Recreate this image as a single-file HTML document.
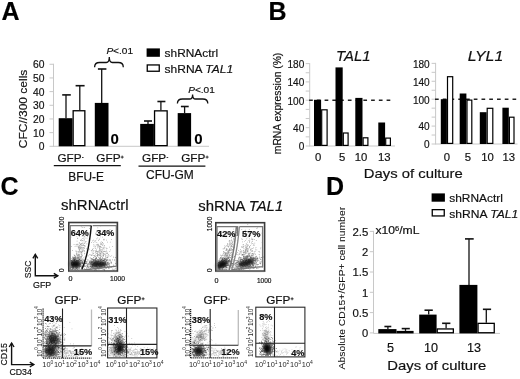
<!DOCTYPE html>
<html><head><meta charset="utf-8"><style>
html,body{margin:0;padding:0;background:#fff;}
body{width:520px;height:379px;overflow:hidden;}
svg{display:block;font-family:"Liberation Sans", sans-serif;filter:grayscale(1);}
text{stroke:#111;stroke-width:0.18px;}
</style></head><body>
<svg width="520" height="379" viewBox="0 0 520 379">
<rect width="520" height="379" fill="#fff"/>
<text x="1.5" y="19.6" font-size="25" font-weight="bold" fill="#000">A</text>
<line x1="53.5" y1="63.780000000000015" x2="53.5" y2="146.8" stroke="#c8c8c8" stroke-width="1"/>
<line x1="49.5" y1="146.3" x2="53.5" y2="146.3" stroke="#c8c8c8" stroke-width="1"/>
<text x="44.5" y="150.4" font-size="10.3" text-anchor="end" fill="#111">0</text>
<line x1="49.5" y1="132.63000000000002" x2="53.5" y2="132.63000000000002" stroke="#c8c8c8" stroke-width="1"/>
<text x="44.5" y="136.73000000000002" font-size="10.3" text-anchor="end" fill="#111">10</text>
<line x1="49.5" y1="118.96000000000001" x2="53.5" y2="118.96000000000001" stroke="#c8c8c8" stroke-width="1"/>
<text x="44.5" y="123.06" font-size="10.3" text-anchor="end" fill="#111">20</text>
<line x1="49.5" y1="105.29000000000002" x2="53.5" y2="105.29000000000002" stroke="#c8c8c8" stroke-width="1"/>
<text x="44.5" y="109.39000000000001" font-size="10.3" text-anchor="end" fill="#111">30</text>
<line x1="49.5" y1="91.62" x2="53.5" y2="91.62" stroke="#c8c8c8" stroke-width="1"/>
<text x="44.5" y="95.72" font-size="10.3" text-anchor="end" fill="#111">40</text>
<line x1="49.5" y1="77.95000000000002" x2="53.5" y2="77.95000000000002" stroke="#c8c8c8" stroke-width="1"/>
<text x="44.5" y="82.05000000000001" font-size="10.3" text-anchor="end" fill="#111">50</text>
<line x1="49.5" y1="64.28000000000002" x2="53.5" y2="64.28000000000002" stroke="#c8c8c8" stroke-width="1"/>
<text x="44.5" y="68.38000000000001" font-size="10.3" text-anchor="end" fill="#111">60</text>
<line x1="53.5" y1="146.3" x2="209" y2="146.3" stroke="#c8c8c8" stroke-width="1"/>
<line x1="66.0" y1="94.9" x2="66.0" y2="118.2" stroke="#111" stroke-width="1.3"/>
<line x1="62.2" y1="94.9" x2="70.8" y2="94.9" stroke="#111" stroke-width="1.6"/>
<line x1="79.8" y1="85.7" x2="79.8" y2="110.1" stroke="#111" stroke-width="1.3"/>
<line x1="75.6" y1="85.7" x2="84.6" y2="85.7" stroke="#111" stroke-width="1.6"/>
<line x1="101.7" y1="69.0" x2="101.7" y2="102.9" stroke="#111" stroke-width="1.3"/>
<line x1="97.9" y1="69.0" x2="106.4" y2="69.0" stroke="#111" stroke-width="1.6"/>
<line x1="148" y1="121" x2="148" y2="124.1" stroke="#111" stroke-width="1.3"/>
<line x1="144" y1="121" x2="152" y2="121" stroke="#111" stroke-width="1.6"/>
<line x1="160.9" y1="101.5" x2="160.9" y2="110.2" stroke="#111" stroke-width="1.3"/>
<line x1="157.4" y1="101.5" x2="165.4" y2="101.5" stroke="#111" stroke-width="1.6"/>
<line x1="184.6" y1="106.5" x2="184.6" y2="113.1" stroke="#111" stroke-width="1.3"/>
<line x1="180.9" y1="106.5" x2="188.7" y2="106.5" stroke="#111" stroke-width="1.6"/>
<rect x="58.70" y="118.20" width="13.80" height="28.10" fill="#000"/>
<rect x="73.15" y="110.75" width="11.70" height="34.90" fill="#fff" stroke="#000" stroke-width="1.3"/>
<rect x="94.80" y="102.90" width="13.70" height="43.40" fill="#000"/>
<rect x="140.20" y="123.90" width="13.70" height="22.40" fill="#000"/>
<rect x="154.55" y="110.85" width="12.60" height="34.80" fill="#fff" stroke="#000" stroke-width="1.3"/>
<rect x="177.70" y="113.10" width="13.40" height="33.20" fill="#000"/>
<text x="110.5" y="143.9" font-size="15" font-weight="bold" fill="#000" style="stroke-width:0.1px">0</text>
<text x="194.3" y="143.8" font-size="15" font-weight="bold" fill="#000" style="stroke-width:0.1px">0</text>
<path d="M94.6,67.2 Q94.6,62.5 99.6,62.5 L106.3,62.5 Q109.3,62.5 109.3,57.0 Q109.3,62.5 112.3,62.5 L118.3,62.5 Q123.3,62.5 123.3,67.2" fill="none" stroke="#111" stroke-width="1.3"/>
<path d="M177.4,103.6 Q177.4,99.0 182.4,99.0 L189.6,99.0 Q192.6,99.0 192.6,94.4 Q192.6,99.0 195.6,99.0 L202.8,99.0 Q207.8,99.0 207.8,103.6" fill="none" stroke="#111" stroke-width="1.3"/>
<text x="106.4" y="54.4" font-size="9.7" textLength="26.6" lengthAdjust="spacingAndGlyphs" fill="#111"><tspan font-style="italic">P</tspan>&lt;.01</text>
<text x="188.2" y="92.9" font-size="9.7" textLength="26.6" lengthAdjust="spacingAndGlyphs" fill="#111"><tspan font-style="italic">P</tspan>&lt;.01</text>
<rect x="146.60" y="48.40" width="13.30" height="8.40" fill="#000"/>
<rect x="147.25" y="64.95" width="12.00" height="6.30" fill="#fff" stroke="#000" stroke-width="1.3"/>
<text x="164.6" y="57.2" font-size="11.8" textLength="53.5" lengthAdjust="spacingAndGlyphs" fill="#111">shRNActrl</text>
<text x="164.6" y="72.9" font-size="11.8" textLength="68.5" lengthAdjust="spacingAndGlyphs" fill="#111">shRNA <tspan font-style="italic">TAL1</tspan></text>
<text x="57.4" y="162.3" font-size="11.2" textLength="24.2" lengthAdjust="spacingAndGlyphs" fill="#111">GFP</text>
<line x1="82.0" y1="157.5" x2="83.6" y2="157.5" stroke="#222" stroke-width="0.9"/>
<text x="96.30000000000001" y="162.3" font-size="11.2" textLength="24.2" lengthAdjust="spacingAndGlyphs" fill="#111">GFP</text>
<line x1="120.7" y1="157.10000000000002" x2="123.7" y2="157.10000000000002" stroke="#222" stroke-width="0.9"/>
<line x1="122.2" y1="155.60000000000002" x2="122.2" y2="158.60000000000002" stroke="#222" stroke-width="0.9"/>
<text x="142.0" y="162.3" font-size="11.2" textLength="24.2" lengthAdjust="spacingAndGlyphs" fill="#111">GFP</text>
<line x1="166.6" y1="157.5" x2="168.2" y2="157.5" stroke="#222" stroke-width="0.9"/>
<text x="181.20000000000002" y="162.3" font-size="11.2" textLength="24.2" lengthAdjust="spacingAndGlyphs" fill="#111">GFP</text>
<line x1="205.6" y1="157.10000000000002" x2="208.6" y2="157.10000000000002" stroke="#222" stroke-width="0.9"/>
<line x1="207.1" y1="155.60000000000002" x2="207.1" y2="158.60000000000002" stroke="#222" stroke-width="0.9"/>
<line x1="53.8" y1="165.6" x2="120.8" y2="165.6" stroke="#111" stroke-width="1.3"/>
<line x1="138.5" y1="166.2" x2="205.4" y2="166.2" stroke="#111" stroke-width="1.3"/>
<text x="68.3" y="180.6" font-size="12" textLength="35.6" lengthAdjust="spacingAndGlyphs" fill="#111">BFU-E</text>
<text x="146.0" y="178.6" font-size="12" textLength="47.8" lengthAdjust="spacingAndGlyphs" fill="#111">CFU-GM</text>
<text transform="translate(26.5,148.2) rotate(-90)" x="0" y="0" font-size="11.8" textLength="78.5" lengthAdjust="spacingAndGlyphs" fill="#111">CFC//300 cells</text>
<text x="268.6" y="19.8" font-size="25" font-weight="bold" fill="#000">B</text>
<line x1="309.7" y1="63.096000000000004" x2="309.7" y2="146.5" stroke="#c8c8c8" stroke-width="1"/>
<line x1="305.7" y1="146.0" x2="309.7" y2="146.0" stroke="#c8c8c8" stroke-width="1"/>
<line x1="305.7" y1="136.844" x2="309.7" y2="136.844" stroke="#c8c8c8" stroke-width="1"/>
<line x1="305.7" y1="127.688" x2="309.7" y2="127.688" stroke="#c8c8c8" stroke-width="1"/>
<line x1="305.7" y1="118.532" x2="309.7" y2="118.532" stroke="#c8c8c8" stroke-width="1"/>
<line x1="305.7" y1="109.376" x2="309.7" y2="109.376" stroke="#c8c8c8" stroke-width="1"/>
<line x1="305.7" y1="100.22" x2="309.7" y2="100.22" stroke="#c8c8c8" stroke-width="1"/>
<line x1="305.7" y1="91.064" x2="309.7" y2="91.064" stroke="#c8c8c8" stroke-width="1"/>
<line x1="305.7" y1="81.908" x2="309.7" y2="81.908" stroke="#c8c8c8" stroke-width="1"/>
<line x1="305.7" y1="72.75200000000001" x2="309.7" y2="72.75200000000001" stroke="#c8c8c8" stroke-width="1"/>
<line x1="305.7" y1="63.596000000000004" x2="309.7" y2="63.596000000000004" stroke="#c8c8c8" stroke-width="1"/>
<text x="304.3" y="67.896" font-size="10.8" text-anchor="end" textLength="16.799999999999997" lengthAdjust="spacingAndGlyphs" fill="#111">180</text>
<text x="304.3" y="86.208" font-size="10.8" text-anchor="end" textLength="16.799999999999997" lengthAdjust="spacingAndGlyphs" fill="#111">140</text>
<text x="304.3" y="104.52" font-size="10.8" text-anchor="end" textLength="16.799999999999997" lengthAdjust="spacingAndGlyphs" fill="#111">100</text>
<text x="304.3" y="131.988" font-size="10.8" text-anchor="end" textLength="11.2" lengthAdjust="spacingAndGlyphs" fill="#111">40</text>
<text x="304.3" y="150.3" font-size="10.8" text-anchor="end" textLength="5.6" lengthAdjust="spacingAndGlyphs" fill="#111">0</text>
<line x1="309.7" y1="146.0" x2="395" y2="146.0" stroke="#c8c8c8" stroke-width="1"/>
<line x1="309.09999999999997" y1="100.22" x2="392" y2="100.22" stroke="#222" stroke-width="1.4" stroke-dasharray="3.7,4.05"/>
<line x1="435.6" y1="62.86" x2="435.6" y2="144.5" stroke="#c8c8c8" stroke-width="1"/>
<line x1="431.6" y1="144.0" x2="435.6" y2="144.0" stroke="#c8c8c8" stroke-width="1"/>
<line x1="431.6" y1="135.04" x2="435.6" y2="135.04" stroke="#c8c8c8" stroke-width="1"/>
<line x1="431.6" y1="126.08" x2="435.6" y2="126.08" stroke="#c8c8c8" stroke-width="1"/>
<line x1="431.6" y1="117.12" x2="435.6" y2="117.12" stroke="#c8c8c8" stroke-width="1"/>
<line x1="431.6" y1="108.16" x2="435.6" y2="108.16" stroke="#c8c8c8" stroke-width="1"/>
<line x1="431.6" y1="99.19999999999999" x2="435.6" y2="99.19999999999999" stroke="#c8c8c8" stroke-width="1"/>
<line x1="431.6" y1="90.24000000000001" x2="435.6" y2="90.24000000000001" stroke="#c8c8c8" stroke-width="1"/>
<line x1="431.6" y1="81.28" x2="435.6" y2="81.28" stroke="#c8c8c8" stroke-width="1"/>
<line x1="431.6" y1="72.32" x2="435.6" y2="72.32" stroke="#c8c8c8" stroke-width="1"/>
<line x1="431.6" y1="63.36" x2="435.6" y2="63.36" stroke="#c8c8c8" stroke-width="1"/>
<text x="429.7" y="67.66" font-size="10.8" text-anchor="end" textLength="16.799999999999997" lengthAdjust="spacingAndGlyphs" fill="#111">180</text>
<text x="429.7" y="85.58" font-size="10.8" text-anchor="end" textLength="16.799999999999997" lengthAdjust="spacingAndGlyphs" fill="#111">140</text>
<text x="429.7" y="103.49999999999999" font-size="10.8" text-anchor="end" textLength="16.799999999999997" lengthAdjust="spacingAndGlyphs" fill="#111">100</text>
<text x="429.7" y="130.38" font-size="10.8" text-anchor="end" textLength="11.2" lengthAdjust="spacingAndGlyphs" fill="#111">40</text>
<text x="429.7" y="148.3" font-size="10.8" text-anchor="end" textLength="5.6" lengthAdjust="spacingAndGlyphs" fill="#111">0</text>
<line x1="435.6" y1="144.0" x2="517.5" y2="144.0" stroke="#c8c8c8" stroke-width="1"/>
<line x1="435.0" y1="99.19999999999999" x2="517.5" y2="99.19999999999999" stroke="#222" stroke-width="1.4" stroke-dasharray="3.7,4.05"/>
<rect x="314.00" y="99.80" width="7.10" height="46.20" fill="#000"/>
<rect x="321.70" y="109.80" width="5.40" height="35.60" fill="#fff" stroke="#000" stroke-width="1.2"/>
<rect x="335.50" y="67.40" width="7.20" height="78.60" fill="#000"/>
<rect x="343.30" y="133.00" width="4.80" height="12.40" fill="#fff" stroke="#000" stroke-width="1.2"/>
<rect x="355.30" y="97.90" width="7.20" height="48.10" fill="#000"/>
<rect x="363.10" y="137.80" width="4.80" height="7.60" fill="#fff" stroke="#000" stroke-width="1.2"/>
<rect x="378.30" y="122.50" width="6.80" height="23.50" fill="#000"/>
<rect x="385.70" y="138.10" width="4.70" height="7.30" fill="#fff" stroke="#000" stroke-width="1.2"/>
<rect x="440.80" y="99.20" width="6.10" height="44.80" fill="#000"/>
<rect x="447.50" y="76.70" width="5.20" height="66.70" fill="#fff" stroke="#000" stroke-width="1.2"/>
<rect x="459.70" y="93.50" width="6.70" height="50.50" fill="#000"/>
<rect x="467.00" y="100.10" width="4.80" height="43.30" fill="#fff" stroke="#000" stroke-width="1.2"/>
<rect x="479.80" y="112.20" width="6.80" height="31.80" fill="#000"/>
<rect x="487.20" y="108.30" width="5.60" height="35.10" fill="#fff" stroke="#000" stroke-width="1.2"/>
<rect x="502.40" y="107.70" width="6.40" height="36.30" fill="#000"/>
<rect x="509.40" y="117.20" width="4.60" height="26.20" fill="#fff" stroke="#000" stroke-width="1.2"/>
<text x="314.9" y="161.0" font-size="11.3" fill="#111">0</text>
<text x="339.1" y="161.0" font-size="11.3" fill="#111">5</text>
<text x="354.7" y="161.0" font-size="11.3" fill="#111">10</text>
<text x="378.0" y="161.0" font-size="11.3" fill="#111">13</text>
<text x="443.7" y="161.0" font-size="11.3" fill="#111">0</text>
<text x="464.8" y="161.0" font-size="11.3" fill="#111">5</text>
<text x="481.3" y="161.0" font-size="11.3" fill="#111">10</text>
<text x="502.4" y="161.0" font-size="11.3" fill="#111">13</text>
<text x="336.0" y="60.9" font-size="14.5" font-style="italic" textLength="34.5" lengthAdjust="spacingAndGlyphs" fill="#111">TAL1</text>
<text x="467.7" y="60.9" font-size="14.5" font-style="italic" textLength="35.5" lengthAdjust="spacingAndGlyphs" fill="#111">LYL1</text>
<text transform="translate(281.4,154.2) rotate(-90)" x="0" y="0" font-size="10.2" textLength="101.5" lengthAdjust="spacingAndGlyphs" fill="#111">mRNA expression (%)</text>
<text x="363.8" y="177.6" font-size="13.6" textLength="99" lengthAdjust="spacingAndGlyphs" fill="#111">Days of culture</text>
<text x="0.5" y="195.0" font-size="25" font-weight="bold" fill="#000">C</text>
<text x="61.0" y="210.1" font-size="14.6" textLength="67.5" lengthAdjust="spacingAndGlyphs" fill="#111">shRNActrl</text>
<text x="198.2" y="211.3" font-size="14.6" textLength="85" lengthAdjust="spacingAndGlyphs" fill="#111">shRNA <tspan font-style="italic">TAL1</tspan></text>
<defs><filter id="bl" x="-50%" y="-50%" width="200%" height="200%"><feGaussianBlur stdDeviation="1.6"/></filter><filter id="bl2" x="-50%" y="-50%" width="200%" height="200%"><feGaussianBlur stdDeviation="0.9"/></filter><filter id="soft" x="-5%" y="-5%" width="110%" height="110%"><feGaussianBlur stdDeviation="0.35"/></filter></defs>
<g filter="url(#soft)">
<ellipse cx="75" cy="264" rx="5.5" ry="3.6" fill="#000" opacity="0.9" filter="url(#bl)"/>
<ellipse cx="98.5" cy="264" rx="8.5" ry="3.2" fill="#000" opacity="0.8" filter="url(#bl)"/>
<path d="M70.3 264.6h0.8v0.8h-0.8zM78.8 262.1h0.8v0.8h-0.8zM69.9 263.3h0.8v0.8h-0.8zM76.8 266.6h0.8v0.8h-0.8zM70.4 259.9h0.8v0.8h-0.8zM77.7 264.8h0.8v0.8h-0.8zM80.8 266.3h0.8v0.8h-0.8zM74.6 262.7h0.8v0.8h-0.8zM84.8 262.7h0.8v0.8h-0.8zM72.0 260.3h0.8v0.8h-0.8zM75.4 263.9h0.8v0.8h-0.8zM73.7 263.3h0.8v0.8h-0.8zM76.0 265.4h0.8v0.8h-0.8zM79.2 264.1h0.8v0.8h-0.8zM72.0 264.1h0.8v0.8h-0.8zM87.5 263.4h0.8v0.8h-0.8zM78.2 259.8h0.8v0.8h-0.8zM73.9 265.4h0.8v0.8h-0.8zM74.6 264.5h0.8v0.8h-0.8zM75.4 260.7h0.8v0.8h-0.8zM77.1 261.2h0.8v0.8h-0.8zM82.1 262.1h0.8v0.8h-0.8zM77.6 263.5h0.8v0.8h-0.8zM78.6 261.8h0.8v0.8h-0.8zM78.8 263.2h0.8v0.8h-0.8zM79.8 265.2h0.8v0.8h-0.8zM75.5 261.3h0.8v0.8h-0.8zM77.9 264.8h0.8v0.8h-0.8zM81.2 262.4h0.8v0.8h-0.8zM77.1 264.9h0.8v0.8h-0.8zM76.1 264.1h0.8v0.8h-0.8zM75.7 261.8h0.8v0.8h-0.8zM71.1 262.4h0.8v0.8h-0.8zM77.2 267.7h0.8v0.8h-0.8zM78.7 266.4h0.8v0.8h-0.8zM78.0 265.5h0.8v0.8h-0.8zM75.7 265.7h0.8v0.8h-0.8zM81.7 262.6h0.8v0.8h-0.8zM72.4 269.0h0.8v0.8h-0.8zM75.9 266.2h0.8v0.8h-0.8zM78.3 260.3h0.8v0.8h-0.8zM84.2 268.5h0.8v0.8h-0.8zM75.7 265.6h0.8v0.8h-0.8zM75.5 261.0h0.8v0.8h-0.8zM74.6 264.5h0.8v0.8h-0.8zM79.2 265.5h0.8v0.8h-0.8zM75.2 267.3h0.8v0.8h-0.8zM72.1 265.7h0.8v0.8h-0.8zM79.2 262.7h0.8v0.8h-0.8zM75.9 265.0h0.8v0.8h-0.8zM80.9 260.7h0.8v0.8h-0.8zM75.0 265.3h0.8v0.8h-0.8zM74.4 256.9h0.8v0.8h-0.8zM78.1 270.0h0.8v0.8h-0.8zM78.8 260.9h0.8v0.8h-0.8zM73.4 264.1h0.8v0.8h-0.8zM84.5 265.2h0.8v0.8h-0.8zM75.4 267.9h0.8v0.8h-0.8zM74.7 268.7h0.8v0.8h-0.8zM72.4 262.2h0.8v0.8h-0.8zM77.7 267.5h0.8v0.8h-0.8zM77.5 264.3h0.8v0.8h-0.8zM72.7 262.0h0.8v0.8h-0.8zM77.2 262.6h0.8v0.8h-0.8zM78.0 263.7h0.8v0.8h-0.8zM73.7 263.8h0.8v0.8h-0.8zM76.6 265.9h0.8v0.8h-0.8zM73.2 262.8h0.8v0.8h-0.8zM69.8 268.0h0.8v0.8h-0.8zM80.5 263.0h0.8v0.8h-0.8zM73.2 260.0h0.8v0.8h-0.8zM75.6 264.1h0.8v0.8h-0.8zM83.3 264.2h0.8v0.8h-0.8zM72.0 256.7h0.8v0.8h-0.8zM80.4 264.0h0.8v0.8h-0.8zM79.3 265.1h0.8v0.8h-0.8zM74.3 257.5h0.8v0.8h-0.8zM74.5 259.1h0.8v0.8h-0.8zM77.3 257.5h0.8v0.8h-0.8zM71.6 266.9h0.8v0.8h-0.8zM81.2 260.2h0.8v0.8h-0.8zM78.2 260.7h0.8v0.8h-0.8zM72.4 261.6h0.8v0.8h-0.8zM70.5 261.6h0.8v0.8h-0.8zM79.8 265.4h0.8v0.8h-0.8zM82.8 263.3h0.8v0.8h-0.8zM74.5 260.7h0.8v0.8h-0.8zM74.5 259.8h0.8v0.8h-0.8zM80.5 265.8h0.8v0.8h-0.8zM80.1 264.2h0.8v0.8h-0.8zM72.3 263.7h0.8v0.8h-0.8zM73.6 260.4h0.8v0.8h-0.8zM75.0 263.9h0.8v0.8h-0.8zM73.2 267.5h0.8v0.8h-0.8zM75.7 265.1h0.8v0.8h-0.8zM79.6 261.2h0.8v0.8h-0.8zM72.4 267.2h0.8v0.8h-0.8zM76.3 266.3h0.8v0.8h-0.8zM77.9 257.7h0.8v0.8h-0.8zM77.7 261.6h0.8v0.8h-0.8zM72.1 262.3h0.8v0.8h-0.8zM77.9 266.0h0.8v0.8h-0.8zM78.8 258.9h0.8v0.8h-0.8zM72.8 256.8h0.8v0.8h-0.8zM74.6 265.2h0.8v0.8h-0.8zM72.1 264.2h0.8v0.8h-0.8zM75.9 266.3h0.8v0.8h-0.8zM71.9 261.2h0.8v0.8h-0.8zM72.1 268.4h0.8v0.8h-0.8zM79.1 263.2h0.8v0.8h-0.8zM75.9 263.8h0.8v0.8h-0.8zM75.8 262.9h0.8v0.8h-0.8zM73.7 260.0h0.8v0.8h-0.8zM72.6 268.1h0.8v0.8h-0.8zM77.0 263.7h0.8v0.8h-0.8zM74.2 263.7h0.8v0.8h-0.8zM76.3 261.7h0.8v0.8h-0.8zM75.7 264.2h0.8v0.8h-0.8zM72.2 261.3h0.8v0.8h-0.8zM71.2 260.5h0.8v0.8h-0.8zM78.4 256.9h0.8v0.8h-0.8zM74.0 261.8h0.8v0.8h-0.8zM72.6 263.8h0.8v0.8h-0.8zM79.3 263.7h0.8v0.8h-0.8zM74.5 261.8h0.8v0.8h-0.8zM74.5 266.1h0.8v0.8h-0.8zM73.5 260.3h0.8v0.8h-0.8zM70.2 260.4h0.8v0.8h-0.8zM76.3 262.8h0.8v0.8h-0.8zM80.5 261.7h0.8v0.8h-0.8zM77.9 265.7h0.8v0.8h-0.8zM71.5 266.0h0.8v0.8h-0.8zM79.9 260.1h0.8v0.8h-0.8zM79.0 262.4h0.8v0.8h-0.8zM73.5 262.0h0.8v0.8h-0.8zM73.8 258.4h0.8v0.8h-0.8zM71.2 260.0h0.8v0.8h-0.8zM76.9 269.3h0.8v0.8h-0.8zM85.4 262.6h0.8v0.8h-0.8zM71.4 269.1h0.8v0.8h-0.8zM77.2 261.5h0.8v0.8h-0.8zM78.6 265.0h0.8v0.8h-0.8zM74.1 263.6h0.8v0.8h-0.8zM75.5 262.6h0.8v0.8h-0.8zM75.7 261.9h0.8v0.8h-0.8zM71.6 267.7h0.8v0.8h-0.8zM76.4 264.7h0.8v0.8h-0.8zM78.1 259.9h0.8v0.8h-0.8zM79.2 262.4h0.8v0.8h-0.8zM76.5 263.1h0.8v0.8h-0.8zM75.8 266.9h0.8v0.8h-0.8zM73.5 267.9h0.8v0.8h-0.8zM72.0 260.9h0.8v0.8h-0.8zM77.7 260.5h0.8v0.8h-0.8zM73.6 266.0h0.8v0.8h-0.8zM79.6 258.5h0.8v0.8h-0.8zM76.9 268.8h0.8v0.8h-0.8zM79.5 262.8h0.8v0.8h-0.8zM72.7 262.7h0.8v0.8h-0.8zM70.6 262.8h0.8v0.8h-0.8zM74.3 263.1h0.8v0.8h-0.8zM79.5 262.9h0.8v0.8h-0.8zM70.9 262.2h0.8v0.8h-0.8zM74.5 262.5h0.8v0.8h-0.8zM71.2 262.8h0.8v0.8h-0.8zM83.3 261.8h0.8v0.8h-0.8zM74.5 266.6h0.8v0.8h-0.8zM77.8 265.6h0.8v0.8h-0.8zM78.3 258.0h0.8v0.8h-0.8zM71.7 263.9h0.8v0.8h-0.8zM76.9 267.1h0.8v0.8h-0.8zM76.8 262.8h0.8v0.8h-0.8zM75.1 262.9h0.8v0.8h-0.8zM75.9 265.4h0.8v0.8h-0.8zM73.7 261.2h0.8v0.8h-0.8zM71.8 266.6h0.8v0.8h-0.8zM79.9 266.3h0.8v0.8h-0.8zM78.3 265.8h0.8v0.8h-0.8zM75.0 265.4h0.8v0.8h-0.8zM71.0 262.9h0.8v0.8h-0.8zM72.2 265.5h0.8v0.8h-0.8zM72.8 263.2h0.8v0.8h-0.8zM76.5 267.3h0.8v0.8h-0.8zM72.0 260.9h0.8v0.8h-0.8zM78.1 260.4h0.8v0.8h-0.8zM76.7 261.9h0.8v0.8h-0.8zM74.6 258.4h0.8v0.8h-0.8zM77.7 262.1h0.8v0.8h-0.8zM71.6 269.3h0.8v0.8h-0.8zM76.5 262.5h0.8v0.8h-0.8zM75.4 268.0h0.8v0.8h-0.8zM74.9 264.8h0.8v0.8h-0.8zM77.0 261.0h0.8v0.8h-0.8zM75.5 262.1h0.8v0.8h-0.8zM70.3 265.9h0.8v0.8h-0.8zM77.5 263.7h0.8v0.8h-0.8zM71.6 257.9h0.8v0.8h-0.8zM76.8 263.2h0.8v0.8h-0.8zM75.5 264.5h0.8v0.8h-0.8zM75.8 264.0h0.8v0.8h-0.8zM70.7 262.4h0.8v0.8h-0.8zM73.1 262.8h0.8v0.8h-0.8zM76.0 265.2h0.8v0.8h-0.8zM81.2 256.3h0.8v0.8h-0.8zM76.5 262.9h0.8v0.8h-0.8zM83.6 266.1h0.8v0.8h-0.8zM73.0 266.3h0.8v0.8h-0.8zM71.0 263.2h0.8v0.8h-0.8zM74.5 263.2h0.8v0.8h-0.8zM72.8 258.4h0.8v0.8h-0.8zM76.7 266.3h0.8v0.8h-0.8zM74.7 260.7h0.8v0.8h-0.8zM75.8 265.1h0.8v0.8h-0.8zM74.3 263.5h0.8v0.8h-0.8zM80.4 260.4h0.8v0.8h-0.8zM72.9 258.2h0.8v0.8h-0.8zM72.3 261.4h0.8v0.8h-0.8zM71.4 261.6h0.8v0.8h-0.8zM81.8 263.0h0.8v0.8h-0.8zM74.6 269.7h0.8v0.8h-0.8zM74.8 258.6h0.8v0.8h-0.8zM76.5 260.9h0.8v0.8h-0.8zM81.2 260.0h0.8v0.8h-0.8zM72.8 259.0h0.8v0.8h-0.8zM75.4 260.7h0.8v0.8h-0.8zM74.8 262.4h0.8v0.8h-0.8zM72.7 266.1h0.8v0.8h-0.8zM78.6 263.7h0.8v0.8h-0.8zM71.6 260.5h0.8v0.8h-0.8zM76.0 270.2h0.8v0.8h-0.8zM73.3 261.3h0.8v0.8h-0.8zM72.3 260.4h0.8v0.8h-0.8zM71.3 262.9h0.8v0.8h-0.8zM80.4 263.5h0.8v0.8h-0.8zM73.1 259.0h0.8v0.8h-0.8zM75.8 263.4h0.8v0.8h-0.8zM70.3 260.5h0.8v0.8h-0.8zM74.8 266.3h0.8v0.8h-0.8zM77.4 264.1h0.8v0.8h-0.8zM73.8 264.4h0.8v0.8h-0.8zM75.0 269.6h0.8v0.8h-0.8zM70.7 262.5h0.8v0.8h-0.8zM79.8 262.8h0.8v0.8h-0.8zM80.4 263.4h0.8v0.8h-0.8zM75.6 262.5h0.8v0.8h-0.8zM83.4 265.3h0.8v0.8h-0.8zM77.3 266.2h0.8v0.8h-0.8zM77.2 266.4h0.8v0.8h-0.8zM74.0 262.9h0.8v0.8h-0.8zM78.7 262.5h0.8v0.8h-0.8zM69.9 262.9h0.8v0.8h-0.8zM72.9 265.2h0.8v0.8h-0.8zM72.3 260.5h0.8v0.8h-0.8zM73.7 267.8h0.8v0.8h-0.8zM74.8 264.0h0.8v0.8h-0.8zM75.0 264.3h0.8v0.8h-0.8zM78.5 267.4h0.8v0.8h-0.8zM75.0 262.6h0.8v0.8h-0.8zM84.1 263.0h0.8v0.8h-0.8zM82.4 266.2h0.8v0.8h-0.8zM71.1 264.9h0.8v0.8h-0.8zM77.8 263.1h0.8v0.8h-0.8zM74.3 260.4h0.8v0.8h-0.8zM81.9 262.8h0.8v0.8h-0.8zM73.5 262.7h0.8v0.8h-0.8zM72.0 261.3h0.8v0.8h-0.8zM75.4 264.4h0.8v0.8h-0.8zM73.1 263.2h0.8v0.8h-0.8zM72.2 264.1h0.8v0.8h-0.8zM71.6 262.1h0.8v0.8h-0.8zM75.8 260.1h0.8v0.8h-0.8zM84.4 263.4h0.8v0.8h-0.8zM74.7 261.4h0.8v0.8h-0.8zM81.1 267.4h0.8v0.8h-0.8zM76.1 259.7h0.8v0.8h-0.8zM73.1 265.2h0.8v0.8h-0.8zM73.1 260.2h0.8v0.8h-0.8zM70.5 261.3h0.8v0.8h-0.8zM75.1 261.7h0.8v0.8h-0.8zM81.7 260.6h0.8v0.8h-0.8zM76.3 263.7h0.8v0.8h-0.8zM74.5 266.4h0.8v0.8h-0.8zM73.7 262.6h0.8v0.8h-0.8zM73.6 263.2h0.8v0.8h-0.8zM79.9 265.7h0.8v0.8h-0.8zM69.9 262.3h0.8v0.8h-0.8zM72.0 265.8h0.8v0.8h-0.8zM75.9 266.0h0.8v0.8h-0.8zM74.8 258.2h0.8v0.8h-0.8zM76.7 264.1h0.8v0.8h-0.8zM76.9 259.9h0.8v0.8h-0.8zM75.3 261.6h0.8v0.8h-0.8zM72.4 264.5h0.8v0.8h-0.8zM76.3 261.0h0.8v0.8h-0.8zM72.8 266.6h0.8v0.8h-0.8zM74.8 257.2h0.8v0.8h-0.8zM71.7 264.7h0.8v0.8h-0.8zM81.4 266.8h0.8v0.8h-0.8zM76.4 264.1h0.8v0.8h-0.8zM71.0 262.2h0.8v0.8h-0.8zM73.7 261.3h0.8v0.8h-0.8zM75.2 262.4h0.8v0.8h-0.8zM76.3 267.5h0.8v0.8h-0.8zM77.8 264.7h0.8v0.8h-0.8zM74.1 259.2h0.8v0.8h-0.8zM74.6 265.0h0.8v0.8h-0.8zM71.2 267.0h0.8v0.8h-0.8zM73.7 264.5h0.8v0.8h-0.8zM73.8 260.0h0.8v0.8h-0.8zM82.9 260.2h0.8v0.8h-0.8zM78.5 261.9h0.8v0.8h-0.8zM76.1 261.2h0.8v0.8h-0.8zM73.4 266.1h0.8v0.8h-0.8zM82.4 261.1h0.8v0.8h-0.8zM75.0 266.2h0.8v0.8h-0.8zM72.6 265.5h0.8v0.8h-0.8zM72.0 265.2h0.8v0.8h-0.8zM76.7 266.9h0.8v0.8h-0.8zM76.4 260.2h0.8v0.8h-0.8zM77.5 260.4h0.8v0.8h-0.8zM77.9 267.7h0.8v0.8h-0.8zM77.3 262.0h0.8v0.8h-0.8zM79.5 264.0h0.8v0.8h-0.8zM70.3 262.5h0.8v0.8h-0.8zM80.4 262.6h0.8v0.8h-0.8zM75.5 262.5h0.8v0.8h-0.8zM76.4 264.1h0.8v0.8h-0.8zM74.3 257.5h0.8v0.8h-0.8zM79.6 265.5h0.8v0.8h-0.8zM78.9 267.1h0.8v0.8h-0.8zM73.3 261.8h0.8v0.8h-0.8zM76.2 268.2h0.8v0.8h-0.8zM72.3 265.1h0.8v0.8h-0.8zM80.6 262.7h0.8v0.8h-0.8zM70.3 263.6h0.8v0.8h-0.8zM73.9 259.2h0.8v0.8h-0.8zM78.4 262.0h0.8v0.8h-0.8zM77.6 259.8h0.8v0.8h-0.8zM79.2 259.5h0.8v0.8h-0.8zM79.0 258.4h0.8v0.8h-0.8zM80.2 262.5h0.8v0.8h-0.8zM76.3 260.7h0.8v0.8h-0.8zM73.1 264.3h0.8v0.8h-0.8zM74.4 254.9h0.8v0.8h-0.8zM73.4 264.7h0.8v0.8h-0.8zM76.1 266.3h0.8v0.8h-0.8zM78.0 264.4h0.8v0.8h-0.8zM79.1 266.2h0.8v0.8h-0.8zM75.4 261.8h0.8v0.8h-0.8zM78.9 264.7h0.8v0.8h-0.8zM76.8 263.8h0.8v0.8h-0.8zM76.1 265.3h0.8v0.8h-0.8zM75.6 267.9h0.8v0.8h-0.8zM72.8 262.4h0.8v0.8h-0.8zM76.2 265.6h0.8v0.8h-0.8zM78.0 267.7h0.8v0.8h-0.8zM73.2 266.8h0.8v0.8h-0.8zM76.8 260.6h0.8v0.8h-0.8zM74.5 269.3h0.8v0.8h-0.8zM78.0 262.2h0.8v0.8h-0.8zM72.3 263.7h0.8v0.8h-0.8zM83.8 265.6h0.8v0.8h-0.8zM76.2 260.9h0.8v0.8h-0.8zM70.5 262.9h0.8v0.8h-0.8zM73.5 261.8h0.8v0.8h-0.8zM79.3 263.7h0.8v0.8h-0.8zM70.3 267.1h0.8v0.8h-0.8zM73.8 259.8h0.8v0.8h-0.8zM76.2 264.9h0.8v0.8h-0.8zM73.7 265.5h0.8v0.8h-0.8zM78.1 261.0h0.8v0.8h-0.8zM74.5 266.9h0.8v0.8h-0.8zM78.8 267.4h0.8v0.8h-0.8zM82.1 263.5h0.8v0.8h-0.8zM79.0 259.2h0.8v0.8h-0.8zM77.6 264.6h0.8v0.8h-0.8zM74.6 262.3h0.8v0.8h-0.8zM70.8 263.9h0.8v0.8h-0.8zM79.9 262.5h0.8v0.8h-0.8zM77.0 261.6h0.8v0.8h-0.8zM76.0 260.7h0.8v0.8h-0.8zM76.4 262.9h0.8v0.8h-0.8zM76.2 261.8h0.8v0.8h-0.8zM70.5 262.6h0.8v0.8h-0.8zM78.9 267.9h0.8v0.8h-0.8z" fill="#000" opacity="0.55"/>
<path d="M96.2 265.7h0.8v0.8h-0.8zM103.8 264.6h0.8v0.8h-0.8zM87.6 264.4h0.8v0.8h-0.8zM91.7 266.8h0.8v0.8h-0.8zM104.0 265.2h0.8v0.8h-0.8zM80.7 265.2h0.8v0.8h-0.8zM103.4 259.9h0.8v0.8h-0.8zM105.3 263.7h0.8v0.8h-0.8zM97.2 261.5h0.8v0.8h-0.8zM91.4 262.3h0.8v0.8h-0.8zM100.0 261.7h0.8v0.8h-0.8zM94.2 262.0h0.8v0.8h-0.8zM92.3 266.0h0.8v0.8h-0.8zM96.6 265.9h0.8v0.8h-0.8zM90.4 266.1h0.8v0.8h-0.8zM98.3 265.4h0.8v0.8h-0.8zM97.8 261.0h0.8v0.8h-0.8zM107.0 262.3h0.8v0.8h-0.8zM97.5 261.0h0.8v0.8h-0.8zM99.9 262.4h0.8v0.8h-0.8zM100.5 264.5h0.8v0.8h-0.8zM93.7 259.6h0.8v0.8h-0.8zM101.5 266.1h0.8v0.8h-0.8zM103.4 260.3h0.8v0.8h-0.8zM102.7 264.6h0.8v0.8h-0.8zM100.5 264.7h0.8v0.8h-0.8zM96.2 264.1h0.8v0.8h-0.8zM105.0 262.1h0.8v0.8h-0.8zM88.4 263.2h0.8v0.8h-0.8zM99.9 258.3h0.8v0.8h-0.8zM93.8 265.2h0.8v0.8h-0.8zM97.4 263.8h0.8v0.8h-0.8zM89.7 266.0h0.8v0.8h-0.8zM110.8 262.9h0.8v0.8h-0.8zM93.4 260.3h0.8v0.8h-0.8zM104.7 263.8h0.8v0.8h-0.8zM92.9 266.9h0.8v0.8h-0.8zM103.9 265.2h0.8v0.8h-0.8zM86.2 263.2h0.8v0.8h-0.8zM102.9 260.1h0.8v0.8h-0.8zM105.0 267.5h0.8v0.8h-0.8zM105.7 261.5h0.8v0.8h-0.8zM93.5 266.1h0.8v0.8h-0.8zM105.5 266.9h0.8v0.8h-0.8zM106.9 263.2h0.8v0.8h-0.8zM95.6 258.3h0.8v0.8h-0.8zM104.0 269.9h0.8v0.8h-0.8zM95.3 262.2h0.8v0.8h-0.8zM103.0 264.5h0.8v0.8h-0.8zM88.9 261.5h0.8v0.8h-0.8zM90.8 269.2h0.8v0.8h-0.8zM93.5 265.9h0.8v0.8h-0.8zM111.9 268.8h0.8v0.8h-0.8zM108.5 268.1h0.8v0.8h-0.8zM89.9 262.5h0.8v0.8h-0.8zM93.4 262.7h0.8v0.8h-0.8zM102.4 260.0h0.8v0.8h-0.8zM107.9 267.1h0.8v0.8h-0.8zM94.9 269.3h0.8v0.8h-0.8zM99.0 267.1h0.8v0.8h-0.8zM100.7 261.9h0.8v0.8h-0.8zM95.8 263.2h0.8v0.8h-0.8zM102.8 263.9h0.8v0.8h-0.8zM115.0 263.0h0.8v0.8h-0.8zM95.2 261.5h0.8v0.8h-0.8zM93.1 259.5h0.8v0.8h-0.8zM91.6 266.0h0.8v0.8h-0.8zM98.9 263.0h0.8v0.8h-0.8zM101.0 266.5h0.8v0.8h-0.8zM102.8 265.7h0.8v0.8h-0.8zM94.6 262.8h0.8v0.8h-0.8zM93.1 263.2h0.8v0.8h-0.8zM92.8 262.5h0.8v0.8h-0.8zM97.3 262.9h0.8v0.8h-0.8zM96.6 262.1h0.8v0.8h-0.8zM107.7 262.5h0.8v0.8h-0.8zM91.4 264.0h0.8v0.8h-0.8zM90.9 260.5h0.8v0.8h-0.8zM99.1 258.8h0.8v0.8h-0.8zM76.0 264.3h0.8v0.8h-0.8zM105.7 258.8h0.8v0.8h-0.8zM92.2 265.1h0.8v0.8h-0.8zM84.6 261.1h0.8v0.8h-0.8zM90.1 262.9h0.8v0.8h-0.8zM84.7 266.0h0.8v0.8h-0.8zM97.5 264.3h0.8v0.8h-0.8zM96.2 257.6h0.8v0.8h-0.8zM97.4 259.7h0.8v0.8h-0.8zM98.6 261.1h0.8v0.8h-0.8zM96.3 262.9h0.8v0.8h-0.8zM103.9 265.6h0.8v0.8h-0.8zM91.5 263.5h0.8v0.8h-0.8zM108.7 264.9h0.8v0.8h-0.8zM93.4 263.2h0.8v0.8h-0.8zM96.1 266.1h0.8v0.8h-0.8zM98.7 264.6h0.8v0.8h-0.8zM114.0 259.6h0.8v0.8h-0.8zM91.4 258.7h0.8v0.8h-0.8zM87.4 265.9h0.8v0.8h-0.8zM100.5 268.1h0.8v0.8h-0.8zM84.7 261.0h0.8v0.8h-0.8zM108.6 266.4h0.8v0.8h-0.8zM104.7 265.9h0.8v0.8h-0.8zM98.7 263.5h0.8v0.8h-0.8zM98.7 265.9h0.8v0.8h-0.8zM97.4 264.4h0.8v0.8h-0.8zM108.7 260.3h0.8v0.8h-0.8zM93.2 265.1h0.8v0.8h-0.8zM96.7 263.1h0.8v0.8h-0.8zM113.2 264.7h0.8v0.8h-0.8zM95.6 266.6h0.8v0.8h-0.8zM93.8 263.8h0.8v0.8h-0.8zM94.0 269.6h0.8v0.8h-0.8zM102.2 262.4h0.8v0.8h-0.8zM101.9 261.3h0.8v0.8h-0.8zM94.3 263.8h0.8v0.8h-0.8zM115.2 257.2h0.8v0.8h-0.8zM101.4 267.3h0.8v0.8h-0.8zM103.7 268.9h0.8v0.8h-0.8zM101.7 263.9h0.8v0.8h-0.8zM97.6 261.1h0.8v0.8h-0.8zM109.9 260.2h0.8v0.8h-0.8zM97.6 262.0h0.8v0.8h-0.8zM93.0 257.3h0.8v0.8h-0.8zM95.8 263.9h0.8v0.8h-0.8zM99.5 265.9h0.8v0.8h-0.8zM97.4 261.7h0.8v0.8h-0.8zM100.7 265.4h0.8v0.8h-0.8zM92.2 259.2h0.8v0.8h-0.8zM91.3 266.5h0.8v0.8h-0.8zM105.5 261.0h0.8v0.8h-0.8zM99.3 265.8h0.8v0.8h-0.8zM107.8 261.7h0.8v0.8h-0.8zM96.8 267.4h0.8v0.8h-0.8zM115.4 267.8h0.8v0.8h-0.8zM90.5 264.8h0.8v0.8h-0.8zM96.4 263.3h0.8v0.8h-0.8zM93.9 262.2h0.8v0.8h-0.8zM98.4 268.5h0.8v0.8h-0.8zM103.4 264.7h0.8v0.8h-0.8zM98.7 261.4h0.8v0.8h-0.8zM96.9 267.0h0.8v0.8h-0.8zM104.3 269.0h0.8v0.8h-0.8zM100.3 263.4h0.8v0.8h-0.8zM87.2 264.6h0.8v0.8h-0.8zM86.4 267.8h0.8v0.8h-0.8zM94.1 263.5h0.8v0.8h-0.8zM89.0 262.1h0.8v0.8h-0.8zM92.0 266.7h0.8v0.8h-0.8zM100.2 260.2h0.8v0.8h-0.8zM85.0 263.3h0.8v0.8h-0.8zM95.1 260.4h0.8v0.8h-0.8zM102.6 263.0h0.8v0.8h-0.8zM99.3 261.8h0.8v0.8h-0.8zM94.5 262.2h0.8v0.8h-0.8zM87.3 265.3h0.8v0.8h-0.8zM101.3 258.7h0.8v0.8h-0.8zM99.2 266.7h0.8v0.8h-0.8zM100.2 267.1h0.8v0.8h-0.8zM96.6 263.5h0.8v0.8h-0.8zM89.4 261.0h0.8v0.8h-0.8zM85.7 261.0h0.8v0.8h-0.8zM100.2 265.0h0.8v0.8h-0.8zM106.6 263.9h0.8v0.8h-0.8zM91.6 264.7h0.8v0.8h-0.8zM97.5 268.5h0.8v0.8h-0.8zM112.2 266.2h0.8v0.8h-0.8zM90.5 262.0h0.8v0.8h-0.8zM99.8 261.5h0.8v0.8h-0.8zM102.2 265.4h0.8v0.8h-0.8zM104.4 264.1h0.8v0.8h-0.8zM92.3 261.1h0.8v0.8h-0.8zM97.6 267.2h0.8v0.8h-0.8zM109.5 266.2h0.8v0.8h-0.8zM101.0 265.4h0.8v0.8h-0.8zM104.3 267.1h0.8v0.8h-0.8zM104.5 259.2h0.8v0.8h-0.8zM105.2 264.6h0.8v0.8h-0.8zM95.3 265.0h0.8v0.8h-0.8zM100.5 263.3h0.8v0.8h-0.8zM86.7 263.8h0.8v0.8h-0.8zM102.4 263.4h0.8v0.8h-0.8zM87.4 264.8h0.8v0.8h-0.8zM103.5 264.0h0.8v0.8h-0.8zM101.5 262.5h0.8v0.8h-0.8zM93.9 265.0h0.8v0.8h-0.8zM96.0 264.0h0.8v0.8h-0.8zM99.4 259.0h0.8v0.8h-0.8zM99.2 265.6h0.8v0.8h-0.8zM93.6 262.8h0.8v0.8h-0.8zM82.7 265.1h0.8v0.8h-0.8zM94.3 265.4h0.8v0.8h-0.8zM108.1 263.0h0.8v0.8h-0.8zM105.4 264.2h0.8v0.8h-0.8zM97.1 262.7h0.8v0.8h-0.8zM92.5 267.1h0.8v0.8h-0.8zM104.7 260.7h0.8v0.8h-0.8zM104.4 261.5h0.8v0.8h-0.8zM88.0 266.9h0.8v0.8h-0.8zM89.5 266.8h0.8v0.8h-0.8zM99.9 266.0h0.8v0.8h-0.8zM102.1 266.7h0.8v0.8h-0.8zM100.9 265.1h0.8v0.8h-0.8zM100.2 266.6h0.8v0.8h-0.8zM95.8 266.3h0.8v0.8h-0.8zM109.0 263.3h0.8v0.8h-0.8zM101.6 262.1h0.8v0.8h-0.8zM96.5 264.2h0.8v0.8h-0.8zM96.1 261.0h0.8v0.8h-0.8zM98.3 264.0h0.8v0.8h-0.8zM100.8 265.5h0.8v0.8h-0.8zM86.1 267.5h0.8v0.8h-0.8zM97.3 261.3h0.8v0.8h-0.8zM95.9 264.7h0.8v0.8h-0.8zM104.6 262.5h0.8v0.8h-0.8zM99.6 259.0h0.8v0.8h-0.8zM99.7 263.2h0.8v0.8h-0.8zM95.5 266.0h0.8v0.8h-0.8zM111.1 266.4h0.8v0.8h-0.8zM93.0 267.8h0.8v0.8h-0.8zM96.2 263.4h0.8v0.8h-0.8zM94.4 264.8h0.8v0.8h-0.8zM102.4 263.9h0.8v0.8h-0.8zM97.0 263.1h0.8v0.8h-0.8zM95.7 266.2h0.8v0.8h-0.8zM94.9 263.1h0.8v0.8h-0.8zM97.0 261.4h0.8v0.8h-0.8zM96.9 259.4h0.8v0.8h-0.8zM101.4 265.0h0.8v0.8h-0.8zM96.4 267.8h0.8v0.8h-0.8zM92.8 265.1h0.8v0.8h-0.8zM101.8 262.0h0.8v0.8h-0.8zM96.8 266.0h0.8v0.8h-0.8zM98.9 264.3h0.8v0.8h-0.8zM108.3 264.1h0.8v0.8h-0.8zM86.8 261.4h0.8v0.8h-0.8zM104.3 263.1h0.8v0.8h-0.8zM91.0 258.0h0.8v0.8h-0.8zM100.8 267.7h0.8v0.8h-0.8zM89.8 257.5h0.8v0.8h-0.8zM102.0 262.0h0.8v0.8h-0.8zM96.5 262.6h0.8v0.8h-0.8zM92.2 264.7h0.8v0.8h-0.8zM104.9 264.5h0.8v0.8h-0.8zM94.6 266.4h0.8v0.8h-0.8zM97.7 265.1h0.8v0.8h-0.8zM92.0 265.3h0.8v0.8h-0.8zM103.7 267.1h0.8v0.8h-0.8zM98.7 264.7h0.8v0.8h-0.8zM94.5 266.0h0.8v0.8h-0.8zM103.9 266.5h0.8v0.8h-0.8zM95.8 260.1h0.8v0.8h-0.8zM98.0 262.9h0.8v0.8h-0.8zM93.3 265.2h0.8v0.8h-0.8zM105.1 264.6h0.8v0.8h-0.8zM106.2 264.6h0.8v0.8h-0.8zM91.7 261.9h0.8v0.8h-0.8zM96.1 265.4h0.8v0.8h-0.8zM104.9 263.9h0.8v0.8h-0.8zM105.5 261.2h0.8v0.8h-0.8zM97.7 267.6h0.8v0.8h-0.8zM101.6 266.4h0.8v0.8h-0.8zM85.5 258.9h0.8v0.8h-0.8zM92.5 266.3h0.8v0.8h-0.8zM109.7 261.8h0.8v0.8h-0.8zM91.7 260.7h0.8v0.8h-0.8zM92.4 265.0h0.8v0.8h-0.8zM96.3 268.7h0.8v0.8h-0.8zM103.5 261.6h0.8v0.8h-0.8zM100.1 263.1h0.8v0.8h-0.8zM104.0 266.0h0.8v0.8h-0.8zM96.1 266.0h0.8v0.8h-0.8zM102.4 263.3h0.8v0.8h-0.8zM100.3 265.4h0.8v0.8h-0.8zM96.3 261.6h0.8v0.8h-0.8zM107.3 263.5h0.8v0.8h-0.8zM94.4 264.8h0.8v0.8h-0.8zM88.4 263.7h0.8v0.8h-0.8zM89.1 262.3h0.8v0.8h-0.8zM86.2 261.5h0.8v0.8h-0.8zM104.7 263.0h0.8v0.8h-0.8zM90.2 268.3h0.8v0.8h-0.8zM94.2 267.6h0.8v0.8h-0.8zM94.9 259.5h0.8v0.8h-0.8zM111.2 262.3h0.8v0.8h-0.8zM103.8 266.8h0.8v0.8h-0.8zM89.5 263.7h0.8v0.8h-0.8zM94.6 265.2h0.8v0.8h-0.8zM98.4 260.0h0.8v0.8h-0.8zM98.9 265.6h0.8v0.8h-0.8zM96.5 265.1h0.8v0.8h-0.8zM94.9 263.4h0.8v0.8h-0.8zM100.9 263.9h0.8v0.8h-0.8zM107.3 266.1h0.8v0.8h-0.8zM104.3 265.5h0.8v0.8h-0.8zM99.6 260.3h0.8v0.8h-0.8zM105.8 268.3h0.8v0.8h-0.8zM100.1 262.8h0.8v0.8h-0.8zM98.3 266.8h0.8v0.8h-0.8zM100.5 260.8h0.8v0.8h-0.8zM97.4 261.4h0.8v0.8h-0.8zM97.2 261.1h0.8v0.8h-0.8zM92.6 267.6h0.8v0.8h-0.8zM105.7 259.1h0.8v0.8h-0.8zM91.8 262.3h0.8v0.8h-0.8zM95.9 259.7h0.8v0.8h-0.8zM104.6 259.1h0.8v0.8h-0.8zM103.3 265.4h0.8v0.8h-0.8zM96.0 261.7h0.8v0.8h-0.8zM99.0 263.9h0.8v0.8h-0.8zM84.2 260.1h0.8v0.8h-0.8zM102.2 263.2h0.8v0.8h-0.8zM95.7 260.8h0.8v0.8h-0.8zM93.7 261.4h0.8v0.8h-0.8zM109.1 264.8h0.8v0.8h-0.8zM100.0 264.1h0.8v0.8h-0.8zM96.0 267.9h0.8v0.8h-0.8zM102.0 263.4h0.8v0.8h-0.8zM97.7 264.1h0.8v0.8h-0.8zM90.7 262.7h0.8v0.8h-0.8zM94.3 265.2h0.8v0.8h-0.8zM102.7 258.4h0.8v0.8h-0.8zM97.0 266.2h0.8v0.8h-0.8zM89.7 260.3h0.8v0.8h-0.8zM105.4 263.2h0.8v0.8h-0.8zM95.5 260.2h0.8v0.8h-0.8zM99.7 262.0h0.8v0.8h-0.8zM100.0 264.7h0.8v0.8h-0.8zM103.4 262.6h0.8v0.8h-0.8zM95.0 263.6h0.8v0.8h-0.8zM97.9 264.0h0.8v0.8h-0.8zM94.9 262.9h0.8v0.8h-0.8zM94.5 261.9h0.8v0.8h-0.8zM99.6 266.7h0.8v0.8h-0.8zM94.9 265.1h0.8v0.8h-0.8zM100.9 263.8h0.8v0.8h-0.8zM103.2 262.0h0.8v0.8h-0.8zM102.4 264.3h0.8v0.8h-0.8zM74.7 264.5h0.8v0.8h-0.8zM102.7 268.9h0.8v0.8h-0.8zM91.3 263.8h0.8v0.8h-0.8zM101.0 260.9h0.8v0.8h-0.8zM106.8 264.8h0.8v0.8h-0.8zM93.1 260.2h0.8v0.8h-0.8zM95.7 270.0h0.8v0.8h-0.8zM113.3 256.7h0.8v0.8h-0.8zM86.1 265.4h0.8v0.8h-0.8zM97.8 261.8h0.8v0.8h-0.8zM102.7 263.8h0.8v0.8h-0.8zM100.5 264.2h0.8v0.8h-0.8zM91.1 267.1h0.8v0.8h-0.8zM95.4 266.6h0.8v0.8h-0.8zM103.3 263.6h0.8v0.8h-0.8zM99.5 263.4h0.8v0.8h-0.8zM85.9 262.6h0.8v0.8h-0.8zM101.5 259.1h0.8v0.8h-0.8zM88.3 266.5h0.8v0.8h-0.8zM104.1 259.3h0.8v0.8h-0.8zM101.7 263.4h0.8v0.8h-0.8zM105.3 262.6h0.8v0.8h-0.8zM97.0 261.5h0.8v0.8h-0.8zM99.8 263.2h0.8v0.8h-0.8zM94.0 262.6h0.8v0.8h-0.8zM93.4 265.2h0.8v0.8h-0.8zM91.5 259.2h0.8v0.8h-0.8zM91.9 266.5h0.8v0.8h-0.8zM95.1 265.3h0.8v0.8h-0.8zM103.6 262.1h0.8v0.8h-0.8zM103.7 264.9h0.8v0.8h-0.8zM98.2 261.6h0.8v0.8h-0.8zM98.1 260.0h0.8v0.8h-0.8zM96.6 261.9h0.8v0.8h-0.8zM101.6 264.5h0.8v0.8h-0.8zM94.1 265.9h0.8v0.8h-0.8zM106.8 263.7h0.8v0.8h-0.8zM93.4 264.9h0.8v0.8h-0.8zM81.7 261.9h0.8v0.8h-0.8zM102.6 269.0h0.8v0.8h-0.8zM93.4 267.7h0.8v0.8h-0.8zM114.6 268.7h0.8v0.8h-0.8zM82.3 266.6h0.8v0.8h-0.8zM99.9 266.3h0.8v0.8h-0.8zM97.3 261.8h0.8v0.8h-0.8zM97.0 267.7h0.8v0.8h-0.8zM104.3 262.7h0.8v0.8h-0.8zM101.2 265.9h0.8v0.8h-0.8zM102.5 263.4h0.8v0.8h-0.8zM94.0 261.5h0.8v0.8h-0.8zM95.5 262.0h0.8v0.8h-0.8zM87.6 259.6h0.8v0.8h-0.8zM104.6 260.4h0.8v0.8h-0.8zM89.4 263.4h0.8v0.8h-0.8zM108.6 267.0h0.8v0.8h-0.8zM95.7 260.6h0.8v0.8h-0.8zM94.8 261.0h0.8v0.8h-0.8zM94.7 264.8h0.8v0.8h-0.8zM91.1 261.3h0.8v0.8h-0.8zM96.7 263.4h0.8v0.8h-0.8zM93.2 261.3h0.8v0.8h-0.8zM90.7 261.4h0.8v0.8h-0.8zM102.2 262.8h0.8v0.8h-0.8zM76.9 265.2h0.8v0.8h-0.8zM98.0 261.1h0.8v0.8h-0.8zM96.7 255.1h0.8v0.8h-0.8zM87.0 266.7h0.8v0.8h-0.8zM113.4 269.6h0.8v0.8h-0.8zM93.4 263.6h0.8v0.8h-0.8zM103.9 260.1h0.8v0.8h-0.8zM110.7 261.5h0.8v0.8h-0.8zM101.0 260.3h0.8v0.8h-0.8zM101.1 263.5h0.8v0.8h-0.8zM106.1 260.3h0.8v0.8h-0.8zM98.4 268.6h0.8v0.8h-0.8zM90.2 264.5h0.8v0.8h-0.8zM101.6 262.1h0.8v0.8h-0.8zM96.6 267.5h0.8v0.8h-0.8zM106.5 265.1h0.8v0.8h-0.8zM100.4 260.3h0.8v0.8h-0.8zM99.1 268.5h0.8v0.8h-0.8zM105.9 259.7h0.8v0.8h-0.8zM84.0 261.6h0.8v0.8h-0.8zM99.7 262.0h0.8v0.8h-0.8zM96.4 264.5h0.8v0.8h-0.8zM104.8 264.1h0.8v0.8h-0.8zM107.3 259.5h0.8v0.8h-0.8zM101.8 264.7h0.8v0.8h-0.8zM88.1 267.0h0.8v0.8h-0.8zM87.3 259.5h0.8v0.8h-0.8zM101.1 267.3h0.8v0.8h-0.8zM106.6 260.3h0.8v0.8h-0.8zM101.9 267.4h0.8v0.8h-0.8zM97.4 263.7h0.8v0.8h-0.8zM95.2 265.6h0.8v0.8h-0.8zM94.6 261.9h0.8v0.8h-0.8zM89.9 260.9h0.8v0.8h-0.8zM100.0 264.8h0.8v0.8h-0.8zM95.8 260.6h0.8v0.8h-0.8zM100.9 264.5h0.8v0.8h-0.8zM107.5 262.1h0.8v0.8h-0.8zM95.6 264.9h0.8v0.8h-0.8zM109.2 263.4h0.8v0.8h-0.8zM97.9 260.9h0.8v0.8h-0.8zM95.8 266.2h0.8v0.8h-0.8zM104.5 266.6h0.8v0.8h-0.8zM87.0 265.9h0.8v0.8h-0.8zM92.0 265.2h0.8v0.8h-0.8zM81.8 263.2h0.8v0.8h-0.8zM92.3 267.1h0.8v0.8h-0.8zM99.4 267.2h0.8v0.8h-0.8zM95.4 269.0h0.8v0.8h-0.8zM95.4 268.9h0.8v0.8h-0.8zM95.1 260.7h0.8v0.8h-0.8zM104.8 262.4h0.8v0.8h-0.8zM98.1 259.7h0.8v0.8h-0.8zM96.1 263.8h0.8v0.8h-0.8zM93.5 264.6h0.8v0.8h-0.8zM82.3 266.0h0.8v0.8h-0.8zM95.6 267.7h0.8v0.8h-0.8zM96.0 261.6h0.8v0.8h-0.8zM95.3 264.3h0.8v0.8h-0.8zM102.7 262.2h0.8v0.8h-0.8zM92.9 264.7h0.8v0.8h-0.8zM104.3 258.6h0.8v0.8h-0.8zM91.1 261.6h0.8v0.8h-0.8zM110.6 267.0h0.8v0.8h-0.8zM104.2 264.9h0.8v0.8h-0.8zM90.6 266.7h0.8v0.8h-0.8zM95.4 261.3h0.8v0.8h-0.8zM112.2 259.4h0.8v0.8h-0.8zM108.3 264.1h0.8v0.8h-0.8zM92.0 264.0h0.8v0.8h-0.8zM92.5 264.0h0.8v0.8h-0.8zM93.9 260.1h0.8v0.8h-0.8z" fill="#000" opacity="0.5"/>
<path d="M80.1 247.0h0.75v0.75h-0.75zM75.7 251.1h0.75v0.75h-0.75zM71.1 246.3h0.75v0.75h-0.75zM81.6 246.8h0.75v0.75h-0.75zM83.2 244.5h0.75v0.75h-0.75zM87.3 252.2h0.75v0.75h-0.75zM80.4 256.8h0.75v0.75h-0.75zM81.2 251.9h0.75v0.75h-0.75zM75.9 259.7h0.75v0.75h-0.75zM82.9 250.6h0.75v0.75h-0.75zM77.6 244.7h0.75v0.75h-0.75zM82.2 259.5h0.75v0.75h-0.75zM72.9 257.3h0.75v0.75h-0.75zM81.8 249.3h0.75v0.75h-0.75zM84.0 234.4h0.75v0.75h-0.75zM81.5 234.0h0.75v0.75h-0.75zM80.4 248.0h0.75v0.75h-0.75zM80.1 244.3h0.75v0.75h-0.75zM84.6 242.4h0.75v0.75h-0.75zM81.4 255.1h0.75v0.75h-0.75zM82.5 248.1h0.75v0.75h-0.75zM78.8 256.2h0.75v0.75h-0.75zM79.5 249.2h0.75v0.75h-0.75zM75.3 258.3h0.75v0.75h-0.75zM78.4 256.3h0.75v0.75h-0.75zM80.7 257.1h0.75v0.75h-0.75zM79.3 246.5h0.75v0.75h-0.75zM76.8 256.4h0.75v0.75h-0.75zM76.8 255.6h0.75v0.75h-0.75zM80.3 244.4h0.75v0.75h-0.75zM82.9 245.1h0.75v0.75h-0.75zM77.0 238.0h0.75v0.75h-0.75zM77.6 258.4h0.75v0.75h-0.75zM84.7 246.3h0.75v0.75h-0.75zM73.1 258.0h0.75v0.75h-0.75zM82.1 251.1h0.75v0.75h-0.75zM78.8 253.8h0.75v0.75h-0.75zM86.6 249.4h0.75v0.75h-0.75zM76.7 244.3h0.75v0.75h-0.75zM81.1 247.1h0.75v0.75h-0.75zM80.3 251.1h0.75v0.75h-0.75zM86.6 237.8h0.75v0.75h-0.75zM81.6 252.8h0.75v0.75h-0.75zM76.0 244.6h0.75v0.75h-0.75zM79.8 244.1h0.75v0.75h-0.75zM84.0 231.9h0.75v0.75h-0.75zM80.6 251.4h0.75v0.75h-0.75zM75.0 259.3h0.75v0.75h-0.75zM81.5 250.7h0.75v0.75h-0.75zM80.4 247.9h0.75v0.75h-0.75zM81.5 247.1h0.75v0.75h-0.75zM84.5 236.5h0.75v0.75h-0.75zM82.0 245.3h0.75v0.75h-0.75zM79.3 247.4h0.75v0.75h-0.75zM78.5 259.0h0.75v0.75h-0.75zM80.7 252.2h0.75v0.75h-0.75zM79.5 250.6h0.75v0.75h-0.75zM73.8 259.9h0.75v0.75h-0.75zM80.5 246.7h0.75v0.75h-0.75zM77.3 258.5h0.75v0.75h-0.75zM79.9 232.4h0.75v0.75h-0.75zM82.7 248.3h0.75v0.75h-0.75zM80.6 252.5h0.75v0.75h-0.75zM78.0 246.6h0.75v0.75h-0.75zM81.5 253.9h0.75v0.75h-0.75zM81.9 238.3h0.75v0.75h-0.75zM78.8 254.6h0.75v0.75h-0.75zM79.3 259.9h0.75v0.75h-0.75zM75.1 256.1h0.75v0.75h-0.75zM76.9 251.6h0.75v0.75h-0.75zM82.2 255.6h0.75v0.75h-0.75zM89.2 227.9h0.75v0.75h-0.75zM76.2 254.3h0.75v0.75h-0.75zM84.2 250.1h0.75v0.75h-0.75zM74.2 255.6h0.75v0.75h-0.75zM83.8 239.3h0.75v0.75h-0.75zM82.5 242.6h0.75v0.75h-0.75zM82.0 231.8h0.75v0.75h-0.75zM77.0 258.2h0.75v0.75h-0.75zM80.1 240.1h0.75v0.75h-0.75zM77.2 258.8h0.75v0.75h-0.75zM74.4 258.9h0.75v0.75h-0.75zM73.7 244.0h0.75v0.75h-0.75zM77.6 255.6h0.75v0.75h-0.75zM74.7 257.3h0.75v0.75h-0.75zM74.3 259.9h0.75v0.75h-0.75zM81.3 246.8h0.75v0.75h-0.75zM80.8 251.6h0.75v0.75h-0.75zM76.0 259.5h0.75v0.75h-0.75zM85.1 241.6h0.75v0.75h-0.75zM76.0 251.8h0.75v0.75h-0.75zM79.2 255.1h0.75v0.75h-0.75zM86.4 248.1h0.75v0.75h-0.75zM81.5 232.7h0.75v0.75h-0.75zM80.6 256.7h0.75v0.75h-0.75zM81.8 235.8h0.75v0.75h-0.75zM85.7 241.1h0.75v0.75h-0.75zM77.9 256.8h0.75v0.75h-0.75zM81.0 248.5h0.75v0.75h-0.75zM74.7 246.3h0.75v0.75h-0.75zM82.1 240.1h0.75v0.75h-0.75zM84.4 242.8h0.75v0.75h-0.75zM84.1 243.1h0.75v0.75h-0.75zM82.4 251.4h0.75v0.75h-0.75zM80.4 256.4h0.75v0.75h-0.75zM80.8 253.8h0.75v0.75h-0.75zM78.5 246.8h0.75v0.75h-0.75zM82.6 247.0h0.75v0.75h-0.75zM76.5 253.3h0.75v0.75h-0.75zM78.6 247.1h0.75v0.75h-0.75zM79.6 248.5h0.75v0.75h-0.75zM75.8 256.9h0.75v0.75h-0.75zM81.9 258.5h0.75v0.75h-0.75zM78.3 251.1h0.75v0.75h-0.75zM84.6 237.7h0.75v0.75h-0.75zM83.8 245.2h0.75v0.75h-0.75zM82.7 243.6h0.75v0.75h-0.75zM82.5 227.0h0.75v0.75h-0.75zM78.4 247.9h0.75v0.75h-0.75zM79.5 250.6h0.75v0.75h-0.75zM75.7 259.9h0.75v0.75h-0.75zM84.3 251.2h0.75v0.75h-0.75zM82.9 240.4h0.75v0.75h-0.75zM79.3 245.0h0.75v0.75h-0.75zM79.3 256.3h0.75v0.75h-0.75zM80.8 238.9h0.75v0.75h-0.75zM76.3 258.0h0.75v0.75h-0.75zM75.6 258.1h0.75v0.75h-0.75zM81.6 255.0h0.75v0.75h-0.75zM77.4 254.9h0.75v0.75h-0.75zM73.7 258.4h0.75v0.75h-0.75zM79.2 236.2h0.75v0.75h-0.75zM75.7 255.4h0.75v0.75h-0.75zM80.6 240.3h0.75v0.75h-0.75zM84.0 253.5h0.75v0.75h-0.75zM75.2 258.5h0.75v0.75h-0.75zM77.6 260.0h0.75v0.75h-0.75zM78.9 250.3h0.75v0.75h-0.75zM79.7 257.3h0.75v0.75h-0.75zM81.9 249.9h0.75v0.75h-0.75zM79.6 258.5h0.75v0.75h-0.75zM81.0 257.3h0.75v0.75h-0.75zM77.2 254.6h0.75v0.75h-0.75zM76.8 243.8h0.75v0.75h-0.75zM77.9 247.4h0.75v0.75h-0.75zM74.0 258.4h0.75v0.75h-0.75zM75.6 244.4h0.75v0.75h-0.75zM75.3 258.4h0.75v0.75h-0.75zM86.4 231.2h0.75v0.75h-0.75zM84.5 245.1h0.75v0.75h-0.75zM80.4 258.5h0.75v0.75h-0.75zM83.9 245.6h0.75v0.75h-0.75zM79.5 245.5h0.75v0.75h-0.75zM78.7 249.0h0.75v0.75h-0.75zM84.7 256.4h0.75v0.75h-0.75zM87.2 236.2h0.75v0.75h-0.75zM76.8 257.2h0.75v0.75h-0.75zM77.5 255.1h0.75v0.75h-0.75zM77.9 254.0h0.75v0.75h-0.75zM79.6 248.8h0.75v0.75h-0.75zM77.1 256.8h0.75v0.75h-0.75zM76.7 257.6h0.75v0.75h-0.75zM81.8 243.4h0.75v0.75h-0.75zM81.5 240.4h0.75v0.75h-0.75zM76.6 246.0h0.75v0.75h-0.75zM78.1 254.8h0.75v0.75h-0.75zM78.7 251.8h0.75v0.75h-0.75zM79.6 248.0h0.75v0.75h-0.75zM79.2 251.4h0.75v0.75h-0.75zM75.1 256.2h0.75v0.75h-0.75zM78.4 254.8h0.75v0.75h-0.75zM81.4 243.5h0.75v0.75h-0.75zM80.5 243.6h0.75v0.75h-0.75zM80.6 252.7h0.75v0.75h-0.75zM83.3 249.6h0.75v0.75h-0.75zM82.4 227.1h0.75v0.75h-0.75zM82.1 231.8h0.75v0.75h-0.75zM76.7 240.8h0.75v0.75h-0.75zM81.2 245.0h0.75v0.75h-0.75zM78.9 243.3h0.75v0.75h-0.75zM77.9 246.4h0.75v0.75h-0.75zM77.8 255.0h0.75v0.75h-0.75zM84.3 227.3h0.75v0.75h-0.75zM78.8 253.8h0.75v0.75h-0.75zM77.4 237.8h0.75v0.75h-0.75zM77.9 256.7h0.75v0.75h-0.75zM75.6 250.5h0.75v0.75h-0.75zM80.8 243.0h0.75v0.75h-0.75zM72.2 258.9h0.75v0.75h-0.75zM78.2 255.1h0.75v0.75h-0.75zM72.1 250.3h0.75v0.75h-0.75zM76.2 253.3h0.75v0.75h-0.75zM80.8 253.9h0.75v0.75h-0.75zM83.0 237.8h0.75v0.75h-0.75zM81.0 258.7h0.75v0.75h-0.75zM79.5 248.4h0.75v0.75h-0.75zM75.9 253.5h0.75v0.75h-0.75zM83.4 257.4h0.75v0.75h-0.75zM79.3 256.7h0.75v0.75h-0.75zM80.3 259.7h0.75v0.75h-0.75zM75.2 257.5h0.75v0.75h-0.75zM81.4 258.6h0.75v0.75h-0.75zM80.7 259.0h0.75v0.75h-0.75zM82.9 259.2h0.75v0.75h-0.75zM79.8 256.2h0.75v0.75h-0.75zM80.3 256.3h0.75v0.75h-0.75zM73.6 257.1h0.75v0.75h-0.75zM74.6 255.9h0.75v0.75h-0.75zM84.1 240.6h0.75v0.75h-0.75zM79.0 259.7h0.75v0.75h-0.75zM89.8 226.2h0.75v0.75h-0.75zM81.0 251.6h0.75v0.75h-0.75zM80.9 226.4h0.75v0.75h-0.75zM79.3 254.7h0.75v0.75h-0.75zM73.7 254.4h0.75v0.75h-0.75zM84.2 247.9h0.75v0.75h-0.75zM80.5 252.2h0.75v0.75h-0.75zM78.9 242.2h0.75v0.75h-0.75zM83.7 236.3h0.75v0.75h-0.75zM81.1 244.8h0.75v0.75h-0.75zM78.6 256.5h0.75v0.75h-0.75zM77.8 253.8h0.75v0.75h-0.75zM84.4 252.7h0.75v0.75h-0.75zM82.7 230.8h0.75v0.75h-0.75zM86.5 243.6h0.75v0.75h-0.75zM83.7 247.1h0.75v0.75h-0.75zM78.4 252.0h0.75v0.75h-0.75zM83.4 247.1h0.75v0.75h-0.75zM77.8 244.5h0.75v0.75h-0.75zM79.4 246.4h0.75v0.75h-0.75z" fill="#000" opacity="0.4"/>
<path d="M101.0 255.8h0.75v0.75h-0.75zM110.4 255.9h0.75v0.75h-0.75zM100.7 253.1h0.75v0.75h-0.75zM100.4 257.8h0.75v0.75h-0.75zM102.0 257.3h0.75v0.75h-0.75zM103.6 249.5h0.75v0.75h-0.75zM98.2 245.0h0.75v0.75h-0.75zM93.2 258.9h0.75v0.75h-0.75zM98.6 255.3h0.75v0.75h-0.75zM100.9 259.2h0.75v0.75h-0.75zM106.9 252.6h0.75v0.75h-0.75zM97.0 247.4h0.75v0.75h-0.75zM102.9 254.3h0.75v0.75h-0.75zM97.8 250.9h0.75v0.75h-0.75zM87.0 251.5h0.75v0.75h-0.75zM101.4 244.2h0.75v0.75h-0.75zM95.0 252.4h0.75v0.75h-0.75zM110.3 249.5h0.75v0.75h-0.75zM99.0 257.4h0.75v0.75h-0.75zM94.2 259.0h0.75v0.75h-0.75zM100.3 253.2h0.75v0.75h-0.75zM106.4 250.9h0.75v0.75h-0.75zM100.0 259.4h0.75v0.75h-0.75zM107.6 255.9h0.75v0.75h-0.75zM99.9 242.5h0.75v0.75h-0.75zM100.0 252.6h0.75v0.75h-0.75zM99.9 249.8h0.75v0.75h-0.75zM100.4 251.0h0.75v0.75h-0.75zM96.3 251.5h0.75v0.75h-0.75zM101.0 243.5h0.75v0.75h-0.75zM103.3 255.4h0.75v0.75h-0.75zM95.4 248.2h0.75v0.75h-0.75zM102.6 247.0h0.75v0.75h-0.75zM100.6 249.5h0.75v0.75h-0.75zM97.6 252.5h0.75v0.75h-0.75zM96.4 238.4h0.75v0.75h-0.75zM97.3 254.7h0.75v0.75h-0.75zM100.0 225.4h0.75v0.75h-0.75zM101.9 258.2h0.75v0.75h-0.75zM95.6 258.5h0.75v0.75h-0.75zM97.9 253.9h0.75v0.75h-0.75zM98.2 250.7h0.75v0.75h-0.75zM103.9 245.0h0.75v0.75h-0.75zM104.5 251.2h0.75v0.75h-0.75zM100.5 232.9h0.75v0.75h-0.75zM99.2 248.3h0.75v0.75h-0.75zM99.8 245.9h0.75v0.75h-0.75zM105.3 258.1h0.75v0.75h-0.75zM95.5 251.0h0.75v0.75h-0.75zM102.6 248.1h0.75v0.75h-0.75zM100.6 242.9h0.75v0.75h-0.75zM98.8 250.4h0.75v0.75h-0.75zM99.9 255.3h0.75v0.75h-0.75zM95.8 257.3h0.75v0.75h-0.75zM92.0 249.8h0.75v0.75h-0.75zM109.4 259.2h0.75v0.75h-0.75zM99.5 247.4h0.75v0.75h-0.75zM96.4 232.7h0.75v0.75h-0.75zM100.0 246.3h0.75v0.75h-0.75zM108.2 254.2h0.75v0.75h-0.75zM99.5 249.0h0.75v0.75h-0.75zM102.3 257.2h0.75v0.75h-0.75zM92.1 249.1h0.75v0.75h-0.75zM98.9 233.5h0.75v0.75h-0.75zM91.6 251.5h0.75v0.75h-0.75zM90.8 254.8h0.75v0.75h-0.75zM96.3 257.6h0.75v0.75h-0.75zM95.5 256.0h0.75v0.75h-0.75zM109.8 259.0h0.75v0.75h-0.75zM100.5 245.8h0.75v0.75h-0.75zM106.7 248.3h0.75v0.75h-0.75zM93.3 239.7h0.75v0.75h-0.75zM96.9 244.3h0.75v0.75h-0.75zM102.6 243.6h0.75v0.75h-0.75zM109.0 233.7h0.75v0.75h-0.75zM96.4 252.9h0.75v0.75h-0.75zM106.2 252.8h0.75v0.75h-0.75zM85.2 258.2h0.75v0.75h-0.75zM97.5 255.6h0.75v0.75h-0.75zM97.4 259.4h0.75v0.75h-0.75zM93.6 246.2h0.75v0.75h-0.75zM89.7 254.6h0.75v0.75h-0.75zM95.5 233.9h0.75v0.75h-0.75zM95.2 251.0h0.75v0.75h-0.75zM102.4 251.6h0.75v0.75h-0.75zM99.8 253.0h0.75v0.75h-0.75zM95.8 257.6h0.75v0.75h-0.75zM92.8 248.2h0.75v0.75h-0.75zM93.8 255.1h0.75v0.75h-0.75zM102.7 256.1h0.75v0.75h-0.75zM105.7 253.3h0.75v0.75h-0.75zM89.0 248.8h0.75v0.75h-0.75zM109.3 246.7h0.75v0.75h-0.75zM97.3 251.6h0.75v0.75h-0.75zM97.8 244.1h0.75v0.75h-0.75zM98.1 239.9h0.75v0.75h-0.75zM102.6 255.1h0.75v0.75h-0.75zM98.9 246.3h0.75v0.75h-0.75zM102.3 236.7h0.75v0.75h-0.75zM98.5 246.8h0.75v0.75h-0.75zM95.4 259.7h0.75v0.75h-0.75zM105.3 255.0h0.75v0.75h-0.75zM103.3 259.4h0.75v0.75h-0.75zM99.8 256.4h0.75v0.75h-0.75zM104.1 251.0h0.75v0.75h-0.75zM97.6 243.7h0.75v0.75h-0.75zM102.0 249.5h0.75v0.75h-0.75zM104.5 258.8h0.75v0.75h-0.75zM98.7 254.1h0.75v0.75h-0.75zM102.8 243.3h0.75v0.75h-0.75zM93.0 258.8h0.75v0.75h-0.75zM91.1 242.1h0.75v0.75h-0.75zM97.3 252.5h0.75v0.75h-0.75zM98.8 252.3h0.75v0.75h-0.75zM97.4 259.6h0.75v0.75h-0.75zM104.4 251.1h0.75v0.75h-0.75zM106.7 257.3h0.75v0.75h-0.75zM94.9 258.5h0.75v0.75h-0.75zM92.2 258.2h0.75v0.75h-0.75zM94.1 256.4h0.75v0.75h-0.75zM100.2 254.8h0.75v0.75h-0.75zM102.4 230.5h0.75v0.75h-0.75zM98.1 256.9h0.75v0.75h-0.75zM101.1 251.4h0.75v0.75h-0.75zM94.4 255.6h0.75v0.75h-0.75zM103.1 251.2h0.75v0.75h-0.75zM96.4 242.2h0.75v0.75h-0.75zM103.7 245.7h0.75v0.75h-0.75zM93.3 253.1h0.75v0.75h-0.75zM102.1 241.9h0.75v0.75h-0.75zM100.3 257.2h0.75v0.75h-0.75zM99.3 257.8h0.75v0.75h-0.75zM101.6 249.3h0.75v0.75h-0.75zM99.7 254.4h0.75v0.75h-0.75zM97.4 237.5h0.75v0.75h-0.75zM100.3 244.1h0.75v0.75h-0.75zM112.3 246.2h0.75v0.75h-0.75zM102.2 252.5h0.75v0.75h-0.75zM108.7 255.6h0.75v0.75h-0.75zM99.3 247.7h0.75v0.75h-0.75zM106.0 239.8h0.75v0.75h-0.75zM107.5 259.0h0.75v0.75h-0.75zM94.1 256.6h0.75v0.75h-0.75zM103.3 251.4h0.75v0.75h-0.75zM100.7 250.0h0.75v0.75h-0.75zM96.0 251.2h0.75v0.75h-0.75zM107.1 253.2h0.75v0.75h-0.75zM101.2 246.9h0.75v0.75h-0.75zM95.9 250.4h0.75v0.75h-0.75zM107.1 241.8h0.75v0.75h-0.75zM98.8 239.2h0.75v0.75h-0.75zM103.9 245.4h0.75v0.75h-0.75zM95.0 259.4h0.75v0.75h-0.75zM87.7 255.2h0.75v0.75h-0.75zM93.6 250.0h0.75v0.75h-0.75zM102.6 244.0h0.75v0.75h-0.75zM107.3 256.9h0.75v0.75h-0.75zM97.4 227.5h0.75v0.75h-0.75zM105.9 249.7h0.75v0.75h-0.75zM100.1 247.6h0.75v0.75h-0.75zM95.3 259.0h0.75v0.75h-0.75zM97.1 253.6h0.75v0.75h-0.75zM109.6 229.3h0.75v0.75h-0.75zM109.4 251.3h0.75v0.75h-0.75zM102.1 245.2h0.75v0.75h-0.75zM91.2 250.1h0.75v0.75h-0.75zM103.7 247.6h0.75v0.75h-0.75zM91.3 255.2h0.75v0.75h-0.75zM92.7 259.7h0.75v0.75h-0.75zM106.5 259.8h0.75v0.75h-0.75zM97.4 246.1h0.75v0.75h-0.75zM99.1 253.5h0.75v0.75h-0.75zM94.9 258.0h0.75v0.75h-0.75zM87.6 255.7h0.75v0.75h-0.75zM105.3 257.6h0.75v0.75h-0.75zM98.7 246.2h0.75v0.75h-0.75zM105.3 251.6h0.75v0.75h-0.75zM95.3 246.1h0.75v0.75h-0.75zM107.7 254.7h0.75v0.75h-0.75zM100.6 254.1h0.75v0.75h-0.75zM96.2 249.5h0.75v0.75h-0.75zM95.3 233.1h0.75v0.75h-0.75zM106.1 247.8h0.75v0.75h-0.75zM101.3 251.0h0.75v0.75h-0.75zM92.5 253.4h0.75v0.75h-0.75zM95.1 254.4h0.75v0.75h-0.75zM103.6 258.3h0.75v0.75h-0.75zM98.9 257.4h0.75v0.75h-0.75zM104.6 247.6h0.75v0.75h-0.75zM102.6 253.8h0.75v0.75h-0.75zM92.0 240.5h0.75v0.75h-0.75zM102.0 260.0h0.75v0.75h-0.75zM100.6 256.2h0.75v0.75h-0.75zM91.7 254.6h0.75v0.75h-0.75zM104.6 258.7h0.75v0.75h-0.75zM98.0 259.0h0.75v0.75h-0.75zM90.9 250.0h0.75v0.75h-0.75zM106.5 255.5h0.75v0.75h-0.75zM95.0 256.6h0.75v0.75h-0.75zM97.0 253.9h0.75v0.75h-0.75zM100.2 249.7h0.75v0.75h-0.75zM103.2 239.5h0.75v0.75h-0.75zM96.9 245.1h0.75v0.75h-0.75zM99.1 251.5h0.75v0.75h-0.75zM105.7 257.2h0.75v0.75h-0.75zM109.9 241.8h0.75v0.75h-0.75zM103.7 253.0h0.75v0.75h-0.75zM103.8 239.6h0.75v0.75h-0.75zM96.1 244.5h0.75v0.75h-0.75zM103.2 254.7h0.75v0.75h-0.75zM95.9 257.7h0.75v0.75h-0.75zM93.4 242.0h0.75v0.75h-0.75zM103.6 258.3h0.75v0.75h-0.75zM106.7 257.5h0.75v0.75h-0.75zM102.0 242.3h0.75v0.75h-0.75zM103.6 238.7h0.75v0.75h-0.75zM98.1 244.7h0.75v0.75h-0.75zM100.0 257.0h0.75v0.75h-0.75zM111.1 239.1h0.75v0.75h-0.75zM94.3 240.7h0.75v0.75h-0.75zM100.1 254.9h0.75v0.75h-0.75zM100.9 241.6h0.75v0.75h-0.75zM102.6 255.7h0.75v0.75h-0.75zM93.0 250.8h0.75v0.75h-0.75zM104.1 254.1h0.75v0.75h-0.75zM105.2 256.3h0.75v0.75h-0.75zM102.9 253.0h0.75v0.75h-0.75zM103.0 259.9h0.75v0.75h-0.75zM99.9 259.9h0.75v0.75h-0.75zM105.3 254.0h0.75v0.75h-0.75zM101.4 259.3h0.75v0.75h-0.75zM94.9 252.3h0.75v0.75h-0.75zM99.2 249.7h0.75v0.75h-0.75zM94.5 244.8h0.75v0.75h-0.75zM94.7 247.4h0.75v0.75h-0.75zM94.0 255.0h0.75v0.75h-0.75zM102.0 249.8h0.75v0.75h-0.75zM99.5 246.5h0.75v0.75h-0.75zM98.7 245.4h0.75v0.75h-0.75zM89.5 253.9h0.75v0.75h-0.75zM100.0 259.6h0.75v0.75h-0.75zM100.2 259.0h0.75v0.75h-0.75zM92.8 255.2h0.75v0.75h-0.75zM102.1 258.3h0.75v0.75h-0.75zM93.1 244.5h0.75v0.75h-0.75zM92.6 252.5h0.75v0.75h-0.75zM93.7 259.5h0.75v0.75h-0.75zM103.3 247.8h0.75v0.75h-0.75zM90.3 233.0h0.75v0.75h-0.75zM95.4 240.2h0.75v0.75h-0.75zM101.0 251.9h0.75v0.75h-0.75zM98.6 245.2h0.75v0.75h-0.75zM99.1 249.7h0.75v0.75h-0.75zM95.1 250.6h0.75v0.75h-0.75zM99.1 255.3h0.75v0.75h-0.75zM99.1 258.0h0.75v0.75h-0.75zM103.2 252.9h0.75v0.75h-0.75zM97.4 256.3h0.75v0.75h-0.75z" fill="#000" opacity="0.38"/>
<path d="M95.9 265.6h0.7v0.7h-0.7zM90.0 258.5h0.7v0.7h-0.7zM97.2 251.3h0.7v0.7h-0.7zM78.0 246.6h0.7v0.7h-0.7zM111.4 255.0h0.7v0.7h-0.7zM80.0 245.9h0.7v0.7h-0.7zM95.0 241.5h0.7v0.7h-0.7zM96.6 253.3h0.7v0.7h-0.7zM70.8 236.8h0.7v0.7h-0.7zM100.2 236.6h0.7v0.7h-0.7zM73.3 258.5h0.7v0.7h-0.7zM85.4 266.3h0.7v0.7h-0.7zM95.7 232.1h0.7v0.7h-0.7zM99.3 238.5h0.7v0.7h-0.7zM107.5 257.0h0.7v0.7h-0.7zM104.9 230.3h0.7v0.7h-0.7zM71.6 259.9h0.7v0.7h-0.7zM76.5 236.1h0.7v0.7h-0.7zM71.4 234.5h0.7v0.7h-0.7zM91.8 266.3h0.7v0.7h-0.7z" fill="#000" opacity="0.3"/>
</g>
<rect x="68.8" y="222.5" width="48.6" height="48.6" fill="none" stroke="#3a3a3a" stroke-width="1.6"/>
<line x1="68.5" y1="271.6" x2="117.5" y2="271.6" stroke="#777" stroke-width="0.8"/>
<path d="M70.2,269.8 L70.2,225.6 L91.4,225.6" fill="none" stroke="#777" stroke-width="1.3"/>
<path d="M91.3,225.6 C90,240 87.8,256 81.8,269.6" fill="none" stroke="#111" stroke-width="1.4"/>
<path d="M92.6,225.6 L116.4,225.6 L116.4,266.2 L83.2,270.0" fill="none" stroke="#777" stroke-width="1.3"/>
<path d="M69.5,270.1 L83,270.1" fill="none" stroke="#777" stroke-width="1.2"/>
<text x="70.8" y="236.0" font-size="9.6" font-weight="bold" textLength="18" lengthAdjust="spacingAndGlyphs" fill="#111" style="stroke-width:0.2px">64%</text>
<text x="96.2" y="236.0" font-size="9.6" font-weight="bold" textLength="18" lengthAdjust="spacingAndGlyphs" fill="#111" style="stroke-width:0.2px">34%</text>
<g filter="url(#soft)">
<ellipse cx="222" cy="264.5" rx="6" ry="3.4" fill="#000" opacity="0.9" filter="url(#bl)" transform="rotate(-25 222 264.5)"/>
<ellipse cx="246" cy="263" rx="8.5" ry="3.6" fill="#000" opacity="0.8" filter="url(#bl)" transform="rotate(-15 246 263)"/>
<path d="M221.2 263.1h0.8v0.8h-0.8zM226.9 262.6h0.8v0.8h-0.8zM221.3 269.4h0.8v0.8h-0.8zM220.3 261.3h0.8v0.8h-0.8zM225.5 265.3h0.8v0.8h-0.8zM227.6 267.3h0.8v0.8h-0.8zM230.3 263.1h0.8v0.8h-0.8zM228.6 263.7h0.8v0.8h-0.8zM220.1 267.3h0.8v0.8h-0.8zM223.0 263.4h0.8v0.8h-0.8zM231.8 263.0h0.8v0.8h-0.8zM220.5 264.6h0.8v0.8h-0.8zM233.4 259.6h0.8v0.8h-0.8zM226.1 264.6h0.8v0.8h-0.8zM225.1 264.9h0.8v0.8h-0.8zM220.6 263.5h0.8v0.8h-0.8zM222.0 263.3h0.8v0.8h-0.8zM226.4 267.1h0.8v0.8h-0.8zM218.7 267.0h0.8v0.8h-0.8zM218.3 263.7h0.8v0.8h-0.8zM221.7 264.8h0.8v0.8h-0.8zM220.8 257.4h0.8v0.8h-0.8zM229.1 261.1h0.8v0.8h-0.8zM219.9 267.0h0.8v0.8h-0.8zM220.0 261.0h0.8v0.8h-0.8zM225.0 264.4h0.8v0.8h-0.8zM219.0 267.8h0.8v0.8h-0.8zM224.5 260.3h0.8v0.8h-0.8zM230.7 262.0h0.8v0.8h-0.8zM217.6 267.2h0.8v0.8h-0.8zM223.3 266.6h0.8v0.8h-0.8zM216.6 269.2h0.8v0.8h-0.8zM227.0 264.5h0.8v0.8h-0.8zM225.5 266.8h0.8v0.8h-0.8zM226.0 263.3h0.8v0.8h-0.8zM218.9 268.5h0.8v0.8h-0.8zM227.2 263.3h0.8v0.8h-0.8zM223.4 265.8h0.8v0.8h-0.8zM227.6 267.7h0.8v0.8h-0.8zM220.6 266.0h0.8v0.8h-0.8zM222.4 257.9h0.8v0.8h-0.8zM226.1 262.8h0.8v0.8h-0.8zM223.0 261.3h0.8v0.8h-0.8zM222.5 264.4h0.8v0.8h-0.8zM228.6 262.8h0.8v0.8h-0.8zM238.6 257.2h0.8v0.8h-0.8zM221.5 264.3h0.8v0.8h-0.8zM219.0 269.6h0.8v0.8h-0.8zM225.7 259.4h0.8v0.8h-0.8zM223.2 267.1h0.8v0.8h-0.8zM224.6 262.2h0.8v0.8h-0.8zM221.6 262.5h0.8v0.8h-0.8zM221.7 266.3h0.8v0.8h-0.8zM219.7 261.1h0.8v0.8h-0.8zM228.9 266.0h0.8v0.8h-0.8zM219.6 266.0h0.8v0.8h-0.8zM216.6 264.7h0.8v0.8h-0.8zM232.6 257.0h0.8v0.8h-0.8zM222.8 261.0h0.8v0.8h-0.8zM223.9 259.9h0.8v0.8h-0.8zM220.0 267.1h0.8v0.8h-0.8zM222.0 260.6h0.8v0.8h-0.8zM229.5 262.0h0.8v0.8h-0.8zM229.1 258.8h0.8v0.8h-0.8zM230.4 257.5h0.8v0.8h-0.8zM221.0 265.4h0.8v0.8h-0.8zM220.1 266.7h0.8v0.8h-0.8zM228.8 260.1h0.8v0.8h-0.8zM226.4 265.0h0.8v0.8h-0.8zM221.1 261.8h0.8v0.8h-0.8zM222.6 266.8h0.8v0.8h-0.8zM219.4 268.9h0.8v0.8h-0.8zM223.7 264.5h0.8v0.8h-0.8zM219.8 268.9h0.8v0.8h-0.8zM222.9 259.8h0.8v0.8h-0.8zM226.4 261.5h0.8v0.8h-0.8zM227.6 262.8h0.8v0.8h-0.8zM219.8 265.5h0.8v0.8h-0.8zM220.5 262.5h0.8v0.8h-0.8zM222.8 266.4h0.8v0.8h-0.8zM223.0 263.7h0.8v0.8h-0.8zM220.2 266.6h0.8v0.8h-0.8zM223.9 266.3h0.8v0.8h-0.8zM224.4 269.4h0.8v0.8h-0.8zM225.1 265.7h0.8v0.8h-0.8zM222.5 267.1h0.8v0.8h-0.8zM227.7 258.0h0.8v0.8h-0.8zM223.3 267.1h0.8v0.8h-0.8zM222.8 261.1h0.8v0.8h-0.8zM219.4 261.5h0.8v0.8h-0.8zM228.1 261.4h0.8v0.8h-0.8zM220.7 262.3h0.8v0.8h-0.8zM222.1 261.7h0.8v0.8h-0.8zM218.2 265.5h0.8v0.8h-0.8zM221.6 265.7h0.8v0.8h-0.8zM223.4 267.1h0.8v0.8h-0.8zM222.5 264.9h0.8v0.8h-0.8zM223.7 261.4h0.8v0.8h-0.8zM228.1 260.5h0.8v0.8h-0.8zM225.7 261.4h0.8v0.8h-0.8zM227.0 265.2h0.8v0.8h-0.8zM225.9 259.6h0.8v0.8h-0.8zM223.5 260.9h0.8v0.8h-0.8zM219.9 263.5h0.8v0.8h-0.8zM218.8 266.8h0.8v0.8h-0.8zM219.1 267.1h0.8v0.8h-0.8zM223.5 262.1h0.8v0.8h-0.8zM223.5 265.7h0.8v0.8h-0.8zM227.9 261.5h0.8v0.8h-0.8zM230.6 262.8h0.8v0.8h-0.8zM228.3 258.3h0.8v0.8h-0.8zM217.9 269.1h0.8v0.8h-0.8zM221.7 265.7h0.8v0.8h-0.8zM228.1 258.1h0.8v0.8h-0.8zM224.7 268.7h0.8v0.8h-0.8zM226.3 263.0h0.8v0.8h-0.8zM225.2 263.2h0.8v0.8h-0.8zM226.2 266.4h0.8v0.8h-0.8zM221.7 266.0h0.8v0.8h-0.8zM224.1 265.6h0.8v0.8h-0.8zM226.5 259.7h0.8v0.8h-0.8zM228.0 264.6h0.8v0.8h-0.8zM217.7 265.0h0.8v0.8h-0.8zM224.2 260.3h0.8v0.8h-0.8zM219.2 262.8h0.8v0.8h-0.8zM219.5 263.0h0.8v0.8h-0.8zM217.8 267.4h0.8v0.8h-0.8zM221.7 262.1h0.8v0.8h-0.8zM227.2 260.9h0.8v0.8h-0.8zM226.7 259.1h0.8v0.8h-0.8zM229.1 260.5h0.8v0.8h-0.8zM218.4 266.7h0.8v0.8h-0.8zM216.6 263.2h0.8v0.8h-0.8zM223.8 262.3h0.8v0.8h-0.8zM224.5 263.8h0.8v0.8h-0.8zM223.8 264.0h0.8v0.8h-0.8zM225.9 262.9h0.8v0.8h-0.8zM227.7 264.9h0.8v0.8h-0.8zM229.7 260.3h0.8v0.8h-0.8zM223.5 263.4h0.8v0.8h-0.8zM223.9 269.8h0.8v0.8h-0.8zM219.5 265.4h0.8v0.8h-0.8zM222.7 261.0h0.8v0.8h-0.8zM218.7 264.7h0.8v0.8h-0.8zM222.6 265.1h0.8v0.8h-0.8zM230.1 260.9h0.8v0.8h-0.8zM226.4 261.5h0.8v0.8h-0.8zM217.1 263.5h0.8v0.8h-0.8zM225.7 263.0h0.8v0.8h-0.8zM226.0 258.6h0.8v0.8h-0.8zM220.1 267.1h0.8v0.8h-0.8zM231.3 254.5h0.8v0.8h-0.8zM219.6 265.2h0.8v0.8h-0.8zM218.5 263.0h0.8v0.8h-0.8zM220.4 266.3h0.8v0.8h-0.8zM217.8 268.2h0.8v0.8h-0.8zM226.4 265.1h0.8v0.8h-0.8zM229.6 260.1h0.8v0.8h-0.8zM222.4 266.9h0.8v0.8h-0.8zM228.4 264.6h0.8v0.8h-0.8zM220.6 263.4h0.8v0.8h-0.8zM216.7 264.9h0.8v0.8h-0.8zM218.6 264.1h0.8v0.8h-0.8zM221.0 267.0h0.8v0.8h-0.8zM226.5 262.5h0.8v0.8h-0.8zM217.5 265.7h0.8v0.8h-0.8zM224.6 265.7h0.8v0.8h-0.8zM223.6 266.0h0.8v0.8h-0.8zM219.7 266.9h0.8v0.8h-0.8zM226.0 261.9h0.8v0.8h-0.8zM219.2 268.7h0.8v0.8h-0.8zM218.2 267.5h0.8v0.8h-0.8zM221.4 263.5h0.8v0.8h-0.8zM221.5 263.2h0.8v0.8h-0.8zM222.5 269.1h0.8v0.8h-0.8zM229.2 261.3h0.8v0.8h-0.8zM224.8 265.8h0.8v0.8h-0.8zM220.7 269.8h0.8v0.8h-0.8zM222.8 265.7h0.8v0.8h-0.8zM218.4 262.5h0.8v0.8h-0.8zM218.2 263.9h0.8v0.8h-0.8zM227.3 261.5h0.8v0.8h-0.8zM226.6 261.5h0.8v0.8h-0.8zM218.4 266.0h0.8v0.8h-0.8zM220.9 260.1h0.8v0.8h-0.8zM222.9 267.2h0.8v0.8h-0.8zM221.7 261.0h0.8v0.8h-0.8zM219.2 261.9h0.8v0.8h-0.8zM221.6 261.8h0.8v0.8h-0.8zM222.2 264.7h0.8v0.8h-0.8zM228.6 258.7h0.8v0.8h-0.8zM224.6 262.3h0.8v0.8h-0.8zM224.9 260.7h0.8v0.8h-0.8zM221.1 266.5h0.8v0.8h-0.8zM221.2 264.9h0.8v0.8h-0.8zM224.6 263.7h0.8v0.8h-0.8zM221.6 265.9h0.8v0.8h-0.8zM228.6 265.4h0.8v0.8h-0.8zM218.7 267.6h0.8v0.8h-0.8zM224.5 264.9h0.8v0.8h-0.8zM228.8 257.1h0.8v0.8h-0.8zM227.5 260.8h0.8v0.8h-0.8zM220.5 266.0h0.8v0.8h-0.8zM229.0 259.2h0.8v0.8h-0.8zM222.1 267.5h0.8v0.8h-0.8zM224.3 262.6h0.8v0.8h-0.8zM220.4 263.6h0.8v0.8h-0.8zM227.0 257.9h0.8v0.8h-0.8zM219.5 262.7h0.8v0.8h-0.8zM227.7 262.6h0.8v0.8h-0.8zM219.6 267.2h0.8v0.8h-0.8zM231.4 263.7h0.8v0.8h-0.8zM216.8 265.5h0.8v0.8h-0.8zM227.8 257.2h0.8v0.8h-0.8zM217.1 264.8h0.8v0.8h-0.8zM225.0 260.9h0.8v0.8h-0.8zM223.3 263.4h0.8v0.8h-0.8zM224.1 260.2h0.8v0.8h-0.8zM223.4 266.5h0.8v0.8h-0.8zM224.8 258.8h0.8v0.8h-0.8zM218.5 260.4h0.8v0.8h-0.8zM220.0 262.8h0.8v0.8h-0.8zM222.1 265.3h0.8v0.8h-0.8zM223.4 264.2h0.8v0.8h-0.8zM224.9 262.9h0.8v0.8h-0.8zM220.6 263.8h0.8v0.8h-0.8zM227.9 261.3h0.8v0.8h-0.8zM226.2 267.3h0.8v0.8h-0.8zM230.4 255.3h0.8v0.8h-0.8zM223.3 266.5h0.8v0.8h-0.8zM220.6 262.8h0.8v0.8h-0.8zM222.6 258.8h0.8v0.8h-0.8zM222.5 261.7h0.8v0.8h-0.8zM222.7 261.0h0.8v0.8h-0.8zM222.9 264.3h0.8v0.8h-0.8zM219.5 263.3h0.8v0.8h-0.8zM226.8 264.2h0.8v0.8h-0.8zM219.1 266.5h0.8v0.8h-0.8zM217.4 264.4h0.8v0.8h-0.8zM225.6 261.6h0.8v0.8h-0.8zM225.2 261.3h0.8v0.8h-0.8zM223.9 263.1h0.8v0.8h-0.8zM218.8 261.6h0.8v0.8h-0.8zM223.1 265.1h0.8v0.8h-0.8zM224.1 263.2h0.8v0.8h-0.8zM224.7 265.9h0.8v0.8h-0.8zM225.4 259.2h0.8v0.8h-0.8zM230.3 261.2h0.8v0.8h-0.8zM221.9 265.0h0.8v0.8h-0.8zM231.5 259.4h0.8v0.8h-0.8zM219.8 262.3h0.8v0.8h-0.8zM223.4 265.5h0.8v0.8h-0.8zM224.3 263.9h0.8v0.8h-0.8zM227.4 260.9h0.8v0.8h-0.8zM220.2 262.1h0.8v0.8h-0.8zM223.7 259.3h0.8v0.8h-0.8zM231.2 260.4h0.8v0.8h-0.8zM219.9 261.6h0.8v0.8h-0.8zM225.0 265.8h0.8v0.8h-0.8zM220.0 265.4h0.8v0.8h-0.8zM223.9 266.2h0.8v0.8h-0.8zM225.3 266.5h0.8v0.8h-0.8zM220.3 261.7h0.8v0.8h-0.8zM218.4 266.6h0.8v0.8h-0.8zM226.0 269.5h0.8v0.8h-0.8zM228.1 259.9h0.8v0.8h-0.8zM221.0 263.3h0.8v0.8h-0.8zM219.9 264.5h0.8v0.8h-0.8zM219.8 268.2h0.8v0.8h-0.8zM224.1 265.2h0.8v0.8h-0.8zM221.9 261.1h0.8v0.8h-0.8zM224.5 262.2h0.8v0.8h-0.8zM231.5 264.2h0.8v0.8h-0.8zM217.1 263.2h0.8v0.8h-0.8zM220.1 264.3h0.8v0.8h-0.8zM227.7 261.7h0.8v0.8h-0.8zM224.6 262.4h0.8v0.8h-0.8zM221.6 267.8h0.8v0.8h-0.8zM222.6 269.4h0.8v0.8h-0.8zM222.4 265.2h0.8v0.8h-0.8zM224.4 265.2h0.8v0.8h-0.8zM231.2 259.1h0.8v0.8h-0.8zM220.2 262.3h0.8v0.8h-0.8zM230.7 262.4h0.8v0.8h-0.8zM224.6 264.6h0.8v0.8h-0.8zM223.2 264.7h0.8v0.8h-0.8zM223.0 263.6h0.8v0.8h-0.8zM222.3 262.6h0.8v0.8h-0.8zM221.6 266.1h0.8v0.8h-0.8zM225.5 260.0h0.8v0.8h-0.8zM224.9 264.1h0.8v0.8h-0.8zM220.3 269.5h0.8v0.8h-0.8zM223.4 263.4h0.8v0.8h-0.8zM223.6 264.5h0.8v0.8h-0.8zM221.6 270.1h0.8v0.8h-0.8zM221.9 268.6h0.8v0.8h-0.8zM227.3 265.0h0.8v0.8h-0.8zM225.4 266.2h0.8v0.8h-0.8zM222.1 258.5h0.8v0.8h-0.8zM236.5 253.9h0.8v0.8h-0.8zM225.3 264.4h0.8v0.8h-0.8zM219.4 259.7h0.8v0.8h-0.8zM222.2 268.9h0.8v0.8h-0.8zM222.1 264.2h0.8v0.8h-0.8zM223.0 264.0h0.8v0.8h-0.8zM223.9 269.9h0.8v0.8h-0.8zM218.6 260.4h0.8v0.8h-0.8zM226.4 261.2h0.8v0.8h-0.8zM220.3 261.0h0.8v0.8h-0.8zM221.8 263.1h0.8v0.8h-0.8zM224.5 262.2h0.8v0.8h-0.8zM222.2 258.9h0.8v0.8h-0.8zM221.1 266.7h0.8v0.8h-0.8zM222.3 263.2h0.8v0.8h-0.8zM225.2 261.3h0.8v0.8h-0.8zM219.5 266.6h0.8v0.8h-0.8zM221.9 262.6h0.8v0.8h-0.8zM223.6 264.4h0.8v0.8h-0.8zM226.8 265.3h0.8v0.8h-0.8zM223.0 263.8h0.8v0.8h-0.8zM218.4 266.1h0.8v0.8h-0.8zM221.0 266.9h0.8v0.8h-0.8zM226.2 264.5h0.8v0.8h-0.8zM222.3 265.0h0.8v0.8h-0.8zM229.3 266.3h0.8v0.8h-0.8zM220.0 257.2h0.8v0.8h-0.8zM225.4 258.8h0.8v0.8h-0.8zM222.8 265.2h0.8v0.8h-0.8zM229.3 261.2h0.8v0.8h-0.8zM222.1 262.6h0.8v0.8h-0.8zM223.9 260.2h0.8v0.8h-0.8zM225.1 264.1h0.8v0.8h-0.8zM228.7 261.0h0.8v0.8h-0.8zM224.1 264.1h0.8v0.8h-0.8zM222.5 261.4h0.8v0.8h-0.8zM220.1 265.1h0.8v0.8h-0.8zM224.8 266.1h0.8v0.8h-0.8zM219.9 265.7h0.8v0.8h-0.8zM225.4 265.4h0.8v0.8h-0.8zM223.7 264.2h0.8v0.8h-0.8zM221.1 264.7h0.8v0.8h-0.8zM221.7 259.6h0.8v0.8h-0.8zM219.4 258.5h0.8v0.8h-0.8zM224.9 265.7h0.8v0.8h-0.8zM221.0 265.1h0.8v0.8h-0.8zM223.3 263.1h0.8v0.8h-0.8zM229.2 261.2h0.8v0.8h-0.8zM224.1 263.3h0.8v0.8h-0.8zM231.6 256.3h0.8v0.8h-0.8zM223.5 260.0h0.8v0.8h-0.8zM219.4 262.5h0.8v0.8h-0.8zM226.1 259.8h0.8v0.8h-0.8zM218.1 264.7h0.8v0.8h-0.8zM218.4 262.8h0.8v0.8h-0.8zM229.7 259.7h0.8v0.8h-0.8zM219.0 269.1h0.8v0.8h-0.8zM223.0 267.0h0.8v0.8h-0.8zM224.8 263.9h0.8v0.8h-0.8zM225.1 266.6h0.8v0.8h-0.8zM225.3 266.1h0.8v0.8h-0.8zM226.0 260.8h0.8v0.8h-0.8zM223.5 267.3h0.8v0.8h-0.8zM218.4 267.0h0.8v0.8h-0.8zM225.5 266.7h0.8v0.8h-0.8zM234.0 256.3h0.8v0.8h-0.8zM232.7 261.2h0.8v0.8h-0.8zM231.2 265.0h0.8v0.8h-0.8zM223.3 261.6h0.8v0.8h-0.8zM221.2 261.0h0.8v0.8h-0.8zM222.3 263.8h0.8v0.8h-0.8zM218.0 262.3h0.8v0.8h-0.8zM226.2 260.1h0.8v0.8h-0.8zM220.1 264.5h0.8v0.8h-0.8zM225.7 268.4h0.8v0.8h-0.8zM231.4 263.1h0.8v0.8h-0.8zM225.7 264.8h0.8v0.8h-0.8zM221.7 263.8h0.8v0.8h-0.8zM220.4 265.9h0.8v0.8h-0.8zM232.7 262.8h0.8v0.8h-0.8zM227.8 264.6h0.8v0.8h-0.8zM220.1 263.1h0.8v0.8h-0.8zM223.4 265.7h0.8v0.8h-0.8zM225.2 262.2h0.8v0.8h-0.8zM217.6 266.0h0.8v0.8h-0.8zM224.0 258.1h0.8v0.8h-0.8zM223.0 259.9h0.8v0.8h-0.8zM220.6 264.4h0.8v0.8h-0.8zM218.2 264.2h0.8v0.8h-0.8zM222.7 261.3h0.8v0.8h-0.8zM225.7 264.8h0.8v0.8h-0.8zM225.1 260.3h0.8v0.8h-0.8zM221.7 263.4h0.8v0.8h-0.8zM223.1 265.9h0.8v0.8h-0.8zM220.2 264.9h0.8v0.8h-0.8zM226.3 261.8h0.8v0.8h-0.8z" fill="#000" opacity="0.55"/>
<path d="M251.7 261.6h0.8v0.8h-0.8zM236.8 264.1h0.8v0.8h-0.8zM247.7 261.1h0.8v0.8h-0.8zM260.0 259.0h0.8v0.8h-0.8zM236.4 263.8h0.8v0.8h-0.8zM245.1 264.4h0.8v0.8h-0.8zM252.4 259.3h0.8v0.8h-0.8zM240.1 261.4h0.8v0.8h-0.8zM245.3 261.4h0.8v0.8h-0.8zM246.6 260.5h0.8v0.8h-0.8zM238.3 261.5h0.8v0.8h-0.8zM252.1 258.0h0.8v0.8h-0.8zM252.1 266.8h0.8v0.8h-0.8zM240.2 266.5h0.8v0.8h-0.8zM252.5 253.1h0.8v0.8h-0.8zM252.6 263.6h0.8v0.8h-0.8zM241.2 269.1h0.8v0.8h-0.8zM234.2 268.8h0.8v0.8h-0.8zM248.5 259.0h0.8v0.8h-0.8zM247.4 257.6h0.8v0.8h-0.8zM250.9 263.6h0.8v0.8h-0.8zM255.2 265.6h0.8v0.8h-0.8zM241.8 264.9h0.8v0.8h-0.8zM242.3 254.1h0.8v0.8h-0.8zM253.3 265.1h0.8v0.8h-0.8zM248.2 267.8h0.8v0.8h-0.8zM246.2 257.1h0.8v0.8h-0.8zM243.4 262.2h0.8v0.8h-0.8zM248.5 260.9h0.8v0.8h-0.8zM231.0 261.3h0.8v0.8h-0.8zM245.6 266.3h0.8v0.8h-0.8zM242.0 259.2h0.8v0.8h-0.8zM243.3 266.0h0.8v0.8h-0.8zM255.3 257.9h0.8v0.8h-0.8zM251.4 265.9h0.8v0.8h-0.8zM252.2 258.1h0.8v0.8h-0.8zM250.8 260.2h0.8v0.8h-0.8zM243.1 269.3h0.8v0.8h-0.8zM246.3 264.2h0.8v0.8h-0.8zM255.1 266.3h0.8v0.8h-0.8zM248.6 260.3h0.8v0.8h-0.8zM246.3 260.4h0.8v0.8h-0.8zM245.8 262.3h0.8v0.8h-0.8zM236.2 261.8h0.8v0.8h-0.8zM236.7 264.0h0.8v0.8h-0.8zM252.2 263.9h0.8v0.8h-0.8zM247.9 259.2h0.8v0.8h-0.8zM246.1 258.3h0.8v0.8h-0.8zM250.6 256.9h0.8v0.8h-0.8zM242.1 268.8h0.8v0.8h-0.8zM249.5 258.9h0.8v0.8h-0.8zM245.1 259.5h0.8v0.8h-0.8zM241.0 262.1h0.8v0.8h-0.8zM240.7 264.1h0.8v0.8h-0.8zM254.1 258.5h0.8v0.8h-0.8zM240.1 261.1h0.8v0.8h-0.8zM242.3 263.7h0.8v0.8h-0.8zM241.9 260.5h0.8v0.8h-0.8zM241.8 266.5h0.8v0.8h-0.8zM253.4 264.7h0.8v0.8h-0.8zM247.9 259.3h0.8v0.8h-0.8zM256.2 268.0h0.8v0.8h-0.8zM242.0 261.4h0.8v0.8h-0.8zM254.2 263.4h0.8v0.8h-0.8zM249.4 268.7h0.8v0.8h-0.8zM245.3 260.2h0.8v0.8h-0.8zM244.0 263.7h0.8v0.8h-0.8zM247.9 266.3h0.8v0.8h-0.8zM252.0 259.3h0.8v0.8h-0.8zM251.7 261.0h0.8v0.8h-0.8zM257.2 264.4h0.8v0.8h-0.8zM242.4 265.0h0.8v0.8h-0.8zM237.5 265.5h0.8v0.8h-0.8zM247.1 263.9h0.8v0.8h-0.8zM238.1 261.3h0.8v0.8h-0.8zM242.7 262.5h0.8v0.8h-0.8zM251.3 259.1h0.8v0.8h-0.8zM232.4 263.2h0.8v0.8h-0.8zM252.0 264.3h0.8v0.8h-0.8zM237.6 266.1h0.8v0.8h-0.8zM247.3 264.7h0.8v0.8h-0.8zM247.8 266.3h0.8v0.8h-0.8zM254.3 257.5h0.8v0.8h-0.8zM235.6 267.6h0.8v0.8h-0.8zM235.6 261.9h0.8v0.8h-0.8zM249.9 261.5h0.8v0.8h-0.8zM247.6 255.4h0.8v0.8h-0.8zM241.2 265.0h0.8v0.8h-0.8zM261.1 261.4h0.8v0.8h-0.8zM246.7 262.9h0.8v0.8h-0.8zM253.6 263.3h0.8v0.8h-0.8zM240.3 257.2h0.8v0.8h-0.8zM244.8 261.5h0.8v0.8h-0.8zM259.3 257.6h0.8v0.8h-0.8zM251.8 255.2h0.8v0.8h-0.8zM251.9 257.4h0.8v0.8h-0.8zM246.7 261.8h0.8v0.8h-0.8zM247.2 262.4h0.8v0.8h-0.8zM238.4 265.7h0.8v0.8h-0.8zM240.1 263.4h0.8v0.8h-0.8zM240.4 263.4h0.8v0.8h-0.8zM245.6 262.0h0.8v0.8h-0.8zM240.8 267.3h0.8v0.8h-0.8zM245.2 262.9h0.8v0.8h-0.8zM231.0 267.0h0.8v0.8h-0.8zM235.3 263.7h0.8v0.8h-0.8zM233.9 263.7h0.8v0.8h-0.8zM237.5 259.9h0.8v0.8h-0.8zM234.0 269.2h0.8v0.8h-0.8zM261.4 259.5h0.8v0.8h-0.8zM252.1 259.9h0.8v0.8h-0.8zM238.7 269.5h0.8v0.8h-0.8zM250.8 258.0h0.8v0.8h-0.8zM245.5 262.5h0.8v0.8h-0.8zM244.2 262.5h0.8v0.8h-0.8zM241.6 263.0h0.8v0.8h-0.8zM243.3 261.9h0.8v0.8h-0.8zM240.9 268.3h0.8v0.8h-0.8zM243.2 262.2h0.8v0.8h-0.8zM248.0 262.2h0.8v0.8h-0.8zM237.1 266.7h0.8v0.8h-0.8zM237.6 261.8h0.8v0.8h-0.8zM249.1 261.2h0.8v0.8h-0.8zM241.2 263.3h0.8v0.8h-0.8zM240.2 261.5h0.8v0.8h-0.8zM237.9 259.8h0.8v0.8h-0.8zM239.2 263.7h0.8v0.8h-0.8zM242.5 262.5h0.8v0.8h-0.8zM252.4 259.8h0.8v0.8h-0.8zM233.1 264.8h0.8v0.8h-0.8zM258.6 251.0h0.8v0.8h-0.8zM244.3 259.1h0.8v0.8h-0.8zM235.5 266.7h0.8v0.8h-0.8zM245.8 262.3h0.8v0.8h-0.8zM236.9 262.3h0.8v0.8h-0.8zM238.2 268.6h0.8v0.8h-0.8zM245.7 256.0h0.8v0.8h-0.8zM243.8 267.5h0.8v0.8h-0.8zM240.6 262.4h0.8v0.8h-0.8zM245.6 264.0h0.8v0.8h-0.8zM249.4 259.8h0.8v0.8h-0.8zM243.4 265.0h0.8v0.8h-0.8zM238.8 262.5h0.8v0.8h-0.8zM248.4 261.2h0.8v0.8h-0.8zM239.2 268.8h0.8v0.8h-0.8zM247.2 261.3h0.8v0.8h-0.8zM225.7 269.4h0.8v0.8h-0.8zM252.6 261.1h0.8v0.8h-0.8zM246.3 259.7h0.8v0.8h-0.8zM260.2 262.9h0.8v0.8h-0.8zM261.9 266.9h0.8v0.8h-0.8zM233.4 266.6h0.8v0.8h-0.8zM231.6 266.0h0.8v0.8h-0.8zM246.4 260.6h0.8v0.8h-0.8zM250.7 262.1h0.8v0.8h-0.8zM243.8 262.0h0.8v0.8h-0.8zM252.6 262.8h0.8v0.8h-0.8zM252.2 262.4h0.8v0.8h-0.8zM243.1 261.4h0.8v0.8h-0.8zM247.9 259.9h0.8v0.8h-0.8zM241.8 265.7h0.8v0.8h-0.8zM247.8 261.5h0.8v0.8h-0.8zM247.7 261.0h0.8v0.8h-0.8zM255.3 260.3h0.8v0.8h-0.8zM246.5 258.7h0.8v0.8h-0.8zM241.4 259.1h0.8v0.8h-0.8zM249.3 263.7h0.8v0.8h-0.8zM250.6 260.6h0.8v0.8h-0.8zM246.6 263.5h0.8v0.8h-0.8zM243.7 257.5h0.8v0.8h-0.8zM260.0 261.7h0.8v0.8h-0.8zM252.7 263.9h0.8v0.8h-0.8zM241.2 263.2h0.8v0.8h-0.8zM242.9 266.4h0.8v0.8h-0.8zM247.6 259.9h0.8v0.8h-0.8zM246.2 264.0h0.8v0.8h-0.8zM261.0 257.0h0.8v0.8h-0.8zM248.4 266.0h0.8v0.8h-0.8zM250.8 259.8h0.8v0.8h-0.8zM246.2 262.8h0.8v0.8h-0.8zM253.1 264.5h0.8v0.8h-0.8zM232.6 265.0h0.8v0.8h-0.8zM241.3 264.2h0.8v0.8h-0.8zM243.5 264.1h0.8v0.8h-0.8zM235.8 264.9h0.8v0.8h-0.8zM250.2 265.7h0.8v0.8h-0.8zM257.3 260.6h0.8v0.8h-0.8zM242.3 267.4h0.8v0.8h-0.8zM249.1 263.0h0.8v0.8h-0.8zM250.5 257.2h0.8v0.8h-0.8zM240.1 260.7h0.8v0.8h-0.8zM238.6 268.7h0.8v0.8h-0.8zM233.5 264.2h0.8v0.8h-0.8zM245.9 259.7h0.8v0.8h-0.8zM249.1 259.3h0.8v0.8h-0.8zM236.5 260.1h0.8v0.8h-0.8zM255.8 259.6h0.8v0.8h-0.8zM247.8 264.1h0.8v0.8h-0.8zM249.4 259.6h0.8v0.8h-0.8zM252.1 264.9h0.8v0.8h-0.8zM236.5 266.8h0.8v0.8h-0.8zM250.1 265.3h0.8v0.8h-0.8zM250.6 261.3h0.8v0.8h-0.8zM241.1 265.5h0.8v0.8h-0.8zM249.2 263.3h0.8v0.8h-0.8zM243.0 266.8h0.8v0.8h-0.8zM253.0 264.8h0.8v0.8h-0.8zM242.3 265.1h0.8v0.8h-0.8zM253.3 257.1h0.8v0.8h-0.8zM241.4 264.2h0.8v0.8h-0.8zM236.4 263.9h0.8v0.8h-0.8zM247.2 257.7h0.8v0.8h-0.8zM250.6 261.8h0.8v0.8h-0.8zM255.3 260.9h0.8v0.8h-0.8zM243.1 263.0h0.8v0.8h-0.8zM249.5 256.2h0.8v0.8h-0.8zM244.4 265.2h0.8v0.8h-0.8zM251.9 262.8h0.8v0.8h-0.8zM238.9 263.5h0.8v0.8h-0.8zM249.7 262.0h0.8v0.8h-0.8zM247.7 268.3h0.8v0.8h-0.8zM260.1 258.8h0.8v0.8h-0.8zM239.9 263.8h0.8v0.8h-0.8zM255.8 257.7h0.8v0.8h-0.8zM239.9 259.7h0.8v0.8h-0.8zM254.4 259.7h0.8v0.8h-0.8zM246.1 267.7h0.8v0.8h-0.8zM251.0 260.8h0.8v0.8h-0.8zM237.6 267.6h0.8v0.8h-0.8zM247.2 261.4h0.8v0.8h-0.8zM248.3 260.0h0.8v0.8h-0.8zM248.0 263.0h0.8v0.8h-0.8zM239.0 264.6h0.8v0.8h-0.8zM250.8 266.4h0.8v0.8h-0.8zM252.8 268.1h0.8v0.8h-0.8zM252.8 261.4h0.8v0.8h-0.8zM249.1 262.2h0.8v0.8h-0.8zM240.1 262.9h0.8v0.8h-0.8zM247.8 259.1h0.8v0.8h-0.8zM246.3 264.4h0.8v0.8h-0.8zM258.4 260.2h0.8v0.8h-0.8zM244.4 260.8h0.8v0.8h-0.8zM235.5 266.2h0.8v0.8h-0.8zM243.1 261.0h0.8v0.8h-0.8zM239.0 268.5h0.8v0.8h-0.8zM256.0 262.4h0.8v0.8h-0.8zM244.2 259.2h0.8v0.8h-0.8zM231.5 262.7h0.8v0.8h-0.8zM241.2 268.1h0.8v0.8h-0.8zM244.6 257.7h0.8v0.8h-0.8zM256.3 262.8h0.8v0.8h-0.8zM243.9 264.1h0.8v0.8h-0.8zM251.1 260.3h0.8v0.8h-0.8zM240.6 264.1h0.8v0.8h-0.8zM250.9 263.5h0.8v0.8h-0.8zM238.9 260.8h0.8v0.8h-0.8zM246.4 260.7h0.8v0.8h-0.8zM244.5 268.8h0.8v0.8h-0.8zM235.2 263.6h0.8v0.8h-0.8zM239.4 264.5h0.8v0.8h-0.8zM259.6 261.5h0.8v0.8h-0.8zM255.7 258.1h0.8v0.8h-0.8zM248.6 266.5h0.8v0.8h-0.8zM244.1 260.6h0.8v0.8h-0.8zM236.0 269.0h0.8v0.8h-0.8zM245.7 267.0h0.8v0.8h-0.8zM247.9 262.5h0.8v0.8h-0.8zM252.3 262.2h0.8v0.8h-0.8zM254.8 259.3h0.8v0.8h-0.8zM242.6 263.3h0.8v0.8h-0.8zM243.0 262.5h0.8v0.8h-0.8zM252.3 262.7h0.8v0.8h-0.8zM245.9 268.2h0.8v0.8h-0.8zM237.3 262.3h0.8v0.8h-0.8zM245.3 265.8h0.8v0.8h-0.8zM250.8 263.5h0.8v0.8h-0.8zM256.9 260.5h0.8v0.8h-0.8zM241.4 267.2h0.8v0.8h-0.8zM257.3 257.6h0.8v0.8h-0.8zM242.5 262.9h0.8v0.8h-0.8zM249.0 262.5h0.8v0.8h-0.8zM251.7 256.6h0.8v0.8h-0.8zM243.1 258.2h0.8v0.8h-0.8zM252.4 264.7h0.8v0.8h-0.8zM248.3 262.2h0.8v0.8h-0.8zM245.9 262.3h0.8v0.8h-0.8zM240.9 265.0h0.8v0.8h-0.8zM250.9 259.6h0.8v0.8h-0.8zM249.4 266.6h0.8v0.8h-0.8zM257.5 267.9h0.8v0.8h-0.8zM243.2 261.7h0.8v0.8h-0.8zM249.9 266.7h0.8v0.8h-0.8zM236.4 266.1h0.8v0.8h-0.8zM248.8 266.1h0.8v0.8h-0.8zM250.0 259.8h0.8v0.8h-0.8zM248.5 260.6h0.8v0.8h-0.8zM245.5 261.9h0.8v0.8h-0.8zM246.6 263.7h0.8v0.8h-0.8zM249.3 265.7h0.8v0.8h-0.8zM251.4 256.3h0.8v0.8h-0.8zM251.0 260.5h0.8v0.8h-0.8zM253.3 260.1h0.8v0.8h-0.8zM240.9 259.0h0.8v0.8h-0.8zM245.7 265.2h0.8v0.8h-0.8zM240.6 264.6h0.8v0.8h-0.8zM244.6 256.5h0.8v0.8h-0.8zM245.3 261.8h0.8v0.8h-0.8zM250.0 256.7h0.8v0.8h-0.8zM251.0 261.5h0.8v0.8h-0.8zM252.9 260.1h0.8v0.8h-0.8zM242.1 262.5h0.8v0.8h-0.8zM246.4 265.8h0.8v0.8h-0.8zM241.5 262.4h0.8v0.8h-0.8zM239.5 262.6h0.8v0.8h-0.8zM248.4 266.7h0.8v0.8h-0.8zM245.7 263.4h0.8v0.8h-0.8zM246.9 265.8h0.8v0.8h-0.8zM244.5 262.0h0.8v0.8h-0.8zM248.7 261.3h0.8v0.8h-0.8zM248.1 262.0h0.8v0.8h-0.8zM244.2 265.6h0.8v0.8h-0.8zM245.1 261.5h0.8v0.8h-0.8zM249.9 267.6h0.8v0.8h-0.8zM248.6 261.6h0.8v0.8h-0.8zM251.7 263.3h0.8v0.8h-0.8zM239.7 267.3h0.8v0.8h-0.8zM255.8 259.3h0.8v0.8h-0.8zM244.1 264.9h0.8v0.8h-0.8zM248.9 262.6h0.8v0.8h-0.8zM255.6 256.1h0.8v0.8h-0.8zM243.1 264.7h0.8v0.8h-0.8zM249.8 260.2h0.8v0.8h-0.8zM234.4 268.3h0.8v0.8h-0.8zM253.0 261.9h0.8v0.8h-0.8zM248.9 265.4h0.8v0.8h-0.8zM262.7 256.6h0.8v0.8h-0.8zM246.8 256.3h0.8v0.8h-0.8zM238.3 267.5h0.8v0.8h-0.8zM244.6 256.0h0.8v0.8h-0.8zM237.5 268.7h0.8v0.8h-0.8zM249.9 265.8h0.8v0.8h-0.8zM257.4 258.9h0.8v0.8h-0.8zM246.7 260.5h0.8v0.8h-0.8zM240.3 266.5h0.8v0.8h-0.8zM248.2 260.0h0.8v0.8h-0.8zM235.3 263.1h0.8v0.8h-0.8zM244.5 260.6h0.8v0.8h-0.8zM251.9 263.3h0.8v0.8h-0.8zM249.6 265.8h0.8v0.8h-0.8zM244.4 262.7h0.8v0.8h-0.8zM260.8 257.3h0.8v0.8h-0.8zM248.4 264.6h0.8v0.8h-0.8zM248.2 262.0h0.8v0.8h-0.8zM250.1 264.5h0.8v0.8h-0.8zM247.8 261.4h0.8v0.8h-0.8zM234.9 263.5h0.8v0.8h-0.8zM241.2 260.9h0.8v0.8h-0.8zM240.1 259.5h0.8v0.8h-0.8zM241.0 263.7h0.8v0.8h-0.8zM237.9 259.7h0.8v0.8h-0.8zM254.7 263.7h0.8v0.8h-0.8zM242.9 264.0h0.8v0.8h-0.8zM245.3 263.8h0.8v0.8h-0.8zM250.5 258.2h0.8v0.8h-0.8zM233.6 267.2h0.8v0.8h-0.8zM249.8 259.1h0.8v0.8h-0.8zM255.6 261.8h0.8v0.8h-0.8zM247.5 266.6h0.8v0.8h-0.8zM256.7 264.1h0.8v0.8h-0.8zM249.2 260.4h0.8v0.8h-0.8zM247.8 261.0h0.8v0.8h-0.8zM252.1 264.8h0.8v0.8h-0.8zM247.0 265.6h0.8v0.8h-0.8zM238.4 267.8h0.8v0.8h-0.8zM248.8 255.6h0.8v0.8h-0.8zM246.9 264.9h0.8v0.8h-0.8zM250.0 259.1h0.8v0.8h-0.8zM252.7 263.9h0.8v0.8h-0.8zM247.2 266.9h0.8v0.8h-0.8zM243.1 264.1h0.8v0.8h-0.8zM246.6 255.8h0.8v0.8h-0.8zM249.3 263.8h0.8v0.8h-0.8zM242.3 263.2h0.8v0.8h-0.8zM253.8 260.5h0.8v0.8h-0.8zM250.7 262.7h0.8v0.8h-0.8zM247.6 264.7h0.8v0.8h-0.8zM235.3 260.3h0.8v0.8h-0.8zM239.5 266.1h0.8v0.8h-0.8zM254.4 260.2h0.8v0.8h-0.8zM236.2 268.7h0.8v0.8h-0.8zM243.3 260.1h0.8v0.8h-0.8zM248.6 259.9h0.8v0.8h-0.8zM250.6 263.2h0.8v0.8h-0.8zM239.7 269.1h0.8v0.8h-0.8zM246.4 263.8h0.8v0.8h-0.8zM256.2 264.5h0.8v0.8h-0.8zM229.3 265.3h0.8v0.8h-0.8zM244.5 264.4h0.8v0.8h-0.8zM251.3 266.5h0.8v0.8h-0.8zM233.0 264.6h0.8v0.8h-0.8zM254.2 260.0h0.8v0.8h-0.8zM258.0 263.9h0.8v0.8h-0.8zM253.3 258.5h0.8v0.8h-0.8zM234.5 263.4h0.8v0.8h-0.8zM245.6 263.2h0.8v0.8h-0.8zM254.1 260.3h0.8v0.8h-0.8zM238.8 269.4h0.8v0.8h-0.8zM252.8 259.5h0.8v0.8h-0.8zM245.2 250.4h0.8v0.8h-0.8zM238.2 263.5h0.8v0.8h-0.8zM250.0 261.3h0.8v0.8h-0.8zM245.1 260.7h0.8v0.8h-0.8zM241.0 268.4h0.8v0.8h-0.8zM260.3 263.4h0.8v0.8h-0.8zM243.3 255.9h0.8v0.8h-0.8zM251.9 258.1h0.8v0.8h-0.8zM243.9 263.8h0.8v0.8h-0.8zM256.9 257.8h0.8v0.8h-0.8zM244.0 265.3h0.8v0.8h-0.8zM252.6 260.8h0.8v0.8h-0.8zM248.9 264.1h0.8v0.8h-0.8zM243.2 257.5h0.8v0.8h-0.8zM245.3 267.5h0.8v0.8h-0.8zM238.1 261.2h0.8v0.8h-0.8zM252.9 266.2h0.8v0.8h-0.8zM249.1 263.0h0.8v0.8h-0.8zM234.4 260.5h0.8v0.8h-0.8zM241.4 257.6h0.8v0.8h-0.8zM252.9 257.7h0.8v0.8h-0.8zM248.6 260.6h0.8v0.8h-0.8zM244.7 266.2h0.8v0.8h-0.8zM239.0 262.7h0.8v0.8h-0.8zM254.3 258.3h0.8v0.8h-0.8zM252.0 262.3h0.8v0.8h-0.8zM249.7 261.8h0.8v0.8h-0.8zM243.3 264.4h0.8v0.8h-0.8zM242.6 260.1h0.8v0.8h-0.8zM258.8 254.3h0.8v0.8h-0.8zM251.0 259.9h0.8v0.8h-0.8zM232.2 257.1h0.8v0.8h-0.8zM239.9 265.2h0.8v0.8h-0.8zM255.6 260.7h0.8v0.8h-0.8zM255.4 261.3h0.8v0.8h-0.8zM247.8 262.9h0.8v0.8h-0.8zM255.0 257.4h0.8v0.8h-0.8zM233.1 269.1h0.8v0.8h-0.8zM246.9 263.4h0.8v0.8h-0.8zM254.1 262.5h0.8v0.8h-0.8zM246.0 267.3h0.8v0.8h-0.8zM254.3 260.5h0.8v0.8h-0.8zM248.2 260.8h0.8v0.8h-0.8zM245.7 260.5h0.8v0.8h-0.8zM251.9 258.4h0.8v0.8h-0.8zM242.1 265.7h0.8v0.8h-0.8zM247.9 267.3h0.8v0.8h-0.8zM242.6 263.3h0.8v0.8h-0.8zM245.3 265.8h0.8v0.8h-0.8zM245.7 264.5h0.8v0.8h-0.8zM236.0 262.7h0.8v0.8h-0.8zM257.2 260.8h0.8v0.8h-0.8zM249.1 265.6h0.8v0.8h-0.8zM248.6 259.7h0.8v0.8h-0.8zM248.1 261.1h0.8v0.8h-0.8zM246.4 262.7h0.8v0.8h-0.8zM252.5 265.5h0.8v0.8h-0.8zM257.2 258.2h0.8v0.8h-0.8zM248.4 266.4h0.8v0.8h-0.8zM242.7 261.2h0.8v0.8h-0.8zM259.3 262.8h0.8v0.8h-0.8zM252.3 260.3h0.8v0.8h-0.8zM256.4 264.3h0.8v0.8h-0.8zM247.3 263.3h0.8v0.8h-0.8zM251.2 261.6h0.8v0.8h-0.8zM247.2 267.0h0.8v0.8h-0.8zM244.6 258.3h0.8v0.8h-0.8zM254.0 267.1h0.8v0.8h-0.8zM243.3 264.6h0.8v0.8h-0.8zM247.7 260.1h0.8v0.8h-0.8zM241.6 264.5h0.8v0.8h-0.8zM234.8 265.3h0.8v0.8h-0.8zM232.9 264.7h0.8v0.8h-0.8zM240.0 264.5h0.8v0.8h-0.8zM244.0 262.4h0.8v0.8h-0.8zM247.6 263.8h0.8v0.8h-0.8zM248.9 264.3h0.8v0.8h-0.8zM254.0 267.5h0.8v0.8h-0.8zM251.7 262.3h0.8v0.8h-0.8zM255.1 262.8h0.8v0.8h-0.8zM253.1 258.7h0.8v0.8h-0.8zM237.1 267.7h0.8v0.8h-0.8zM237.4 261.1h0.8v0.8h-0.8zM245.6 260.2h0.8v0.8h-0.8z" fill="#000" opacity="0.5"/>
<path d="M228.6 250.3h0.75v0.75h-0.75zM229.3 255.1h0.75v0.75h-0.75zM223.6 258.2h0.75v0.75h-0.75zM228.6 245.6h0.75v0.75h-0.75zM228.0 251.2h0.75v0.75h-0.75zM234.1 235.9h0.75v0.75h-0.75zM220.2 257.9h0.75v0.75h-0.75zM232.6 234.9h0.75v0.75h-0.75zM221.5 256.8h0.75v0.75h-0.75zM228.8 248.9h0.75v0.75h-0.75zM231.9 248.9h0.75v0.75h-0.75zM233.7 238.8h0.75v0.75h-0.75zM226.1 255.3h0.75v0.75h-0.75zM227.9 253.0h0.75v0.75h-0.75zM223.8 255.9h0.75v0.75h-0.75zM227.6 260.1h0.75v0.75h-0.75zM234.0 241.8h0.75v0.75h-0.75zM228.7 252.1h0.75v0.75h-0.75zM226.7 256.2h0.75v0.75h-0.75zM235.6 232.7h0.75v0.75h-0.75zM235.7 232.5h0.75v0.75h-0.75zM224.9 258.4h0.75v0.75h-0.75zM224.1 255.0h0.75v0.75h-0.75zM228.9 255.3h0.75v0.75h-0.75zM230.7 243.7h0.75v0.75h-0.75zM227.4 250.9h0.75v0.75h-0.75zM229.3 249.0h0.75v0.75h-0.75zM227.6 256.9h0.75v0.75h-0.75zM227.6 253.7h0.75v0.75h-0.75zM223.7 260.5h0.75v0.75h-0.75zM222.7 257.2h0.75v0.75h-0.75zM222.1 255.0h0.75v0.75h-0.75zM221.7 257.7h0.75v0.75h-0.75zM228.8 254.7h0.75v0.75h-0.75zM227.1 255.2h0.75v0.75h-0.75zM225.3 246.6h0.75v0.75h-0.75zM227.0 243.1h0.75v0.75h-0.75zM229.5 240.4h0.75v0.75h-0.75zM228.9 240.1h0.75v0.75h-0.75zM225.7 258.0h0.75v0.75h-0.75zM229.5 249.3h0.75v0.75h-0.75zM230.8 242.9h0.75v0.75h-0.75zM228.2 256.7h0.75v0.75h-0.75zM229.5 252.8h0.75v0.75h-0.75zM220.6 258.2h0.75v0.75h-0.75zM227.3 248.7h0.75v0.75h-0.75zM225.1 258.4h0.75v0.75h-0.75zM229.0 250.4h0.75v0.75h-0.75zM226.4 245.1h0.75v0.75h-0.75zM229.9 253.4h0.75v0.75h-0.75zM228.8 251.8h0.75v0.75h-0.75zM228.0 245.9h0.75v0.75h-0.75zM234.5 231.6h0.75v0.75h-0.75zM226.2 258.2h0.75v0.75h-0.75zM228.2 252.2h0.75v0.75h-0.75zM222.7 259.8h0.75v0.75h-0.75zM226.7 252.8h0.75v0.75h-0.75zM225.0 256.5h0.75v0.75h-0.75zM224.7 252.3h0.75v0.75h-0.75zM224.8 254.2h0.75v0.75h-0.75zM230.4 250.0h0.75v0.75h-0.75zM234.2 247.5h0.75v0.75h-0.75zM227.0 244.2h0.75v0.75h-0.75zM228.6 243.8h0.75v0.75h-0.75zM225.8 260.9h0.75v0.75h-0.75zM228.5 256.1h0.75v0.75h-0.75zM238.1 231.2h0.75v0.75h-0.75zM229.2 242.5h0.75v0.75h-0.75zM241.4 229.2h0.75v0.75h-0.75zM221.9 259.6h0.75v0.75h-0.75zM223.6 252.4h0.75v0.75h-0.75zM227.4 254.8h0.75v0.75h-0.75zM226.5 254.6h0.75v0.75h-0.75zM227.4 254.7h0.75v0.75h-0.75zM231.3 252.6h0.75v0.75h-0.75zM227.0 257.1h0.75v0.75h-0.75zM229.5 249.9h0.75v0.75h-0.75zM227.4 252.6h0.75v0.75h-0.75zM225.9 249.3h0.75v0.75h-0.75zM226.4 249.0h0.75v0.75h-0.75zM225.2 254.4h0.75v0.75h-0.75zM231.6 243.6h0.75v0.75h-0.75zM223.6 260.6h0.75v0.75h-0.75zM225.9 249.1h0.75v0.75h-0.75zM221.3 260.4h0.75v0.75h-0.75zM230.5 252.5h0.75v0.75h-0.75zM226.8 256.5h0.75v0.75h-0.75zM230.7 241.4h0.75v0.75h-0.75zM221.4 255.3h0.75v0.75h-0.75zM226.1 255.7h0.75v0.75h-0.75zM228.3 260.5h0.75v0.75h-0.75zM224.8 255.6h0.75v0.75h-0.75zM224.9 256.4h0.75v0.75h-0.75zM235.3 235.5h0.75v0.75h-0.75zM228.2 250.7h0.75v0.75h-0.75zM230.9 251.7h0.75v0.75h-0.75zM224.4 257.7h0.75v0.75h-0.75zM224.6 259.5h0.75v0.75h-0.75zM226.8 253.5h0.75v0.75h-0.75zM226.6 254.6h0.75v0.75h-0.75zM233.3 238.0h0.75v0.75h-0.75zM233.5 239.7h0.75v0.75h-0.75zM234.2 241.7h0.75v0.75h-0.75zM231.0 239.6h0.75v0.75h-0.75zM233.9 239.4h0.75v0.75h-0.75zM232.0 246.3h0.75v0.75h-0.75zM224.7 260.0h0.75v0.75h-0.75zM223.6 248.5h0.75v0.75h-0.75zM225.3 253.4h0.75v0.75h-0.75zM225.6 258.6h0.75v0.75h-0.75zM229.6 248.0h0.75v0.75h-0.75zM229.1 253.9h0.75v0.75h-0.75zM227.5 252.0h0.75v0.75h-0.75zM232.3 244.0h0.75v0.75h-0.75zM230.9 249.2h0.75v0.75h-0.75zM229.3 250.3h0.75v0.75h-0.75zM232.2 249.6h0.75v0.75h-0.75zM234.4 244.5h0.75v0.75h-0.75zM226.3 256.8h0.75v0.75h-0.75zM236.3 231.9h0.75v0.75h-0.75zM225.9 253.1h0.75v0.75h-0.75zM226.3 252.4h0.75v0.75h-0.75zM222.9 253.2h0.75v0.75h-0.75zM236.1 227.9h0.75v0.75h-0.75zM226.0 248.2h0.75v0.75h-0.75zM224.4 248.3h0.75v0.75h-0.75zM231.8 249.8h0.75v0.75h-0.75zM229.5 243.5h0.75v0.75h-0.75zM231.1 248.0h0.75v0.75h-0.75zM227.9 251.6h0.75v0.75h-0.75zM225.4 253.2h0.75v0.75h-0.75zM236.1 235.1h0.75v0.75h-0.75zM222.7 259.4h0.75v0.75h-0.75zM225.4 255.1h0.75v0.75h-0.75zM223.8 260.4h0.75v0.75h-0.75zM224.8 253.6h0.75v0.75h-0.75zM229.0 249.7h0.75v0.75h-0.75zM225.0 253.1h0.75v0.75h-0.75zM229.2 248.0h0.75v0.75h-0.75zM227.0 245.5h0.75v0.75h-0.75zM233.8 231.7h0.75v0.75h-0.75zM227.2 250.8h0.75v0.75h-0.75zM233.9 246.0h0.75v0.75h-0.75zM226.3 248.7h0.75v0.75h-0.75zM222.4 257.4h0.75v0.75h-0.75zM231.4 246.2h0.75v0.75h-0.75zM232.7 247.1h0.75v0.75h-0.75zM221.5 260.0h0.75v0.75h-0.75zM224.0 254.7h0.75v0.75h-0.75zM224.2 259.4h0.75v0.75h-0.75zM227.4 255.4h0.75v0.75h-0.75zM224.3 252.2h0.75v0.75h-0.75zM230.8 240.2h0.75v0.75h-0.75zM226.7 258.1h0.75v0.75h-0.75zM225.0 253.8h0.75v0.75h-0.75zM226.3 256.5h0.75v0.75h-0.75zM222.7 248.6h0.75v0.75h-0.75zM228.8 240.9h0.75v0.75h-0.75zM230.0 257.3h0.75v0.75h-0.75zM228.0 253.6h0.75v0.75h-0.75zM233.9 246.7h0.75v0.75h-0.75zM232.0 249.1h0.75v0.75h-0.75zM227.1 260.2h0.75v0.75h-0.75zM228.3 246.7h0.75v0.75h-0.75zM223.5 251.0h0.75v0.75h-0.75zM227.1 259.0h0.75v0.75h-0.75zM224.6 259.3h0.75v0.75h-0.75zM231.3 245.5h0.75v0.75h-0.75zM229.6 249.7h0.75v0.75h-0.75zM225.0 252.6h0.75v0.75h-0.75zM221.7 260.4h0.75v0.75h-0.75zM220.6 258.4h0.75v0.75h-0.75zM227.3 256.8h0.75v0.75h-0.75zM232.3 240.8h0.75v0.75h-0.75zM233.2 250.5h0.75v0.75h-0.75zM232.2 242.6h0.75v0.75h-0.75zM229.7 248.9h0.75v0.75h-0.75zM223.4 255.1h0.75v0.75h-0.75zM223.0 251.5h0.75v0.75h-0.75zM226.8 246.0h0.75v0.75h-0.75zM236.4 230.0h0.75v0.75h-0.75zM226.5 254.0h0.75v0.75h-0.75zM226.5 255.3h0.75v0.75h-0.75zM224.4 252.4h0.75v0.75h-0.75zM226.8 252.8h0.75v0.75h-0.75zM228.1 252.0h0.75v0.75h-0.75zM230.7 245.9h0.75v0.75h-0.75zM226.6 257.4h0.75v0.75h-0.75zM229.8 247.9h0.75v0.75h-0.75zM229.0 255.9h0.75v0.75h-0.75zM230.4 242.5h0.75v0.75h-0.75zM232.5 234.8h0.75v0.75h-0.75zM233.4 239.2h0.75v0.75h-0.75zM227.8 249.9h0.75v0.75h-0.75zM221.1 258.7h0.75v0.75h-0.75zM230.0 244.5h0.75v0.75h-0.75zM226.2 250.0h0.75v0.75h-0.75zM231.1 245.0h0.75v0.75h-0.75zM225.3 257.1h0.75v0.75h-0.75zM225.8 257.9h0.75v0.75h-0.75zM231.0 236.9h0.75v0.75h-0.75zM235.1 231.4h0.75v0.75h-0.75zM232.4 244.4h0.75v0.75h-0.75zM224.4 245.5h0.75v0.75h-0.75zM222.9 257.4h0.75v0.75h-0.75zM233.3 236.4h0.75v0.75h-0.75zM222.4 258.7h0.75v0.75h-0.75zM229.5 244.6h0.75v0.75h-0.75zM224.0 247.3h0.75v0.75h-0.75zM223.6 256.9h0.75v0.75h-0.75zM226.2 254.7h0.75v0.75h-0.75zM224.7 259.6h0.75v0.75h-0.75zM224.1 260.8h0.75v0.75h-0.75zM220.0 254.7h0.75v0.75h-0.75zM220.9 255.8h0.75v0.75h-0.75zM226.0 250.0h0.75v0.75h-0.75zM224.7 257.7h0.75v0.75h-0.75zM221.8 260.9h0.75v0.75h-0.75zM225.6 252.6h0.75v0.75h-0.75zM232.3 241.8h0.75v0.75h-0.75zM230.2 246.8h0.75v0.75h-0.75zM234.4 235.6h0.75v0.75h-0.75zM230.8 250.0h0.75v0.75h-0.75zM221.4 260.2h0.75v0.75h-0.75zM230.9 247.7h0.75v0.75h-0.75zM229.7 249.8h0.75v0.75h-0.75zM223.7 257.7h0.75v0.75h-0.75zM231.3 237.6h0.75v0.75h-0.75zM222.6 254.3h0.75v0.75h-0.75zM227.3 255.5h0.75v0.75h-0.75z" fill="#000" opacity="0.4"/>
<path d="M261.8 242.3h0.75v0.75h-0.75zM243.1 250.0h0.75v0.75h-0.75zM255.0 257.4h0.75v0.75h-0.75zM244.9 229.8h0.75v0.75h-0.75zM245.9 251.9h0.75v0.75h-0.75zM248.5 239.9h0.75v0.75h-0.75zM244.6 257.7h0.75v0.75h-0.75zM245.7 234.4h0.75v0.75h-0.75zM241.2 251.6h0.75v0.75h-0.75zM246.5 249.1h0.75v0.75h-0.75zM240.5 252.1h0.75v0.75h-0.75zM241.3 254.8h0.75v0.75h-0.75zM242.6 254.6h0.75v0.75h-0.75zM239.6 257.3h0.75v0.75h-0.75zM245.8 248.3h0.75v0.75h-0.75zM247.0 251.3h0.75v0.75h-0.75zM248.2 244.7h0.75v0.75h-0.75zM246.9 241.8h0.75v0.75h-0.75zM250.1 256.6h0.75v0.75h-0.75zM248.9 247.4h0.75v0.75h-0.75zM252.0 253.6h0.75v0.75h-0.75zM243.5 245.8h0.75v0.75h-0.75zM249.1 255.1h0.75v0.75h-0.75zM241.7 258.9h0.75v0.75h-0.75zM244.6 256.7h0.75v0.75h-0.75zM242.8 245.9h0.75v0.75h-0.75zM241.4 238.6h0.75v0.75h-0.75zM253.8 251.4h0.75v0.75h-0.75zM247.7 252.8h0.75v0.75h-0.75zM255.2 260.0h0.75v0.75h-0.75zM255.3 259.4h0.75v0.75h-0.75zM247.8 253.7h0.75v0.75h-0.75zM245.2 251.9h0.75v0.75h-0.75zM239.7 259.8h0.75v0.75h-0.75zM246.9 256.4h0.75v0.75h-0.75zM248.9 254.8h0.75v0.75h-0.75zM249.9 249.8h0.75v0.75h-0.75zM251.2 257.3h0.75v0.75h-0.75zM246.8 250.7h0.75v0.75h-0.75zM245.3 257.0h0.75v0.75h-0.75zM243.9 251.7h0.75v0.75h-0.75zM249.5 253.6h0.75v0.75h-0.75zM243.6 256.0h0.75v0.75h-0.75zM250.7 250.5h0.75v0.75h-0.75zM247.7 251.1h0.75v0.75h-0.75zM256.4 249.5h0.75v0.75h-0.75zM242.6 244.4h0.75v0.75h-0.75zM243.0 258.7h0.75v0.75h-0.75zM246.9 244.3h0.75v0.75h-0.75zM249.2 242.0h0.75v0.75h-0.75zM245.5 259.8h0.75v0.75h-0.75zM243.2 254.8h0.75v0.75h-0.75zM253.1 253.7h0.75v0.75h-0.75zM238.1 257.9h0.75v0.75h-0.75zM246.3 247.0h0.75v0.75h-0.75zM254.2 244.8h0.75v0.75h-0.75zM252.9 245.2h0.75v0.75h-0.75zM246.5 246.3h0.75v0.75h-0.75zM243.0 246.1h0.75v0.75h-0.75zM246.6 244.2h0.75v0.75h-0.75zM253.2 247.6h0.75v0.75h-0.75zM247.8 248.3h0.75v0.75h-0.75zM247.7 255.1h0.75v0.75h-0.75zM237.2 245.4h0.75v0.75h-0.75zM248.6 253.3h0.75v0.75h-0.75zM253.0 257.9h0.75v0.75h-0.75zM240.2 259.5h0.75v0.75h-0.75zM236.9 240.2h0.75v0.75h-0.75zM251.9 254.8h0.75v0.75h-0.75zM256.4 228.2h0.75v0.75h-0.75zM246.2 248.5h0.75v0.75h-0.75zM246.4 238.4h0.75v0.75h-0.75zM239.1 257.8h0.75v0.75h-0.75zM241.8 254.1h0.75v0.75h-0.75zM252.2 259.5h0.75v0.75h-0.75zM254.2 251.6h0.75v0.75h-0.75zM256.9 259.7h0.75v0.75h-0.75zM249.2 255.6h0.75v0.75h-0.75zM244.5 252.2h0.75v0.75h-0.75zM248.2 255.9h0.75v0.75h-0.75zM255.9 240.1h0.75v0.75h-0.75zM244.9 245.1h0.75v0.75h-0.75zM249.4 246.8h0.75v0.75h-0.75zM255.8 259.6h0.75v0.75h-0.75zM250.2 252.4h0.75v0.75h-0.75zM247.3 256.4h0.75v0.75h-0.75zM253.2 243.8h0.75v0.75h-0.75zM245.3 251.0h0.75v0.75h-0.75zM250.2 257.2h0.75v0.75h-0.75zM251.0 241.8h0.75v0.75h-0.75zM247.5 258.4h0.75v0.75h-0.75zM254.5 253.0h0.75v0.75h-0.75zM255.0 254.1h0.75v0.75h-0.75zM247.3 246.5h0.75v0.75h-0.75zM247.2 257.2h0.75v0.75h-0.75zM248.9 259.4h0.75v0.75h-0.75zM243.1 255.8h0.75v0.75h-0.75zM250.6 257.7h0.75v0.75h-0.75zM246.4 259.9h0.75v0.75h-0.75zM245.2 258.4h0.75v0.75h-0.75zM246.1 243.6h0.75v0.75h-0.75zM247.7 256.3h0.75v0.75h-0.75zM249.0 246.6h0.75v0.75h-0.75zM239.9 257.7h0.75v0.75h-0.75zM247.0 250.4h0.75v0.75h-0.75zM240.2 258.6h0.75v0.75h-0.75zM237.8 254.5h0.75v0.75h-0.75zM245.9 253.2h0.75v0.75h-0.75zM239.7 251.6h0.75v0.75h-0.75zM243.7 250.7h0.75v0.75h-0.75zM247.1 254.9h0.75v0.75h-0.75zM239.8 250.8h0.75v0.75h-0.75zM244.6 251.8h0.75v0.75h-0.75zM245.2 249.0h0.75v0.75h-0.75zM240.0 249.3h0.75v0.75h-0.75zM252.3 243.2h0.75v0.75h-0.75zM246.1 235.8h0.75v0.75h-0.75zM248.1 252.8h0.75v0.75h-0.75zM249.9 235.0h0.75v0.75h-0.75zM249.2 240.9h0.75v0.75h-0.75zM249.3 238.4h0.75v0.75h-0.75zM255.2 250.7h0.75v0.75h-0.75zM245.0 231.8h0.75v0.75h-0.75zM241.9 239.1h0.75v0.75h-0.75zM246.2 258.1h0.75v0.75h-0.75zM259.4 251.7h0.75v0.75h-0.75zM247.8 248.2h0.75v0.75h-0.75zM252.5 238.8h0.75v0.75h-0.75zM245.3 256.7h0.75v0.75h-0.75zM247.4 245.0h0.75v0.75h-0.75zM251.1 231.4h0.75v0.75h-0.75zM250.8 248.3h0.75v0.75h-0.75zM254.4 242.7h0.75v0.75h-0.75zM247.1 251.6h0.75v0.75h-0.75zM242.7 250.8h0.75v0.75h-0.75zM247.2 256.2h0.75v0.75h-0.75zM257.5 258.1h0.75v0.75h-0.75zM242.8 252.2h0.75v0.75h-0.75zM243.7 258.4h0.75v0.75h-0.75zM239.6 253.4h0.75v0.75h-0.75zM245.5 247.2h0.75v0.75h-0.75zM255.0 248.7h0.75v0.75h-0.75zM242.2 247.0h0.75v0.75h-0.75zM239.1 253.9h0.75v0.75h-0.75zM245.9 255.2h0.75v0.75h-0.75zM249.0 246.1h0.75v0.75h-0.75zM244.0 254.4h0.75v0.75h-0.75zM247.1 248.2h0.75v0.75h-0.75zM245.5 249.9h0.75v0.75h-0.75zM253.5 254.4h0.75v0.75h-0.75zM259.3 255.8h0.75v0.75h-0.75zM246.6 248.3h0.75v0.75h-0.75zM255.8 255.8h0.75v0.75h-0.75zM253.9 239.0h0.75v0.75h-0.75zM251.1 237.7h0.75v0.75h-0.75zM242.2 241.4h0.75v0.75h-0.75zM248.3 254.3h0.75v0.75h-0.75zM241.5 246.2h0.75v0.75h-0.75zM254.0 258.6h0.75v0.75h-0.75zM243.1 252.7h0.75v0.75h-0.75zM245.5 257.4h0.75v0.75h-0.75zM258.7 232.7h0.75v0.75h-0.75zM246.9 255.9h0.75v0.75h-0.75zM249.2 258.0h0.75v0.75h-0.75zM245.2 258.3h0.75v0.75h-0.75zM251.5 251.2h0.75v0.75h-0.75zM247.6 249.1h0.75v0.75h-0.75zM252.9 258.7h0.75v0.75h-0.75zM233.7 256.3h0.75v0.75h-0.75zM246.6 255.8h0.75v0.75h-0.75zM245.6 257.3h0.75v0.75h-0.75zM250.1 249.3h0.75v0.75h-0.75zM243.1 254.1h0.75v0.75h-0.75zM247.2 259.0h0.75v0.75h-0.75zM247.9 255.7h0.75v0.75h-0.75zM243.7 248.5h0.75v0.75h-0.75zM250.0 257.9h0.75v0.75h-0.75zM245.7 253.2h0.75v0.75h-0.75zM250.4 255.4h0.75v0.75h-0.75zM241.2 246.7h0.75v0.75h-0.75zM243.6 251.9h0.75v0.75h-0.75zM252.0 248.2h0.75v0.75h-0.75zM260.5 247.6h0.75v0.75h-0.75zM256.4 256.8h0.75v0.75h-0.75zM244.9 256.7h0.75v0.75h-0.75zM243.0 247.5h0.75v0.75h-0.75zM251.1 257.9h0.75v0.75h-0.75zM250.9 239.1h0.75v0.75h-0.75zM238.0 249.9h0.75v0.75h-0.75zM250.7 249.1h0.75v0.75h-0.75zM243.3 251.9h0.75v0.75h-0.75zM258.1 237.0h0.75v0.75h-0.75zM245.9 256.0h0.75v0.75h-0.75zM248.3 259.2h0.75v0.75h-0.75zM248.7 258.9h0.75v0.75h-0.75zM245.6 248.1h0.75v0.75h-0.75zM251.7 255.1h0.75v0.75h-0.75zM244.9 253.0h0.75v0.75h-0.75zM249.0 253.2h0.75v0.75h-0.75zM247.9 249.8h0.75v0.75h-0.75zM252.1 250.8h0.75v0.75h-0.75zM244.8 254.4h0.75v0.75h-0.75zM253.0 255.5h0.75v0.75h-0.75zM240.8 253.4h0.75v0.75h-0.75zM256.4 258.5h0.75v0.75h-0.75zM249.4 240.5h0.75v0.75h-0.75zM250.5 257.2h0.75v0.75h-0.75zM258.8 234.9h0.75v0.75h-0.75zM257.3 234.2h0.75v0.75h-0.75zM246.1 249.5h0.75v0.75h-0.75zM244.2 258.0h0.75v0.75h-0.75zM248.9 229.0h0.75v0.75h-0.75zM239.2 256.6h0.75v0.75h-0.75zM245.9 259.8h0.75v0.75h-0.75zM245.4 256.9h0.75v0.75h-0.75zM252.1 241.1h0.75v0.75h-0.75zM241.3 250.6h0.75v0.75h-0.75zM247.6 248.7h0.75v0.75h-0.75zM252.3 239.5h0.75v0.75h-0.75zM257.2 227.5h0.75v0.75h-0.75zM247.1 250.2h0.75v0.75h-0.75zM243.1 256.7h0.75v0.75h-0.75zM245.7 251.6h0.75v0.75h-0.75zM246.9 251.6h0.75v0.75h-0.75zM244.6 253.0h0.75v0.75h-0.75zM248.7 257.9h0.75v0.75h-0.75zM246.8 233.8h0.75v0.75h-0.75zM249.0 255.1h0.75v0.75h-0.75zM253.6 256.7h0.75v0.75h-0.75zM249.0 252.7h0.75v0.75h-0.75zM250.9 243.5h0.75v0.75h-0.75zM251.0 253.4h0.75v0.75h-0.75zM245.0 246.4h0.75v0.75h-0.75zM255.4 258.8h0.75v0.75h-0.75zM239.9 251.3h0.75v0.75h-0.75zM246.7 250.0h0.75v0.75h-0.75zM245.0 249.6h0.75v0.75h-0.75zM244.8 257.4h0.75v0.75h-0.75zM248.1 232.6h0.75v0.75h-0.75zM253.0 258.0h0.75v0.75h-0.75zM246.5 245.5h0.75v0.75h-0.75zM248.7 253.9h0.75v0.75h-0.75zM245.8 243.5h0.75v0.75h-0.75zM245.3 240.0h0.75v0.75h-0.75zM250.6 258.4h0.75v0.75h-0.75zM251.2 254.8h0.75v0.75h-0.75zM253.6 258.7h0.75v0.75h-0.75zM252.8 253.8h0.75v0.75h-0.75zM239.0 253.8h0.75v0.75h-0.75zM254.9 232.2h0.75v0.75h-0.75zM255.6 247.0h0.75v0.75h-0.75zM237.2 251.9h0.75v0.75h-0.75zM247.6 236.8h0.75v0.75h-0.75zM243.5 256.7h0.75v0.75h-0.75zM238.7 258.9h0.75v0.75h-0.75zM251.8 250.0h0.75v0.75h-0.75zM250.0 245.3h0.75v0.75h-0.75zM247.4 224.3h0.75v0.75h-0.75zM238.2 258.8h0.75v0.75h-0.75zM244.6 230.5h0.75v0.75h-0.75zM250.3 259.5h0.75v0.75h-0.75zM243.2 244.3h0.75v0.75h-0.75zM252.0 238.8h0.75v0.75h-0.75zM242.2 255.2h0.75v0.75h-0.75zM251.2 255.2h0.75v0.75h-0.75zM247.1 257.2h0.75v0.75h-0.75zM246.2 259.0h0.75v0.75h-0.75z" fill="#000" opacity="0.38"/>
<path d="M233.2 228.7h0.7v0.7h-0.7zM248.5 256.8h0.7v0.7h-0.7zM238.8 252.8h0.7v0.7h-0.7zM217.9 262.8h0.7v0.7h-0.7zM225.3 250.0h0.7v0.7h-0.7zM236.0 253.2h0.7v0.7h-0.7zM260.1 248.6h0.7v0.7h-0.7zM225.7 237.8h0.7v0.7h-0.7zM229.6 245.6h0.7v0.7h-0.7zM259.0 267.4h0.7v0.7h-0.7zM248.1 260.0h0.7v0.7h-0.7zM262.5 235.7h0.7v0.7h-0.7zM224.8 265.4h0.7v0.7h-0.7zM254.8 263.7h0.7v0.7h-0.7zM233.5 241.3h0.7v0.7h-0.7zM261.5 232.8h0.7v0.7h-0.7zM244.2 241.1h0.7v0.7h-0.7zM218.4 262.3h0.7v0.7h-0.7zM244.3 254.6h0.7v0.7h-0.7zM245.2 232.1h0.7v0.7h-0.7z" fill="#000" opacity="0.3"/>
</g>
<rect x="215.8" y="222.7" width="48.8" height="48.4" fill="none" stroke="#3a3a3a" stroke-width="1.6"/>
<line x1="215.5" y1="271.6" x2="264.6" y2="271.6" stroke="#777" stroke-width="0.8"/>
<path d="M217,269.8 L217,226.6 L237.6,226.6 L237.6,236" fill="none" stroke="#777" stroke-width="1.3"/>
<path d="M236.4,226.6 C235,243 233,257 229.2,270" fill="none" stroke="#777" stroke-width="1.5"/>
<path d="M239.4,226.6 C238,243 236,257 231.6,269.8" fill="none" stroke="#888" stroke-width="1.3"/>
<path d="M239.4,226.6 L262.6,226.6 L262.6,266.6 L231.6,269.6" fill="none" stroke="#777" stroke-width="1.3"/>
<path d="M216.5,270.3 L230,270.3" fill="none" stroke="#777" stroke-width="1.2"/>
<text x="217.0" y="236.7" font-size="9.6" font-weight="bold" textLength="18.5" lengthAdjust="spacingAndGlyphs" fill="#111" style="stroke-width:0.2px">42%</text>
<text x="242.0" y="236.7" font-size="9.6" font-weight="bold" textLength="18.5" lengthAdjust="spacingAndGlyphs" fill="#111" style="stroke-width:0.2px">57%</text>
<text transform="translate(64.3,231.2) rotate(-90)" x="0" y="0" font-size="7.2" textLength="14.5" lengthAdjust="spacingAndGlyphs" fill="#111">1000</text>
<text transform="translate(64.3,272.2) rotate(-90)" x="0" y="0" font-size="7.2" fill="#111">0</text>
<text transform="translate(212.0,231.2) rotate(-90)" x="0" y="0" font-size="7.2" textLength="14.5" lengthAdjust="spacingAndGlyphs" fill="#111">1000</text>
<text transform="translate(212.0,272.2) rotate(-90)" x="0" y="0" font-size="7.2" fill="#111">0</text>
<text x="68.4" y="281.2" font-size="7.2" fill="#111">0</text>
<text x="110.0" y="281.2" font-size="7.2" textLength="15" lengthAdjust="spacingAndGlyphs" fill="#111">1000</text>
<text x="214.5" y="283.0" font-size="7.2" fill="#111">0</text>
<text x="257.0" y="283.0" font-size="7.2" textLength="14.5" lengthAdjust="spacingAndGlyphs" fill="#111">1000</text>
<path d="M35.3,254.4 L35.3,275.8 L57.8,275.8" fill="none" stroke="#111" stroke-width="1.4"/>
<path d="M32.9,258.4 L35.3,254.4 L37.699999999999996,258.4" fill="none" stroke="#111" stroke-width="1.4"/>
<path d="M53.8,273.40000000000003 L57.8,275.8 L53.8,278.2" fill="none" stroke="#111" stroke-width="1.4"/>
<text transform="translate(30.6,278.2) rotate(-90)" x="0" y="0" font-size="8.6" textLength="17.6" lengthAdjust="spacingAndGlyphs" fill="#111">SSC</text>
<text x="33.0" y="288.4" font-size="8.6" textLength="18.2" lengthAdjust="spacingAndGlyphs" fill="#111">GFP</text>
<path d="M11.6,343.0 L11.6,364.6 L33.8,364.6" fill="none" stroke="#111" stroke-width="1.4"/>
<path d="M9.2,347.0 L11.6,343.0 L14.0,347.0" fill="none" stroke="#111" stroke-width="1.4"/>
<path d="M29.799999999999997,362.20000000000005 L33.8,364.6 L29.799999999999997,367.0" fill="none" stroke="#111" stroke-width="1.4"/>
<text transform="translate(7.2,365.5) rotate(-90)" x="0" y="0" font-size="8.6" textLength="22.5" lengthAdjust="spacingAndGlyphs" fill="#111">CD15</text>
<text x="9.4" y="375.4" font-size="8.6" textLength="22.4" lengthAdjust="spacingAndGlyphs" fill="#111">CD34</text>
<g filter="url(#soft)">
<ellipse cx="53" cy="338.5" rx="5.2" ry="4.6" fill="#000" opacity="0.7" filter="url(#bl)"/>
<ellipse cx="50" cy="351.5" rx="5.5" ry="4.6" fill="#000" opacity="0.75" filter="url(#bl)"/>
<ellipse cx="52" cy="345" rx="6" ry="5" fill="#000" opacity="0.4" filter="url(#bl)"/>
<path d="M57.1 345.9h0.8v0.8h-0.8zM49.1 333.3h0.8v0.8h-0.8zM55.0 347.3h0.8v0.8h-0.8zM55.2 333.8h0.8v0.8h-0.8zM49.2 337.3h0.8v0.8h-0.8zM58.0 340.0h0.8v0.8h-0.8zM51.3 337.1h0.8v0.8h-0.8zM54.0 335.5h0.8v0.8h-0.8zM53.2 339.9h0.8v0.8h-0.8zM61.5 340.8h0.8v0.8h-0.8zM58.1 335.3h0.8v0.8h-0.8zM57.5 340.7h0.8v0.8h-0.8zM50.4 337.8h0.8v0.8h-0.8zM57.8 338.5h0.8v0.8h-0.8zM58.4 347.3h0.8v0.8h-0.8zM61.4 348.7h0.8v0.8h-0.8zM46.7 338.4h0.8v0.8h-0.8zM49.7 342.1h0.8v0.8h-0.8zM53.6 339.9h0.8v0.8h-0.8zM55.5 336.6h0.8v0.8h-0.8zM53.7 335.5h0.8v0.8h-0.8zM63.8 339.6h0.8v0.8h-0.8zM53.3 330.5h0.8v0.8h-0.8zM45.6 332.6h0.8v0.8h-0.8zM57.2 343.5h0.8v0.8h-0.8zM54.6 336.1h0.8v0.8h-0.8zM62.6 336.6h0.8v0.8h-0.8zM48.8 339.7h0.8v0.8h-0.8zM48.1 338.5h0.8v0.8h-0.8zM58.1 339.8h0.8v0.8h-0.8zM55.3 339.5h0.8v0.8h-0.8zM49.7 322.9h0.8v0.8h-0.8zM47.0 336.9h0.8v0.8h-0.8zM44.8 333.7h0.8v0.8h-0.8zM54.2 345.3h0.8v0.8h-0.8zM46.2 334.2h0.8v0.8h-0.8zM54.3 341.5h0.8v0.8h-0.8zM46.1 345.4h0.8v0.8h-0.8zM49.0 342.6h0.8v0.8h-0.8zM52.2 340.3h0.8v0.8h-0.8zM61.7 344.5h0.8v0.8h-0.8zM53.9 334.2h0.8v0.8h-0.8zM49.8 331.0h0.8v0.8h-0.8zM63.5 334.4h0.8v0.8h-0.8zM59.7 338.9h0.8v0.8h-0.8zM57.5 336.1h0.8v0.8h-0.8zM50.2 340.2h0.8v0.8h-0.8zM55.2 337.1h0.8v0.8h-0.8zM61.5 344.6h0.8v0.8h-0.8zM53.9 333.3h0.8v0.8h-0.8zM53.9 337.4h0.8v0.8h-0.8zM52.8 342.4h0.8v0.8h-0.8zM50.2 339.1h0.8v0.8h-0.8zM57.3 341.6h0.8v0.8h-0.8zM65.0 333.9h0.8v0.8h-0.8zM52.8 333.0h0.8v0.8h-0.8zM52.8 350.5h0.8v0.8h-0.8zM44.7 334.9h0.8v0.8h-0.8zM56.5 340.1h0.8v0.8h-0.8zM57.9 332.7h0.8v0.8h-0.8zM58.2 335.6h0.8v0.8h-0.8zM46.9 339.5h0.8v0.8h-0.8zM55.6 335.9h0.8v0.8h-0.8zM48.9 336.5h0.8v0.8h-0.8zM53.1 337.8h0.8v0.8h-0.8zM47.9 326.2h0.8v0.8h-0.8zM59.9 341.4h0.8v0.8h-0.8zM46.7 329.4h0.8v0.8h-0.8zM49.5 335.6h0.8v0.8h-0.8zM55.3 337.7h0.8v0.8h-0.8zM54.9 340.2h0.8v0.8h-0.8zM58.6 340.9h0.8v0.8h-0.8zM59.6 347.8h0.8v0.8h-0.8zM51.5 336.0h0.8v0.8h-0.8zM48.5 336.2h0.8v0.8h-0.8zM49.3 337.6h0.8v0.8h-0.8zM54.7 341.6h0.8v0.8h-0.8zM47.1 342.0h0.8v0.8h-0.8zM51.5 337.6h0.8v0.8h-0.8zM50.4 328.3h0.8v0.8h-0.8zM54.4 330.6h0.8v0.8h-0.8zM58.8 340.4h0.8v0.8h-0.8zM61.1 344.0h0.8v0.8h-0.8zM56.7 346.3h0.8v0.8h-0.8zM52.9 345.8h0.8v0.8h-0.8zM52.4 339.6h0.8v0.8h-0.8zM49.6 340.1h0.8v0.8h-0.8zM56.5 337.2h0.8v0.8h-0.8zM46.4 336.5h0.8v0.8h-0.8zM55.2 338.5h0.8v0.8h-0.8zM48.0 333.7h0.8v0.8h-0.8zM51.7 325.7h0.8v0.8h-0.8zM50.0 344.5h0.8v0.8h-0.8zM46.4 335.6h0.8v0.8h-0.8zM61.8 344.4h0.8v0.8h-0.8zM57.8 339.2h0.8v0.8h-0.8zM46.2 350.2h0.8v0.8h-0.8zM54.6 340.2h0.8v0.8h-0.8zM61.5 344.9h0.8v0.8h-0.8zM53.4 333.4h0.8v0.8h-0.8zM52.2 337.6h0.8v0.8h-0.8zM49.5 333.4h0.8v0.8h-0.8zM47.9 336.5h0.8v0.8h-0.8zM50.0 339.6h0.8v0.8h-0.8zM58.3 341.6h0.8v0.8h-0.8zM53.2 346.0h0.8v0.8h-0.8zM56.4 332.5h0.8v0.8h-0.8zM49.3 338.4h0.8v0.8h-0.8zM48.5 340.8h0.8v0.8h-0.8zM58.1 342.8h0.8v0.8h-0.8zM44.7 336.5h0.8v0.8h-0.8zM60.0 335.2h0.8v0.8h-0.8zM46.9 331.0h0.8v0.8h-0.8zM47.9 328.8h0.8v0.8h-0.8zM50.5 330.9h0.8v0.8h-0.8zM53.3 349.2h0.8v0.8h-0.8zM47.6 341.3h0.8v0.8h-0.8zM59.1 329.3h0.8v0.8h-0.8zM53.6 338.6h0.8v0.8h-0.8zM51.3 341.8h0.8v0.8h-0.8zM50.7 339.5h0.8v0.8h-0.8zM51.0 337.3h0.8v0.8h-0.8zM49.0 348.1h0.8v0.8h-0.8zM52.7 333.1h0.8v0.8h-0.8zM63.1 348.9h0.8v0.8h-0.8zM52.0 335.1h0.8v0.8h-0.8zM49.2 343.3h0.8v0.8h-0.8zM51.3 334.6h0.8v0.8h-0.8zM57.4 338.5h0.8v0.8h-0.8zM52.7 347.6h0.8v0.8h-0.8zM57.5 345.7h0.8v0.8h-0.8zM55.2 345.2h0.8v0.8h-0.8zM52.1 342.8h0.8v0.8h-0.8zM58.4 338.1h0.8v0.8h-0.8zM46.4 339.1h0.8v0.8h-0.8zM52.4 341.2h0.8v0.8h-0.8zM49.9 340.1h0.8v0.8h-0.8zM58.0 351.2h0.8v0.8h-0.8zM62.3 343.0h0.8v0.8h-0.8zM60.4 337.7h0.8v0.8h-0.8zM59.1 340.9h0.8v0.8h-0.8zM59.9 342.1h0.8v0.8h-0.8zM51.8 334.8h0.8v0.8h-0.8zM59.5 340.7h0.8v0.8h-0.8zM56.7 341.9h0.8v0.8h-0.8zM51.1 339.8h0.8v0.8h-0.8zM55.5 330.7h0.8v0.8h-0.8zM51.4 337.8h0.8v0.8h-0.8zM55.0 343.6h0.8v0.8h-0.8zM49.5 336.4h0.8v0.8h-0.8zM56.2 330.7h0.8v0.8h-0.8zM62.6 336.8h0.8v0.8h-0.8zM59.8 341.2h0.8v0.8h-0.8zM62.8 346.3h0.8v0.8h-0.8zM52.8 330.4h0.8v0.8h-0.8zM53.7 340.2h0.8v0.8h-0.8zM55.8 333.3h0.8v0.8h-0.8zM48.7 333.6h0.8v0.8h-0.8zM54.5 334.8h0.8v0.8h-0.8zM52.4 342.7h0.8v0.8h-0.8zM50.8 344.3h0.8v0.8h-0.8zM54.5 337.8h0.8v0.8h-0.8zM58.7 342.5h0.8v0.8h-0.8zM51.5 335.3h0.8v0.8h-0.8zM52.8 340.1h0.8v0.8h-0.8zM58.9 341.5h0.8v0.8h-0.8zM49.8 331.3h0.8v0.8h-0.8zM54.3 340.8h0.8v0.8h-0.8zM58.9 337.7h0.8v0.8h-0.8zM46.3 340.5h0.8v0.8h-0.8zM52.1 332.5h0.8v0.8h-0.8zM61.6 345.2h0.8v0.8h-0.8zM53.3 339.9h0.8v0.8h-0.8zM49.2 342.1h0.8v0.8h-0.8zM50.8 335.7h0.8v0.8h-0.8zM51.5 332.7h0.8v0.8h-0.8zM58.3 348.0h0.8v0.8h-0.8zM56.9 329.9h0.8v0.8h-0.8zM51.4 335.0h0.8v0.8h-0.8zM54.9 328.9h0.8v0.8h-0.8zM58.1 339.1h0.8v0.8h-0.8zM64.4 337.8h0.8v0.8h-0.8zM53.2 337.9h0.8v0.8h-0.8zM48.7 342.5h0.8v0.8h-0.8zM46.2 331.5h0.8v0.8h-0.8zM51.1 335.7h0.8v0.8h-0.8zM58.8 337.7h0.8v0.8h-0.8zM55.6 337.1h0.8v0.8h-0.8zM59.6 340.3h0.8v0.8h-0.8zM54.4 331.2h0.8v0.8h-0.8zM56.7 336.5h0.8v0.8h-0.8zM57.6 342.2h0.8v0.8h-0.8zM55.8 344.7h0.8v0.8h-0.8zM55.0 334.9h0.8v0.8h-0.8zM53.8 339.6h0.8v0.8h-0.8zM46.9 339.7h0.8v0.8h-0.8zM60.6 341.9h0.8v0.8h-0.8zM53.6 340.9h0.8v0.8h-0.8zM58.7 337.6h0.8v0.8h-0.8zM57.9 336.4h0.8v0.8h-0.8zM55.8 341.8h0.8v0.8h-0.8zM46.4 339.7h0.8v0.8h-0.8zM54.1 330.9h0.8v0.8h-0.8zM50.7 334.9h0.8v0.8h-0.8zM48.4 339.2h0.8v0.8h-0.8zM48.9 337.6h0.8v0.8h-0.8zM47.4 335.6h0.8v0.8h-0.8zM62.4 343.2h0.8v0.8h-0.8zM45.0 331.7h0.8v0.8h-0.8zM52.3 330.6h0.8v0.8h-0.8zM58.1 339.8h0.8v0.8h-0.8zM52.6 338.7h0.8v0.8h-0.8zM49.5 332.1h0.8v0.8h-0.8zM54.2 342.1h0.8v0.8h-0.8zM52.1 329.5h0.8v0.8h-0.8zM51.3 338.2h0.8v0.8h-0.8zM46.3 343.1h0.8v0.8h-0.8zM47.2 336.8h0.8v0.8h-0.8zM47.4 341.2h0.8v0.8h-0.8zM46.5 332.4h0.8v0.8h-0.8zM58.7 334.2h0.8v0.8h-0.8zM50.2 340.3h0.8v0.8h-0.8zM54.8 330.7h0.8v0.8h-0.8zM56.1 338.0h0.8v0.8h-0.8zM59.3 332.1h0.8v0.8h-0.8zM56.9 341.5h0.8v0.8h-0.8zM51.0 335.9h0.8v0.8h-0.8zM55.0 335.8h0.8v0.8h-0.8zM51.2 334.3h0.8v0.8h-0.8zM53.7 341.9h0.8v0.8h-0.8zM44.8 336.2h0.8v0.8h-0.8zM54.6 346.1h0.8v0.8h-0.8zM49.2 343.3h0.8v0.8h-0.8zM50.7 340.1h0.8v0.8h-0.8zM54.1 340.1h0.8v0.8h-0.8zM51.2 333.3h0.8v0.8h-0.8zM60.7 347.6h0.8v0.8h-0.8zM52.4 337.5h0.8v0.8h-0.8zM51.9 331.9h0.8v0.8h-0.8zM47.3 338.8h0.8v0.8h-0.8zM57.9 338.8h0.8v0.8h-0.8zM48.2 332.0h0.8v0.8h-0.8zM49.8 340.9h0.8v0.8h-0.8zM53.2 331.8h0.8v0.8h-0.8zM47.0 338.3h0.8v0.8h-0.8zM54.5 347.2h0.8v0.8h-0.8zM60.4 341.5h0.8v0.8h-0.8zM49.5 338.4h0.8v0.8h-0.8zM47.1 333.5h0.8v0.8h-0.8zM58.2 342.9h0.8v0.8h-0.8zM57.7 347.2h0.8v0.8h-0.8zM50.8 341.6h0.8v0.8h-0.8zM53.4 340.1h0.8v0.8h-0.8zM54.2 341.4h0.8v0.8h-0.8zM45.8 329.9h0.8v0.8h-0.8zM53.5 340.9h0.8v0.8h-0.8zM50.5 337.3h0.8v0.8h-0.8zM45.7 340.9h0.8v0.8h-0.8zM55.3 346.3h0.8v0.8h-0.8zM50.9 337.4h0.8v0.8h-0.8zM53.3 345.0h0.8v0.8h-0.8zM55.9 341.2h0.8v0.8h-0.8zM44.5 332.0h0.8v0.8h-0.8zM45.4 335.4h0.8v0.8h-0.8zM57.4 340.0h0.8v0.8h-0.8zM48.2 346.7h0.8v0.8h-0.8zM47.3 343.4h0.8v0.8h-0.8zM59.0 341.4h0.8v0.8h-0.8zM59.9 335.3h0.8v0.8h-0.8zM50.1 336.2h0.8v0.8h-0.8zM54.9 338.2h0.8v0.8h-0.8zM61.8 339.2h0.8v0.8h-0.8zM51.8 332.4h0.8v0.8h-0.8zM55.4 342.9h0.8v0.8h-0.8zM49.1 331.4h0.8v0.8h-0.8zM45.8 341.9h0.8v0.8h-0.8zM57.0 341.0h0.8v0.8h-0.8zM56.9 341.9h0.8v0.8h-0.8zM55.3 331.5h0.8v0.8h-0.8zM55.6 342.6h0.8v0.8h-0.8zM58.8 344.7h0.8v0.8h-0.8zM49.5 338.7h0.8v0.8h-0.8zM45.7 343.2h0.8v0.8h-0.8zM45.9 339.8h0.8v0.8h-0.8zM48.9 333.4h0.8v0.8h-0.8zM48.4 335.6h0.8v0.8h-0.8zM54.9 344.3h0.8v0.8h-0.8zM51.4 342.1h0.8v0.8h-0.8zM57.5 349.5h0.8v0.8h-0.8zM49.9 339.0h0.8v0.8h-0.8zM56.5 340.2h0.8v0.8h-0.8zM56.2 336.2h0.8v0.8h-0.8zM51.1 335.0h0.8v0.8h-0.8zM49.7 333.3h0.8v0.8h-0.8zM52.5 332.5h0.8v0.8h-0.8zM50.0 340.4h0.8v0.8h-0.8zM44.9 331.1h0.8v0.8h-0.8zM50.9 332.8h0.8v0.8h-0.8zM47.8 345.9h0.8v0.8h-0.8zM54.7 336.8h0.8v0.8h-0.8zM49.2 330.0h0.8v0.8h-0.8zM47.0 325.8h0.8v0.8h-0.8zM55.8 336.8h0.8v0.8h-0.8zM57.6 339.7h0.8v0.8h-0.8zM55.6 343.4h0.8v0.8h-0.8zM50.1 335.0h0.8v0.8h-0.8zM52.0 346.6h0.8v0.8h-0.8zM46.5 331.5h0.8v0.8h-0.8zM55.6 329.9h0.8v0.8h-0.8zM60.6 335.2h0.8v0.8h-0.8zM59.1 339.5h0.8v0.8h-0.8zM51.1 332.5h0.8v0.8h-0.8zM60.4 339.3h0.8v0.8h-0.8zM46.0 339.5h0.8v0.8h-0.8zM52.2 340.7h0.8v0.8h-0.8zM50.9 339.6h0.8v0.8h-0.8zM55.3 339.2h0.8v0.8h-0.8zM44.5 338.3h0.8v0.8h-0.8zM60.1 342.6h0.8v0.8h-0.8zM57.8 343.5h0.8v0.8h-0.8zM51.4 343.0h0.8v0.8h-0.8zM51.7 333.3h0.8v0.8h-0.8zM46.5 341.5h0.8v0.8h-0.8zM56.6 342.5h0.8v0.8h-0.8zM50.1 329.0h0.8v0.8h-0.8zM57.0 339.2h0.8v0.8h-0.8zM49.8 334.7h0.8v0.8h-0.8zM50.0 328.8h0.8v0.8h-0.8zM56.2 342.7h0.8v0.8h-0.8zM57.5 338.1h0.8v0.8h-0.8zM46.5 330.1h0.8v0.8h-0.8zM51.4 346.2h0.8v0.8h-0.8zM57.7 340.0h0.8v0.8h-0.8zM55.4 343.0h0.8v0.8h-0.8zM53.3 339.6h0.8v0.8h-0.8zM54.1 336.0h0.8v0.8h-0.8zM47.1 334.1h0.8v0.8h-0.8zM58.9 332.7h0.8v0.8h-0.8zM50.7 335.8h0.8v0.8h-0.8zM53.2 336.4h0.8v0.8h-0.8zM57.0 337.9h0.8v0.8h-0.8zM52.9 341.8h0.8v0.8h-0.8zM45.7 341.5h0.8v0.8h-0.8zM58.3 333.8h0.8v0.8h-0.8zM52.5 334.8h0.8v0.8h-0.8zM51.1 341.6h0.8v0.8h-0.8zM55.2 339.1h0.8v0.8h-0.8zM64.4 339.4h0.8v0.8h-0.8zM45.3 338.0h0.8v0.8h-0.8zM53.7 335.7h0.8v0.8h-0.8zM61.4 333.7h0.8v0.8h-0.8zM60.1 344.4h0.8v0.8h-0.8zM56.3 344.7h0.8v0.8h-0.8zM59.8 346.4h0.8v0.8h-0.8zM52.8 337.3h0.8v0.8h-0.8zM51.9 340.6h0.8v0.8h-0.8zM48.2 332.0h0.8v0.8h-0.8zM64.8 346.4h0.8v0.8h-0.8zM58.5 339.0h0.8v0.8h-0.8zM48.6 335.2h0.8v0.8h-0.8zM48.9 334.3h0.8v0.8h-0.8zM44.9 339.1h0.8v0.8h-0.8zM54.7 342.7h0.8v0.8h-0.8zM53.3 335.2h0.8v0.8h-0.8zM63.4 345.9h0.8v0.8h-0.8zM55.9 343.5h0.8v0.8h-0.8zM51.4 341.5h0.8v0.8h-0.8zM49.1 342.1h0.8v0.8h-0.8zM57.8 343.8h0.8v0.8h-0.8zM55.0 339.7h0.8v0.8h-0.8zM54.1 342.2h0.8v0.8h-0.8zM50.7 341.1h0.8v0.8h-0.8zM57.0 333.7h0.8v0.8h-0.8zM44.2 337.3h0.8v0.8h-0.8zM51.2 334.2h0.8v0.8h-0.8zM46.6 331.4h0.8v0.8h-0.8zM44.5 334.3h0.8v0.8h-0.8zM45.0 328.1h0.8v0.8h-0.8zM52.3 345.4h0.8v0.8h-0.8zM59.3 339.5h0.8v0.8h-0.8zM54.9 337.9h0.8v0.8h-0.8zM52.3 334.6h0.8v0.8h-0.8zM53.0 333.5h0.8v0.8h-0.8zM49.2 336.6h0.8v0.8h-0.8zM52.5 347.9h0.8v0.8h-0.8zM48.5 331.9h0.8v0.8h-0.8zM56.2 342.1h0.8v0.8h-0.8zM56.4 338.9h0.8v0.8h-0.8zM45.2 334.5h0.8v0.8h-0.8zM46.4 336.2h0.8v0.8h-0.8zM61.9 339.5h0.8v0.8h-0.8zM53.4 343.7h0.8v0.8h-0.8zM46.1 340.0h0.8v0.8h-0.8zM51.2 334.7h0.8v0.8h-0.8zM51.0 333.2h0.8v0.8h-0.8zM57.3 340.1h0.8v0.8h-0.8zM50.5 340.0h0.8v0.8h-0.8zM45.2 323.2h0.8v0.8h-0.8zM59.7 337.6h0.8v0.8h-0.8zM56.8 335.3h0.8v0.8h-0.8zM57.6 341.5h0.8v0.8h-0.8zM49.7 340.6h0.8v0.8h-0.8zM51.4 338.8h0.8v0.8h-0.8zM47.4 326.1h0.8v0.8h-0.8zM53.3 341.6h0.8v0.8h-0.8zM48.3 344.5h0.8v0.8h-0.8zM54.3 347.0h0.8v0.8h-0.8zM56.3 345.1h0.8v0.8h-0.8zM51.6 331.1h0.8v0.8h-0.8zM64.2 347.8h0.8v0.8h-0.8zM56.4 335.0h0.8v0.8h-0.8zM57.5 334.8h0.8v0.8h-0.8zM55.6 343.4h0.8v0.8h-0.8zM55.5 334.4h0.8v0.8h-0.8zM56.0 340.1h0.8v0.8h-0.8zM55.7 345.1h0.8v0.8h-0.8zM49.5 333.4h0.8v0.8h-0.8zM48.7 343.2h0.8v0.8h-0.8zM54.8 344.5h0.8v0.8h-0.8zM54.1 340.9h0.8v0.8h-0.8zM51.7 340.1h0.8v0.8h-0.8zM47.4 341.6h0.8v0.8h-0.8zM44.2 333.4h0.8v0.8h-0.8zM50.8 338.2h0.8v0.8h-0.8zM52.3 333.5h0.8v0.8h-0.8zM53.1 325.6h0.8v0.8h-0.8zM49.1 336.8h0.8v0.8h-0.8zM49.2 341.8h0.8v0.8h-0.8zM52.0 340.2h0.8v0.8h-0.8zM46.9 340.9h0.8v0.8h-0.8zM56.5 332.1h0.8v0.8h-0.8zM60.0 334.8h0.8v0.8h-0.8zM46.7 340.3h0.8v0.8h-0.8zM61.7 343.8h0.8v0.8h-0.8zM51.9 334.6h0.8v0.8h-0.8zM48.9 338.0h0.8v0.8h-0.8zM54.5 334.1h0.8v0.8h-0.8zM55.3 328.5h0.8v0.8h-0.8zM53.9 334.2h0.8v0.8h-0.8zM46.1 346.1h0.8v0.8h-0.8zM55.8 337.6h0.8v0.8h-0.8zM47.1 343.2h0.8v0.8h-0.8zM53.2 334.7h0.8v0.8h-0.8zM56.5 341.6h0.8v0.8h-0.8zM47.2 327.9h0.8v0.8h-0.8zM58.5 338.3h0.8v0.8h-0.8zM56.5 327.1h0.8v0.8h-0.8z" fill="#000" opacity="0.5"/>
<path d="M48.6 354.1h0.8v0.8h-0.8zM54.9 355.6h0.8v0.8h-0.8zM53.8 350.3h0.8v0.8h-0.8zM45.8 347.8h0.8v0.8h-0.8zM57.0 350.4h0.8v0.8h-0.8zM50.5 349.1h0.8v0.8h-0.8zM52.3 347.5h0.8v0.8h-0.8zM64.4 349.4h0.8v0.8h-0.8zM44.8 351.7h0.8v0.8h-0.8zM51.1 354.8h0.8v0.8h-0.8zM51.4 354.0h0.8v0.8h-0.8zM50.3 350.1h0.8v0.8h-0.8zM44.5 348.2h0.8v0.8h-0.8zM49.9 346.1h0.8v0.8h-0.8zM54.5 350.0h0.8v0.8h-0.8zM56.6 354.6h0.8v0.8h-0.8zM57.9 348.5h0.8v0.8h-0.8zM52.6 348.8h0.8v0.8h-0.8zM45.1 351.9h0.8v0.8h-0.8zM47.5 354.9h0.8v0.8h-0.8zM57.3 352.3h0.8v0.8h-0.8zM47.5 342.6h0.8v0.8h-0.8zM46.7 349.9h0.8v0.8h-0.8zM49.3 350.5h0.8v0.8h-0.8zM50.3 347.9h0.8v0.8h-0.8zM49.9 349.3h0.8v0.8h-0.8zM47.8 350.0h0.8v0.8h-0.8zM54.7 352.2h0.8v0.8h-0.8zM53.7 348.1h0.8v0.8h-0.8zM54.7 351.1h0.8v0.8h-0.8zM47.2 344.6h0.8v0.8h-0.8zM51.9 347.8h0.8v0.8h-0.8zM50.5 356.3h0.8v0.8h-0.8zM51.2 353.9h0.8v0.8h-0.8zM54.0 355.9h0.8v0.8h-0.8zM46.3 351.9h0.8v0.8h-0.8zM53.2 350.3h0.8v0.8h-0.8zM50.4 352.7h0.8v0.8h-0.8zM45.5 346.7h0.8v0.8h-0.8zM48.1 349.4h0.8v0.8h-0.8zM60.6 348.6h0.8v0.8h-0.8zM54.0 354.3h0.8v0.8h-0.8zM48.9 355.5h0.8v0.8h-0.8zM46.7 356.0h0.8v0.8h-0.8zM53.6 349.2h0.8v0.8h-0.8zM45.5 349.5h0.8v0.8h-0.8zM47.6 348.6h0.8v0.8h-0.8zM50.9 352.0h0.8v0.8h-0.8zM44.8 348.1h0.8v0.8h-0.8zM51.5 349.2h0.8v0.8h-0.8zM47.7 347.4h0.8v0.8h-0.8zM44.7 351.0h0.8v0.8h-0.8zM48.6 349.6h0.8v0.8h-0.8zM55.1 347.9h0.8v0.8h-0.8zM56.6 352.8h0.8v0.8h-0.8zM64.9 347.6h0.8v0.8h-0.8zM46.6 353.0h0.8v0.8h-0.8zM54.6 350.2h0.8v0.8h-0.8zM54.6 351.9h0.8v0.8h-0.8zM55.0 353.0h0.8v0.8h-0.8zM49.8 347.7h0.8v0.8h-0.8zM53.9 345.3h0.8v0.8h-0.8zM48.9 352.7h0.8v0.8h-0.8zM58.0 346.4h0.8v0.8h-0.8zM51.7 343.2h0.8v0.8h-0.8zM55.2 353.5h0.8v0.8h-0.8zM44.7 356.0h0.8v0.8h-0.8zM52.6 346.1h0.8v0.8h-0.8zM58.5 352.3h0.8v0.8h-0.8zM55.2 351.5h0.8v0.8h-0.8zM57.5 356.2h0.8v0.8h-0.8zM53.9 352.8h0.8v0.8h-0.8zM46.3 342.5h0.8v0.8h-0.8zM57.3 354.0h0.8v0.8h-0.8zM44.4 355.0h0.8v0.8h-0.8zM51.4 351.9h0.8v0.8h-0.8zM60.7 355.7h0.8v0.8h-0.8zM56.1 356.3h0.8v0.8h-0.8zM53.5 349.9h0.8v0.8h-0.8zM52.5 343.5h0.8v0.8h-0.8zM57.6 351.2h0.8v0.8h-0.8zM47.4 348.4h0.8v0.8h-0.8zM51.4 347.9h0.8v0.8h-0.8zM45.0 347.4h0.8v0.8h-0.8zM60.2 351.0h0.8v0.8h-0.8zM53.3 353.0h0.8v0.8h-0.8zM47.1 354.8h0.8v0.8h-0.8zM49.6 348.3h0.8v0.8h-0.8zM44.9 349.8h0.8v0.8h-0.8zM47.8 357.2h0.8v0.8h-0.8zM46.5 348.0h0.8v0.8h-0.8zM57.5 354.3h0.8v0.8h-0.8zM52.2 347.8h0.8v0.8h-0.8zM48.9 346.5h0.8v0.8h-0.8zM59.7 356.0h0.8v0.8h-0.8zM48.1 355.9h0.8v0.8h-0.8zM51.3 342.9h0.8v0.8h-0.8zM53.7 348.3h0.8v0.8h-0.8zM52.3 349.5h0.8v0.8h-0.8zM45.0 350.1h0.8v0.8h-0.8zM56.4 346.5h0.8v0.8h-0.8zM45.1 345.1h0.8v0.8h-0.8zM47.1 355.2h0.8v0.8h-0.8zM54.6 353.9h0.8v0.8h-0.8zM45.7 348.8h0.8v0.8h-0.8zM54.9 354.6h0.8v0.8h-0.8zM47.7 350.6h0.8v0.8h-0.8zM55.6 350.9h0.8v0.8h-0.8zM46.4 352.9h0.8v0.8h-0.8zM47.4 353.9h0.8v0.8h-0.8zM51.8 350.2h0.8v0.8h-0.8zM45.6 355.8h0.8v0.8h-0.8zM45.7 352.0h0.8v0.8h-0.8zM48.5 351.7h0.8v0.8h-0.8zM48.4 355.7h0.8v0.8h-0.8zM51.1 347.1h0.8v0.8h-0.8zM49.3 356.7h0.8v0.8h-0.8zM53.1 357.0h0.8v0.8h-0.8zM57.4 346.2h0.8v0.8h-0.8zM54.5 351.3h0.8v0.8h-0.8zM56.2 350.2h0.8v0.8h-0.8zM46.4 354.9h0.8v0.8h-0.8zM62.5 346.5h0.8v0.8h-0.8zM52.1 348.2h0.8v0.8h-0.8zM53.2 353.4h0.8v0.8h-0.8zM46.5 345.7h0.8v0.8h-0.8zM50.9 351.6h0.8v0.8h-0.8zM55.5 351.4h0.8v0.8h-0.8zM56.4 352.7h0.8v0.8h-0.8zM58.8 355.9h0.8v0.8h-0.8zM53.0 350.5h0.8v0.8h-0.8zM45.9 348.7h0.8v0.8h-0.8zM45.8 356.1h0.8v0.8h-0.8zM63.1 348.0h0.8v0.8h-0.8zM63.7 345.7h0.8v0.8h-0.8zM51.4 352.2h0.8v0.8h-0.8zM52.5 348.7h0.8v0.8h-0.8zM44.4 350.9h0.8v0.8h-0.8zM56.4 350.8h0.8v0.8h-0.8zM53.0 353.6h0.8v0.8h-0.8zM58.8 347.1h0.8v0.8h-0.8zM44.4 356.4h0.8v0.8h-0.8zM49.2 351.6h0.8v0.8h-0.8zM45.6 352.8h0.8v0.8h-0.8zM48.0 353.8h0.8v0.8h-0.8zM52.8 355.1h0.8v0.8h-0.8zM45.8 349.5h0.8v0.8h-0.8zM61.6 352.0h0.8v0.8h-0.8zM56.1 356.0h0.8v0.8h-0.8zM55.0 351.1h0.8v0.8h-0.8zM49.9 355.2h0.8v0.8h-0.8zM53.0 354.0h0.8v0.8h-0.8zM54.0 349.4h0.8v0.8h-0.8zM46.1 345.7h0.8v0.8h-0.8zM51.8 351.5h0.8v0.8h-0.8zM51.2 342.1h0.8v0.8h-0.8zM48.4 347.1h0.8v0.8h-0.8zM55.9 354.5h0.8v0.8h-0.8zM54.3 353.9h0.8v0.8h-0.8zM57.0 352.6h0.8v0.8h-0.8zM46.1 352.2h0.8v0.8h-0.8zM50.9 353.0h0.8v0.8h-0.8zM53.3 351.9h0.8v0.8h-0.8zM51.9 351.4h0.8v0.8h-0.8zM49.2 347.0h0.8v0.8h-0.8zM46.5 349.6h0.8v0.8h-0.8zM60.4 350.6h0.8v0.8h-0.8zM45.7 354.0h0.8v0.8h-0.8zM53.3 350.3h0.8v0.8h-0.8zM55.9 347.3h0.8v0.8h-0.8zM44.3 349.4h0.8v0.8h-0.8zM48.5 350.5h0.8v0.8h-0.8zM50.5 355.4h0.8v0.8h-0.8zM50.9 353.2h0.8v0.8h-0.8zM49.2 347.2h0.8v0.8h-0.8zM50.2 347.3h0.8v0.8h-0.8zM54.3 350.4h0.8v0.8h-0.8zM44.8 351.2h0.8v0.8h-0.8zM51.2 349.3h0.8v0.8h-0.8zM44.7 350.2h0.8v0.8h-0.8zM47.7 349.3h0.8v0.8h-0.8zM56.4 350.5h0.8v0.8h-0.8zM56.1 353.9h0.8v0.8h-0.8zM50.7 351.5h0.8v0.8h-0.8zM50.7 344.2h0.8v0.8h-0.8zM56.1 355.3h0.8v0.8h-0.8zM52.0 353.0h0.8v0.8h-0.8zM45.9 351.0h0.8v0.8h-0.8zM46.9 347.2h0.8v0.8h-0.8zM60.4 351.8h0.8v0.8h-0.8zM45.7 348.6h0.8v0.8h-0.8zM59.3 343.2h0.8v0.8h-0.8zM56.9 347.7h0.8v0.8h-0.8zM46.5 356.3h0.8v0.8h-0.8zM57.7 347.1h0.8v0.8h-0.8zM51.9 355.1h0.8v0.8h-0.8zM54.8 353.4h0.8v0.8h-0.8zM53.1 354.5h0.8v0.8h-0.8zM51.3 349.5h0.8v0.8h-0.8zM61.3 346.8h0.8v0.8h-0.8zM51.0 348.4h0.8v0.8h-0.8zM49.0 356.0h0.8v0.8h-0.8zM52.8 351.7h0.8v0.8h-0.8zM51.0 350.7h0.8v0.8h-0.8zM53.3 349.8h0.8v0.8h-0.8zM56.6 350.8h0.8v0.8h-0.8zM53.0 347.6h0.8v0.8h-0.8zM50.3 355.1h0.8v0.8h-0.8zM58.3 345.2h0.8v0.8h-0.8zM52.9 348.1h0.8v0.8h-0.8zM49.1 353.1h0.8v0.8h-0.8zM51.4 350.3h0.8v0.8h-0.8zM51.0 352.3h0.8v0.8h-0.8zM54.3 352.9h0.8v0.8h-0.8zM48.4 353.5h0.8v0.8h-0.8zM46.3 343.1h0.8v0.8h-0.8zM51.5 352.8h0.8v0.8h-0.8zM53.3 352.3h0.8v0.8h-0.8zM44.8 345.9h0.8v0.8h-0.8zM48.9 351.9h0.8v0.8h-0.8zM48.1 350.9h0.8v0.8h-0.8zM52.2 352.1h0.8v0.8h-0.8zM52.9 350.7h0.8v0.8h-0.8zM52.2 355.5h0.8v0.8h-0.8zM52.4 346.3h0.8v0.8h-0.8zM52.8 356.4h0.8v0.8h-0.8zM60.7 351.2h0.8v0.8h-0.8zM51.7 351.3h0.8v0.8h-0.8zM56.6 353.3h0.8v0.8h-0.8zM64.5 352.4h0.8v0.8h-0.8zM48.7 356.6h0.8v0.8h-0.8zM54.7 348.4h0.8v0.8h-0.8zM50.8 349.1h0.8v0.8h-0.8zM47.0 352.0h0.8v0.8h-0.8zM53.8 348.4h0.8v0.8h-0.8zM54.6 349.6h0.8v0.8h-0.8zM51.8 349.6h0.8v0.8h-0.8zM44.3 342.3h0.8v0.8h-0.8zM46.5 348.4h0.8v0.8h-0.8zM64.7 350.2h0.8v0.8h-0.8zM52.2 348.8h0.8v0.8h-0.8zM56.9 354.6h0.8v0.8h-0.8zM51.8 352.6h0.8v0.8h-0.8zM63.2 349.1h0.8v0.8h-0.8zM53.1 352.6h0.8v0.8h-0.8zM64.2 348.5h0.8v0.8h-0.8zM52.1 353.8h0.8v0.8h-0.8zM49.9 349.7h0.8v0.8h-0.8zM53.1 353.0h0.8v0.8h-0.8zM45.8 349.6h0.8v0.8h-0.8zM52.2 349.5h0.8v0.8h-0.8zM58.2 347.0h0.8v0.8h-0.8zM45.2 355.6h0.8v0.8h-0.8zM49.3 349.6h0.8v0.8h-0.8zM55.9 349.6h0.8v0.8h-0.8zM54.8 351.9h0.8v0.8h-0.8zM59.3 352.8h0.8v0.8h-0.8zM46.8 337.9h0.8v0.8h-0.8zM52.9 355.4h0.8v0.8h-0.8zM51.9 347.1h0.8v0.8h-0.8zM54.2 357.1h0.8v0.8h-0.8zM52.2 347.1h0.8v0.8h-0.8zM48.3 353.0h0.8v0.8h-0.8zM46.6 355.2h0.8v0.8h-0.8zM52.7 342.4h0.8v0.8h-0.8zM53.7 347.9h0.8v0.8h-0.8zM47.7 352.2h0.8v0.8h-0.8zM52.2 354.9h0.8v0.8h-0.8zM56.0 353.4h0.8v0.8h-0.8zM44.6 343.3h0.8v0.8h-0.8zM52.3 355.8h0.8v0.8h-0.8zM49.9 349.9h0.8v0.8h-0.8zM54.2 352.0h0.8v0.8h-0.8zM51.2 349.1h0.8v0.8h-0.8zM46.8 348.2h0.8v0.8h-0.8zM53.5 346.7h0.8v0.8h-0.8zM54.5 353.8h0.8v0.8h-0.8zM54.6 350.6h0.8v0.8h-0.8zM47.4 350.0h0.8v0.8h-0.8zM49.6 345.1h0.8v0.8h-0.8zM56.2 347.9h0.8v0.8h-0.8zM58.0 356.3h0.8v0.8h-0.8zM45.7 351.0h0.8v0.8h-0.8zM48.0 345.9h0.8v0.8h-0.8zM54.9 347.5h0.8v0.8h-0.8zM49.7 349.1h0.8v0.8h-0.8zM48.0 350.5h0.8v0.8h-0.8zM56.4 346.4h0.8v0.8h-0.8zM55.2 347.3h0.8v0.8h-0.8zM57.0 349.8h0.8v0.8h-0.8zM58.5 352.0h0.8v0.8h-0.8zM56.4 343.3h0.8v0.8h-0.8zM50.9 341.5h0.8v0.8h-0.8zM52.5 347.0h0.8v0.8h-0.8zM53.6 352.4h0.8v0.8h-0.8zM62.4 354.4h0.8v0.8h-0.8zM54.7 342.9h0.8v0.8h-0.8zM51.5 346.9h0.8v0.8h-0.8zM49.3 351.1h0.8v0.8h-0.8zM53.5 355.1h0.8v0.8h-0.8zM55.1 352.7h0.8v0.8h-0.8zM47.3 351.2h0.8v0.8h-0.8zM51.5 353.1h0.8v0.8h-0.8zM48.4 344.1h0.8v0.8h-0.8zM52.3 346.8h0.8v0.8h-0.8zM53.7 352.2h0.8v0.8h-0.8zM49.6 355.2h0.8v0.8h-0.8zM45.2 348.6h0.8v0.8h-0.8zM49.7 354.0h0.8v0.8h-0.8zM49.2 337.7h0.8v0.8h-0.8zM49.6 349.3h0.8v0.8h-0.8zM47.2 344.4h0.8v0.8h-0.8zM54.6 347.8h0.8v0.8h-0.8zM49.6 349.0h0.8v0.8h-0.8zM54.2 346.8h0.8v0.8h-0.8zM53.3 357.0h0.8v0.8h-0.8zM53.2 347.4h0.8v0.8h-0.8zM64.5 351.2h0.8v0.8h-0.8zM48.2 356.0h0.8v0.8h-0.8zM48.3 353.1h0.8v0.8h-0.8zM46.2 350.5h0.8v0.8h-0.8zM51.5 354.1h0.8v0.8h-0.8zM58.4 354.1h0.8v0.8h-0.8zM49.6 354.4h0.8v0.8h-0.8zM50.8 341.0h0.8v0.8h-0.8zM56.6 349.4h0.8v0.8h-0.8zM50.9 353.1h0.8v0.8h-0.8zM44.2 356.4h0.8v0.8h-0.8zM46.7 348.3h0.8v0.8h-0.8zM52.9 353.3h0.8v0.8h-0.8zM45.3 348.6h0.8v0.8h-0.8zM56.3 349.0h0.8v0.8h-0.8zM46.3 355.3h0.8v0.8h-0.8zM50.5 354.1h0.8v0.8h-0.8zM49.4 347.0h0.8v0.8h-0.8zM55.9 352.1h0.8v0.8h-0.8zM49.7 352.8h0.8v0.8h-0.8zM58.0 352.3h0.8v0.8h-0.8zM54.1 344.0h0.8v0.8h-0.8zM47.3 349.8h0.8v0.8h-0.8zM47.7 349.0h0.8v0.8h-0.8zM51.1 355.2h0.8v0.8h-0.8zM52.3 353.0h0.8v0.8h-0.8zM52.8 351.3h0.8v0.8h-0.8zM58.8 350.3h0.8v0.8h-0.8zM50.4 349.5h0.8v0.8h-0.8zM48.9 349.0h0.8v0.8h-0.8zM44.5 351.3h0.8v0.8h-0.8zM52.6 350.4h0.8v0.8h-0.8zM57.8 351.8h0.8v0.8h-0.8zM55.0 353.6h0.8v0.8h-0.8zM48.8 346.0h0.8v0.8h-0.8zM50.2 352.0h0.8v0.8h-0.8zM61.7 353.9h0.8v0.8h-0.8zM50.2 353.1h0.8v0.8h-0.8zM49.5 354.3h0.8v0.8h-0.8zM48.8 351.1h0.8v0.8h-0.8zM50.8 355.7h0.8v0.8h-0.8zM50.4 348.1h0.8v0.8h-0.8zM52.1 349.1h0.8v0.8h-0.8zM48.2 348.6h0.8v0.8h-0.8zM47.5 354.1h0.8v0.8h-0.8zM50.5 347.5h0.8v0.8h-0.8zM54.9 346.0h0.8v0.8h-0.8zM53.8 347.0h0.8v0.8h-0.8zM48.9 352.0h0.8v0.8h-0.8z" fill="#000" opacity="0.5"/>
<path d="M47.7 343.8h0.75v0.75h-0.75zM56.9 345.1h0.75v0.75h-0.75zM62.0 338.3h0.75v0.75h-0.75zM45.2 349.5h0.75v0.75h-0.75zM54.1 332.6h0.75v0.75h-0.75zM45.7 339.0h0.75v0.75h-0.75zM53.7 325.1h0.75v0.75h-0.75zM55.0 340.1h0.75v0.75h-0.75zM56.1 338.5h0.75v0.75h-0.75zM57.5 348.0h0.75v0.75h-0.75zM49.9 338.4h0.75v0.75h-0.75zM54.4 325.4h0.75v0.75h-0.75zM55.5 348.8h0.75v0.75h-0.75zM52.1 350.7h0.75v0.75h-0.75zM69.5 322.0h0.75v0.75h-0.75zM51.2 353.5h0.75v0.75h-0.75zM48.7 343.4h0.75v0.75h-0.75zM55.2 344.9h0.75v0.75h-0.75zM49.0 342.6h0.75v0.75h-0.75zM50.4 336.5h0.75v0.75h-0.75zM62.8 345.8h0.75v0.75h-0.75zM45.9 337.9h0.75v0.75h-0.75zM64.4 349.6h0.75v0.75h-0.75zM49.7 335.7h0.75v0.75h-0.75zM60.6 348.3h0.75v0.75h-0.75zM62.4 335.7h0.75v0.75h-0.75zM71.6 328.6h0.75v0.75h-0.75zM55.1 346.1h0.75v0.75h-0.75zM48.7 342.9h0.75v0.75h-0.75zM55.1 344.1h0.75v0.75h-0.75zM60.8 345.4h0.75v0.75h-0.75zM62.7 344.0h0.75v0.75h-0.75zM52.1 333.3h0.75v0.75h-0.75zM53.7 330.0h0.75v0.75h-0.75zM45.8 336.8h0.75v0.75h-0.75zM56.8 351.0h0.75v0.75h-0.75zM44.6 340.9h0.75v0.75h-0.75zM56.3 341.4h0.75v0.75h-0.75zM59.6 335.9h0.75v0.75h-0.75zM59.3 348.7h0.75v0.75h-0.75zM55.1 351.7h0.75v0.75h-0.75zM54.3 340.1h0.75v0.75h-0.75zM63.8 327.2h0.75v0.75h-0.75zM53.7 345.0h0.75v0.75h-0.75zM50.3 342.5h0.75v0.75h-0.75zM57.9 349.6h0.75v0.75h-0.75zM54.4 353.8h0.75v0.75h-0.75zM54.7 354.9h0.75v0.75h-0.75zM50.0 339.5h0.75v0.75h-0.75zM45.7 323.3h0.75v0.75h-0.75zM54.1 341.9h0.75v0.75h-0.75zM49.7 334.7h0.75v0.75h-0.75zM45.3 347.0h0.75v0.75h-0.75zM61.4 345.8h0.75v0.75h-0.75zM61.4 354.9h0.75v0.75h-0.75zM59.8 349.5h0.75v0.75h-0.75zM50.3 341.2h0.75v0.75h-0.75zM58.2 348.9h0.75v0.75h-0.75zM48.9 345.3h0.75v0.75h-0.75zM56.1 345.9h0.75v0.75h-0.75zM53.5 337.5h0.75v0.75h-0.75zM52.1 337.6h0.75v0.75h-0.75zM56.9 327.9h0.75v0.75h-0.75zM57.1 335.9h0.75v0.75h-0.75zM59.1 340.5h0.75v0.75h-0.75zM53.2 344.2h0.75v0.75h-0.75zM50.3 335.9h0.75v0.75h-0.75zM53.6 352.3h0.75v0.75h-0.75zM54.6 348.3h0.75v0.75h-0.75zM52.9 345.8h0.75v0.75h-0.75zM57.4 326.1h0.75v0.75h-0.75zM51.1 332.4h0.75v0.75h-0.75zM59.7 336.7h0.75v0.75h-0.75zM50.6 341.4h0.75v0.75h-0.75zM49.0 347.0h0.75v0.75h-0.75zM47.7 336.3h0.75v0.75h-0.75zM53.4 338.8h0.75v0.75h-0.75zM52.7 339.5h0.75v0.75h-0.75zM63.4 338.7h0.75v0.75h-0.75zM60.0 341.1h0.75v0.75h-0.75zM48.1 334.4h0.75v0.75h-0.75zM52.0 330.8h0.75v0.75h-0.75zM57.3 339.3h0.75v0.75h-0.75zM48.5 349.4h0.75v0.75h-0.75zM46.5 339.8h0.75v0.75h-0.75zM46.6 344.0h0.75v0.75h-0.75zM53.4 321.3h0.75v0.75h-0.75zM57.0 339.1h0.75v0.75h-0.75zM53.9 328.4h0.75v0.75h-0.75zM46.3 334.6h0.75v0.75h-0.75zM59.9 336.4h0.75v0.75h-0.75zM55.1 340.4h0.75v0.75h-0.75zM49.6 345.7h0.75v0.75h-0.75zM50.6 332.2h0.75v0.75h-0.75zM49.3 349.4h0.75v0.75h-0.75zM46.0 342.8h0.75v0.75h-0.75zM56.9 342.8h0.75v0.75h-0.75zM52.9 331.4h0.75v0.75h-0.75zM50.9 349.2h0.75v0.75h-0.75zM59.8 345.4h0.75v0.75h-0.75zM64.2 333.2h0.75v0.75h-0.75zM50.1 344.5h0.75v0.75h-0.75zM55.8 331.9h0.75v0.75h-0.75zM44.6 334.1h0.75v0.75h-0.75zM57.9 340.8h0.75v0.75h-0.75zM46.1 323.8h0.75v0.75h-0.75zM64.1 346.1h0.75v0.75h-0.75zM57.9 343.8h0.75v0.75h-0.75zM44.4 354.9h0.75v0.75h-0.75zM58.8 334.6h0.75v0.75h-0.75zM58.7 343.4h0.75v0.75h-0.75zM49.9 342.8h0.75v0.75h-0.75zM50.0 348.8h0.75v0.75h-0.75zM55.1 346.2h0.75v0.75h-0.75zM44.9 351.6h0.75v0.75h-0.75zM55.6 335.7h0.75v0.75h-0.75zM54.5 328.2h0.75v0.75h-0.75zM55.7 345.6h0.75v0.75h-0.75zM54.8 338.6h0.75v0.75h-0.75zM45.5 333.5h0.75v0.75h-0.75zM56.2 327.4h0.75v0.75h-0.75zM53.6 337.6h0.75v0.75h-0.75zM49.5 323.1h0.75v0.75h-0.75zM58.8 347.0h0.75v0.75h-0.75zM57.8 340.5h0.75v0.75h-0.75zM48.7 348.2h0.75v0.75h-0.75zM46.8 348.8h0.75v0.75h-0.75zM46.6 341.8h0.75v0.75h-0.75zM48.9 347.5h0.75v0.75h-0.75zM61.5 334.9h0.75v0.75h-0.75zM56.1 322.7h0.75v0.75h-0.75zM57.9 341.2h0.75v0.75h-0.75zM63.5 342.1h0.75v0.75h-0.75zM48.3 334.4h0.75v0.75h-0.75zM62.4 332.9h0.75v0.75h-0.75zM48.1 344.8h0.75v0.75h-0.75zM48.9 356.0h0.75v0.75h-0.75zM54.3 344.7h0.75v0.75h-0.75zM52.6 335.8h0.75v0.75h-0.75zM44.4 337.5h0.75v0.75h-0.75zM47.2 330.7h0.75v0.75h-0.75zM44.3 349.3h0.75v0.75h-0.75zM64.3 335.1h0.75v0.75h-0.75zM61.1 342.2h0.75v0.75h-0.75zM53.6 322.3h0.75v0.75h-0.75zM45.1 351.2h0.75v0.75h-0.75zM51.9 345.7h0.75v0.75h-0.75zM55.9 344.6h0.75v0.75h-0.75zM48.9 344.7h0.75v0.75h-0.75zM54.1 328.6h0.75v0.75h-0.75zM48.7 345.8h0.75v0.75h-0.75zM57.5 330.2h0.75v0.75h-0.75zM45.6 341.6h0.75v0.75h-0.75zM60.5 334.1h0.75v0.75h-0.75zM54.5 343.2h0.75v0.75h-0.75zM44.0 346.2h0.75v0.75h-0.75zM58.3 351.3h0.75v0.75h-0.75zM46.4 346.6h0.75v0.75h-0.75zM54.2 353.7h0.75v0.75h-0.75zM56.1 332.2h0.75v0.75h-0.75zM45.0 334.9h0.75v0.75h-0.75zM49.3 328.5h0.75v0.75h-0.75zM70.2 343.5h0.75v0.75h-0.75z" fill="#000" opacity="0.3"/>
<path d="M65.5 353.0h0.75v0.75h-0.75zM65.8 348.3h0.75v0.75h-0.75zM60.8 355.8h0.75v0.75h-0.75zM80.7 354.1h0.75v0.75h-0.75zM61.3 348.5h0.75v0.75h-0.75zM50.3 354.0h0.75v0.75h-0.75zM67.3 353.1h0.75v0.75h-0.75zM74.0 354.3h0.75v0.75h-0.75zM68.9 355.0h0.75v0.75h-0.75zM77.7 355.2h0.75v0.75h-0.75zM82.1 348.8h0.75v0.75h-0.75zM62.3 355.6h0.75v0.75h-0.75zM57.3 352.4h0.75v0.75h-0.75zM66.9 350.0h0.75v0.75h-0.75zM74.9 353.3h0.75v0.75h-0.75zM80.1 353.3h0.75v0.75h-0.75zM78.2 352.3h0.75v0.75h-0.75zM64.3 349.6h0.75v0.75h-0.75zM72.8 352.7h0.75v0.75h-0.75zM61.5 351.9h0.75v0.75h-0.75zM62.6 353.5h0.75v0.75h-0.75zM69.4 350.5h0.75v0.75h-0.75zM73.1 353.2h0.75v0.75h-0.75zM78.7 351.2h0.75v0.75h-0.75zM69.3 354.4h0.75v0.75h-0.75zM60.9 348.3h0.75v0.75h-0.75zM87.1 352.9h0.75v0.75h-0.75zM68.0 351.8h0.75v0.75h-0.75zM70.0 350.1h0.75v0.75h-0.75zM66.3 352.9h0.75v0.75h-0.75zM77.6 353.3h0.75v0.75h-0.75zM64.1 351.2h0.75v0.75h-0.75zM70.9 352.8h0.75v0.75h-0.75zM81.1 348.4h0.75v0.75h-0.75zM80.8 355.8h0.75v0.75h-0.75zM61.6 351.0h0.75v0.75h-0.75zM58.7 354.4h0.75v0.75h-0.75zM80.1 350.9h0.75v0.75h-0.75zM59.3 353.5h0.75v0.75h-0.75zM72.5 356.1h0.75v0.75h-0.75zM75.3 349.9h0.75v0.75h-0.75zM60.9 351.2h0.75v0.75h-0.75zM83.5 352.5h0.75v0.75h-0.75zM56.3 352.5h0.75v0.75h-0.75zM70.1 351.0h0.75v0.75h-0.75zM63.5 351.3h0.75v0.75h-0.75zM68.6 350.6h0.75v0.75h-0.75zM79.9 352.0h0.75v0.75h-0.75zM57.8 352.4h0.75v0.75h-0.75zM62.5 351.9h0.75v0.75h-0.75zM76.7 353.5h0.75v0.75h-0.75zM65.5 356.0h0.75v0.75h-0.75zM69.3 354.8h0.75v0.75h-0.75zM75.7 352.6h0.75v0.75h-0.75zM68.0 351.5h0.75v0.75h-0.75zM78.5 355.2h0.75v0.75h-0.75zM54.8 355.0h0.75v0.75h-0.75zM77.3 353.4h0.75v0.75h-0.75zM63.4 351.9h0.75v0.75h-0.75zM66.9 351.2h0.75v0.75h-0.75zM71.6 354.0h0.75v0.75h-0.75zM75.8 353.8h0.75v0.75h-0.75zM69.0 351.3h0.75v0.75h-0.75zM66.5 355.5h0.75v0.75h-0.75zM70.0 351.8h0.75v0.75h-0.75zM58.6 347.9h0.75v0.75h-0.75zM76.1 353.2h0.75v0.75h-0.75zM74.9 353.4h0.75v0.75h-0.75zM74.3 355.2h0.75v0.75h-0.75zM65.5 353.8h0.75v0.75h-0.75zM59.6 352.0h0.75v0.75h-0.75zM67.2 348.4h0.75v0.75h-0.75zM68.1 355.8h0.75v0.75h-0.75zM64.1 345.8h0.75v0.75h-0.75zM57.6 351.8h0.75v0.75h-0.75zM63.7 355.6h0.75v0.75h-0.75zM64.2 356.0h0.75v0.75h-0.75zM66.4 355.4h0.75v0.75h-0.75zM71.4 353.2h0.75v0.75h-0.75zM72.9 351.1h0.75v0.75h-0.75zM73.8 352.5h0.75v0.75h-0.75zM56.7 354.4h0.75v0.75h-0.75zM69.3 350.3h0.75v0.75h-0.75zM68.3 353.4h0.75v0.75h-0.75zM74.8 350.2h0.75v0.75h-0.75zM72.5 345.2h0.75v0.75h-0.75zM75.4 350.3h0.75v0.75h-0.75zM76.0 355.4h0.75v0.75h-0.75zM64.3 353.1h0.75v0.75h-0.75zM75.3 353.3h0.75v0.75h-0.75zM56.6 357.1h0.75v0.75h-0.75zM86.0 352.7h0.75v0.75h-0.75zM62.4 354.8h0.75v0.75h-0.75zM65.9 352.6h0.75v0.75h-0.75zM66.7 352.1h0.75v0.75h-0.75zM56.7 350.6h0.75v0.75h-0.75zM78.7 354.5h0.75v0.75h-0.75zM60.6 352.9h0.75v0.75h-0.75zM69.4 350.6h0.75v0.75h-0.75zM70.9 355.7h0.75v0.75h-0.75zM58.2 356.9h0.75v0.75h-0.75zM70.2 355.7h0.75v0.75h-0.75zM69.7 349.9h0.75v0.75h-0.75zM65.6 354.3h0.75v0.75h-0.75zM62.1 355.8h0.75v0.75h-0.75zM73.1 343.4h0.75v0.75h-0.75zM58.8 352.3h0.75v0.75h-0.75zM68.5 349.9h0.75v0.75h-0.75zM70.8 351.3h0.75v0.75h-0.75zM69.8 352.2h0.75v0.75h-0.75zM70.9 355.5h0.75v0.75h-0.75zM75.6 351.2h0.75v0.75h-0.75zM64.6 354.7h0.75v0.75h-0.75zM58.0 353.7h0.75v0.75h-0.75zM54.2 349.6h0.75v0.75h-0.75zM77.1 356.1h0.75v0.75h-0.75zM78.6 352.1h0.75v0.75h-0.75zM64.4 348.1h0.75v0.75h-0.75zM73.3 351.4h0.75v0.75h-0.75zM53.3 354.6h0.75v0.75h-0.75zM72.7 355.6h0.75v0.75h-0.75zM75.9 352.4h0.75v0.75h-0.75zM60.3 354.2h0.75v0.75h-0.75zM54.4 353.6h0.75v0.75h-0.75zM74.9 355.0h0.75v0.75h-0.75zM49.8 356.2h0.75v0.75h-0.75zM72.1 351.1h0.75v0.75h-0.75zM80.3 353.3h0.75v0.75h-0.75zM74.6 353.2h0.75v0.75h-0.75zM60.7 349.7h0.75v0.75h-0.75zM64.3 351.5h0.75v0.75h-0.75zM55.2 356.2h0.75v0.75h-0.75zM66.3 356.4h0.75v0.75h-0.75zM53.3 351.0h0.75v0.75h-0.75zM72.7 348.3h0.75v0.75h-0.75zM61.2 356.9h0.75v0.75h-0.75zM70.5 352.3h0.75v0.75h-0.75zM66.6 349.9h0.75v0.75h-0.75zM59.4 355.7h0.75v0.75h-0.75zM74.2 347.3h0.75v0.75h-0.75zM73.4 346.8h0.75v0.75h-0.75zM74.2 350.5h0.75v0.75h-0.75zM61.7 347.2h0.75v0.75h-0.75zM65.4 352.4h0.75v0.75h-0.75zM58.2 355.5h0.75v0.75h-0.75zM71.8 353.2h0.75v0.75h-0.75zM74.7 349.5h0.75v0.75h-0.75zM81.8 353.6h0.75v0.75h-0.75zM62.0 351.2h0.75v0.75h-0.75zM65.8 352.0h0.75v0.75h-0.75zM75.8 356.3h0.75v0.75h-0.75zM63.4 349.5h0.75v0.75h-0.75zM63.1 353.7h0.75v0.75h-0.75zM65.9 355.8h0.75v0.75h-0.75zM67.4 353.0h0.75v0.75h-0.75zM65.7 354.7h0.75v0.75h-0.75zM82.6 356.9h0.75v0.75h-0.75zM71.0 355.1h0.75v0.75h-0.75zM75.7 350.1h0.75v0.75h-0.75zM60.7 350.2h0.75v0.75h-0.75zM79.6 353.8h0.75v0.75h-0.75zM83.8 351.4h0.75v0.75h-0.75zM71.6 352.2h0.75v0.75h-0.75zM62.3 344.5h0.75v0.75h-0.75zM68.2 355.3h0.75v0.75h-0.75zM73.9 352.7h0.75v0.75h-0.75zM74.9 356.5h0.75v0.75h-0.75zM63.0 356.5h0.75v0.75h-0.75zM67.9 355.0h0.75v0.75h-0.75zM60.7 351.4h0.75v0.75h-0.75zM63.0 349.9h0.75v0.75h-0.75zM68.3 354.9h0.75v0.75h-0.75zM70.8 353.5h0.75v0.75h-0.75zM66.3 350.6h0.75v0.75h-0.75zM70.0 353.0h0.75v0.75h-0.75zM74.9 349.9h0.75v0.75h-0.75zM70.1 352.4h0.75v0.75h-0.75zM72.9 356.8h0.75v0.75h-0.75zM69.0 350.8h0.75v0.75h-0.75zM60.8 353.3h0.75v0.75h-0.75zM56.7 356.6h0.75v0.75h-0.75zM58.0 351.2h0.75v0.75h-0.75zM82.8 349.6h0.75v0.75h-0.75zM67.0 352.3h0.75v0.75h-0.75zM66.0 353.1h0.75v0.75h-0.75zM63.1 349.9h0.75v0.75h-0.75zM66.5 349.5h0.75v0.75h-0.75zM66.4 355.7h0.75v0.75h-0.75zM73.6 355.2h0.75v0.75h-0.75z" fill="#000" opacity="0.3"/>
<path d="M50.9 328.9h0.7v0.7h-0.7zM58.4 330.8h0.7v0.7h-0.7zM48.5 323.8h0.7v0.7h-0.7zM51.3 329.4h0.7v0.7h-0.7zM49.7 328.6h0.7v0.7h-0.7zM55.3 327.4h0.7v0.7h-0.7zM55.1 323.6h0.7v0.7h-0.7zM51.5 334.2h0.7v0.7h-0.7zM55.9 330.3h0.7v0.7h-0.7zM52.7 327.9h0.7v0.7h-0.7zM44.9 325.9h0.7v0.7h-0.7zM59.7 327.4h0.7v0.7h-0.7zM54.6 325.9h0.7v0.7h-0.7zM51.0 331.4h0.7v0.7h-0.7zM54.5 329.7h0.7v0.7h-0.7zM55.6 330.0h0.7v0.7h-0.7zM51.1 332.4h0.7v0.7h-0.7zM45.5 329.9h0.7v0.7h-0.7zM50.0 332.4h0.7v0.7h-0.7zM54.4 324.9h0.7v0.7h-0.7zM51.2 318.6h0.7v0.7h-0.7zM55.6 327.0h0.7v0.7h-0.7zM57.9 321.3h0.7v0.7h-0.7zM53.2 331.2h0.7v0.7h-0.7zM52.2 323.2h0.7v0.7h-0.7zM56.1 339.9h0.7v0.7h-0.7zM46.6 329.0h0.7v0.7h-0.7zM57.8 334.5h0.7v0.7h-0.7zM50.4 330.0h0.7v0.7h-0.7zM47.8 331.6h0.7v0.7h-0.7zM58.2 324.6h0.7v0.7h-0.7zM58.9 325.6h0.7v0.7h-0.7zM51.3 330.8h0.7v0.7h-0.7zM56.6 326.7h0.7v0.7h-0.7zM58.8 327.4h0.7v0.7h-0.7zM54.3 323.9h0.7v0.7h-0.7zM54.4 333.4h0.7v0.7h-0.7zM52.0 327.3h0.7v0.7h-0.7zM48.0 334.1h0.7v0.7h-0.7zM53.1 329.6h0.7v0.7h-0.7zM53.7 333.2h0.7v0.7h-0.7zM52.0 333.8h0.7v0.7h-0.7zM52.5 333.2h0.7v0.7h-0.7zM59.6 325.3h0.7v0.7h-0.7zM53.2 324.7h0.7v0.7h-0.7zM46.2 326.6h0.7v0.7h-0.7zM54.0 332.6h0.7v0.7h-0.7zM55.9 332.3h0.7v0.7h-0.7zM50.8 334.6h0.7v0.7h-0.7zM49.2 333.4h0.7v0.7h-0.7zM48.3 326.5h0.7v0.7h-0.7zM49.2 330.8h0.7v0.7h-0.7zM57.1 333.1h0.7v0.7h-0.7zM51.6 331.9h0.7v0.7h-0.7zM56.3 326.5h0.7v0.7h-0.7zM57.3 332.5h0.7v0.7h-0.7zM49.8 331.3h0.7v0.7h-0.7zM49.3 326.1h0.7v0.7h-0.7zM55.7 327.0h0.7v0.7h-0.7z" fill="#000" opacity="0.3"/>
</g>
<line x1="43.1" y1="308.5" x2="43.1" y2="358.2" stroke="#222" stroke-width="1.3" stroke-dasharray="1.2,0.8"/>
<line x1="43.1" y1="358.2" x2="91.5" y2="358.2" stroke="#222" stroke-width="1.3" stroke-dasharray="1.2,0.8"/>
<line x1="91.5" y1="309.5" x2="91.5" y2="345.9" stroke="#bbb" stroke-width="1.3"/>
<line x1="62.5" y1="308.5" x2="62.5" y2="358.2" stroke="#222" stroke-width="1.1"/>
<line x1="43.1" y1="345.9" x2="91.5" y2="345.9" stroke="#222" stroke-width="1.1"/>
<text x="54.4" y="304.0" font-size="11.2" textLength="24.2" lengthAdjust="spacingAndGlyphs" fill="#111">GFP</text>
<line x1="79.0" y1="299.2" x2="80.6" y2="299.2" stroke="#222" stroke-width="0.9"/>
<text x="44.2" y="321.6" font-size="9.2" font-weight="bold" fill="#111" style="stroke-width:0.15px">43%</text>
<text x="73.8" y="354.6" font-size="9.2" font-weight="bold" fill="#111" style="stroke-width:0.15px">15%</text>
<g filter="url(#soft)">
<ellipse cx="120" cy="348" rx="3.4" ry="4.6" fill="#000" opacity="0.85" filter="url(#bl)"/>
<ellipse cx="118.5" cy="340" rx="3.5" ry="5" fill="#000" opacity="0.3" filter="url(#bl)"/>
<ellipse cx="115" cy="351" rx="5" ry="5" fill="#000" opacity="0.3" filter="url(#bl)"/>
<path d="M121.7 347.4h0.8v0.8h-0.8zM131.5 352.7h0.8v0.8h-0.8zM120.7 349.6h0.8v0.8h-0.8zM118.3 344.0h0.8v0.8h-0.8zM121.8 346.1h0.8v0.8h-0.8zM122.7 347.3h0.8v0.8h-0.8zM114.0 340.3h0.8v0.8h-0.8zM117.1 338.2h0.8v0.8h-0.8zM119.7 346.2h0.8v0.8h-0.8zM123.1 344.6h0.8v0.8h-0.8zM119.2 349.8h0.8v0.8h-0.8zM122.5 343.7h0.8v0.8h-0.8zM125.1 346.1h0.8v0.8h-0.8zM124.0 347.3h0.8v0.8h-0.8zM118.6 341.8h0.8v0.8h-0.8zM117.9 353.6h0.8v0.8h-0.8zM124.5 347.0h0.8v0.8h-0.8zM123.7 354.5h0.8v0.8h-0.8zM119.0 344.9h0.8v0.8h-0.8zM123.8 350.0h0.8v0.8h-0.8zM127.1 351.3h0.8v0.8h-0.8zM116.1 346.3h0.8v0.8h-0.8zM116.0 349.7h0.8v0.8h-0.8zM122.4 346.4h0.8v0.8h-0.8zM117.0 350.6h0.8v0.8h-0.8zM118.7 352.5h0.8v0.8h-0.8zM116.7 345.5h0.8v0.8h-0.8zM118.2 342.6h0.8v0.8h-0.8zM117.9 350.4h0.8v0.8h-0.8zM114.0 351.4h0.8v0.8h-0.8zM123.7 347.0h0.8v0.8h-0.8zM118.8 348.3h0.8v0.8h-0.8zM121.6 346.4h0.8v0.8h-0.8zM117.2 345.7h0.8v0.8h-0.8zM118.6 350.5h0.8v0.8h-0.8zM120.3 348.6h0.8v0.8h-0.8zM114.4 344.4h0.8v0.8h-0.8zM118.7 345.0h0.8v0.8h-0.8zM119.6 346.1h0.8v0.8h-0.8zM114.9 350.3h0.8v0.8h-0.8zM123.1 346.1h0.8v0.8h-0.8zM122.1 344.1h0.8v0.8h-0.8zM115.8 345.6h0.8v0.8h-0.8zM125.3 348.5h0.8v0.8h-0.8zM114.9 347.3h0.8v0.8h-0.8zM118.1 344.0h0.8v0.8h-0.8zM121.3 340.4h0.8v0.8h-0.8zM114.1 339.7h0.8v0.8h-0.8zM123.7 349.0h0.8v0.8h-0.8zM118.1 344.2h0.8v0.8h-0.8zM122.3 353.7h0.8v0.8h-0.8zM117.7 348.2h0.8v0.8h-0.8zM128.1 352.4h0.8v0.8h-0.8zM119.0 348.9h0.8v0.8h-0.8zM120.5 350.7h0.8v0.8h-0.8zM121.3 345.9h0.8v0.8h-0.8zM119.8 349.3h0.8v0.8h-0.8zM117.9 347.5h0.8v0.8h-0.8zM117.1 352.3h0.8v0.8h-0.8zM125.4 345.4h0.8v0.8h-0.8zM123.0 349.2h0.8v0.8h-0.8zM120.5 346.8h0.8v0.8h-0.8zM121.1 352.4h0.8v0.8h-0.8zM116.1 351.1h0.8v0.8h-0.8zM119.3 342.8h0.8v0.8h-0.8zM120.0 350.5h0.8v0.8h-0.8zM119.9 349.0h0.8v0.8h-0.8zM119.1 345.2h0.8v0.8h-0.8zM123.5 344.6h0.8v0.8h-0.8zM123.5 350.1h0.8v0.8h-0.8zM119.3 346.6h0.8v0.8h-0.8zM119.2 347.4h0.8v0.8h-0.8zM120.0 347.1h0.8v0.8h-0.8zM113.7 337.0h0.8v0.8h-0.8zM121.3 345.4h0.8v0.8h-0.8zM118.3 346.6h0.8v0.8h-0.8zM116.5 353.5h0.8v0.8h-0.8zM120.2 347.0h0.8v0.8h-0.8zM116.7 350.7h0.8v0.8h-0.8zM122.6 354.8h0.8v0.8h-0.8zM123.2 345.1h0.8v0.8h-0.8zM116.0 352.5h0.8v0.8h-0.8zM117.9 346.7h0.8v0.8h-0.8zM119.7 349.8h0.8v0.8h-0.8zM122.0 343.9h0.8v0.8h-0.8zM118.1 339.8h0.8v0.8h-0.8zM122.1 347.6h0.8v0.8h-0.8zM114.6 350.8h0.8v0.8h-0.8zM120.2 343.5h0.8v0.8h-0.8zM118.8 344.9h0.8v0.8h-0.8zM120.5 348.8h0.8v0.8h-0.8zM118.3 349.1h0.8v0.8h-0.8zM111.6 344.1h0.8v0.8h-0.8zM122.3 352.4h0.8v0.8h-0.8zM122.9 344.1h0.8v0.8h-0.8zM114.6 344.9h0.8v0.8h-0.8zM127.7 350.9h0.8v0.8h-0.8zM117.7 340.0h0.8v0.8h-0.8zM120.7 346.0h0.8v0.8h-0.8zM121.8 349.0h0.8v0.8h-0.8zM112.4 345.2h0.8v0.8h-0.8zM122.8 345.9h0.8v0.8h-0.8zM116.2 341.8h0.8v0.8h-0.8zM115.8 355.9h0.8v0.8h-0.8zM124.8 346.4h0.8v0.8h-0.8zM124.7 344.4h0.8v0.8h-0.8zM118.4 344.1h0.8v0.8h-0.8zM119.5 350.4h0.8v0.8h-0.8zM126.8 352.6h0.8v0.8h-0.8zM119.8 348.3h0.8v0.8h-0.8zM119.4 349.1h0.8v0.8h-0.8zM117.3 348.0h0.8v0.8h-0.8zM121.6 352.1h0.8v0.8h-0.8zM117.4 348.8h0.8v0.8h-0.8zM121.1 344.5h0.8v0.8h-0.8zM113.7 343.7h0.8v0.8h-0.8zM123.0 347.3h0.8v0.8h-0.8zM127.6 352.0h0.8v0.8h-0.8zM117.8 346.7h0.8v0.8h-0.8zM121.6 350.1h0.8v0.8h-0.8zM119.4 349.4h0.8v0.8h-0.8zM129.8 354.1h0.8v0.8h-0.8zM120.7 345.9h0.8v0.8h-0.8zM114.3 346.9h0.8v0.8h-0.8zM118.8 347.1h0.8v0.8h-0.8zM118.3 350.5h0.8v0.8h-0.8zM123.6 345.7h0.8v0.8h-0.8zM115.6 347.8h0.8v0.8h-0.8zM124.6 350.6h0.8v0.8h-0.8zM121.7 342.2h0.8v0.8h-0.8zM118.3 349.6h0.8v0.8h-0.8zM121.3 348.0h0.8v0.8h-0.8zM122.0 351.8h0.8v0.8h-0.8zM120.4 344.8h0.8v0.8h-0.8zM115.5 347.3h0.8v0.8h-0.8zM119.6 346.8h0.8v0.8h-0.8zM123.7 345.9h0.8v0.8h-0.8zM119.2 350.2h0.8v0.8h-0.8zM117.2 337.9h0.8v0.8h-0.8zM118.3 350.6h0.8v0.8h-0.8zM118.1 346.1h0.8v0.8h-0.8zM114.1 351.1h0.8v0.8h-0.8zM114.4 343.4h0.8v0.8h-0.8zM119.5 355.6h0.8v0.8h-0.8zM120.5 344.7h0.8v0.8h-0.8zM115.2 345.1h0.8v0.8h-0.8zM116.1 344.0h0.8v0.8h-0.8zM120.3 352.8h0.8v0.8h-0.8zM116.5 352.4h0.8v0.8h-0.8zM113.8 354.1h0.8v0.8h-0.8zM118.0 345.5h0.8v0.8h-0.8zM118.6 348.2h0.8v0.8h-0.8zM119.9 346.2h0.8v0.8h-0.8zM117.8 344.8h0.8v0.8h-0.8zM120.3 345.5h0.8v0.8h-0.8zM117.9 341.0h0.8v0.8h-0.8zM120.2 349.7h0.8v0.8h-0.8zM116.8 350.9h0.8v0.8h-0.8zM120.0 348.0h0.8v0.8h-0.8zM114.6 348.8h0.8v0.8h-0.8zM118.1 346.9h0.8v0.8h-0.8zM122.5 350.5h0.8v0.8h-0.8zM118.0 347.4h0.8v0.8h-0.8zM123.3 350.8h0.8v0.8h-0.8zM119.9 351.9h0.8v0.8h-0.8zM115.3 348.2h0.8v0.8h-0.8zM118.0 345.6h0.8v0.8h-0.8zM122.7 355.6h0.8v0.8h-0.8zM121.6 348.6h0.8v0.8h-0.8zM125.4 352.2h0.8v0.8h-0.8zM113.0 343.3h0.8v0.8h-0.8zM118.0 344.3h0.8v0.8h-0.8zM115.3 349.1h0.8v0.8h-0.8zM120.7 355.0h0.8v0.8h-0.8zM119.2 348.0h0.8v0.8h-0.8zM117.7 351.3h0.8v0.8h-0.8zM124.2 355.7h0.8v0.8h-0.8zM123.4 346.2h0.8v0.8h-0.8zM124.0 345.0h0.8v0.8h-0.8zM118.2 346.4h0.8v0.8h-0.8zM126.9 346.6h0.8v0.8h-0.8zM117.0 347.9h0.8v0.8h-0.8zM124.0 351.1h0.8v0.8h-0.8zM121.9 344.8h0.8v0.8h-0.8zM118.9 352.7h0.8v0.8h-0.8zM120.5 345.2h0.8v0.8h-0.8zM119.1 353.0h0.8v0.8h-0.8zM125.7 350.9h0.8v0.8h-0.8zM117.6 354.0h0.8v0.8h-0.8zM118.2 347.7h0.8v0.8h-0.8zM121.6 348.2h0.8v0.8h-0.8zM119.7 354.3h0.8v0.8h-0.8zM121.2 342.2h0.8v0.8h-0.8zM118.3 352.8h0.8v0.8h-0.8zM119.7 343.5h0.8v0.8h-0.8zM123.1 350.6h0.8v0.8h-0.8zM120.4 350.2h0.8v0.8h-0.8zM119.0 348.3h0.8v0.8h-0.8zM122.1 346.0h0.8v0.8h-0.8zM124.2 344.6h0.8v0.8h-0.8zM126.8 349.9h0.8v0.8h-0.8zM121.4 343.2h0.8v0.8h-0.8zM122.7 345.1h0.8v0.8h-0.8zM121.8 348.3h0.8v0.8h-0.8zM117.7 354.4h0.8v0.8h-0.8zM120.8 345.9h0.8v0.8h-0.8zM119.1 348.9h0.8v0.8h-0.8zM120.4 351.4h0.8v0.8h-0.8zM118.4 348.3h0.8v0.8h-0.8zM118.7 344.6h0.8v0.8h-0.8zM122.8 345.2h0.8v0.8h-0.8zM115.1 349.2h0.8v0.8h-0.8zM118.6 349.8h0.8v0.8h-0.8zM121.9 350.4h0.8v0.8h-0.8zM120.5 354.3h0.8v0.8h-0.8zM116.9 351.8h0.8v0.8h-0.8zM119.8 349.0h0.8v0.8h-0.8zM118.9 351.1h0.8v0.8h-0.8zM121.8 346.5h0.8v0.8h-0.8zM120.4 349.9h0.8v0.8h-0.8zM122.1 346.8h0.8v0.8h-0.8zM123.5 349.9h0.8v0.8h-0.8zM118.7 346.1h0.8v0.8h-0.8zM115.2 349.7h0.8v0.8h-0.8zM125.1 348.9h0.8v0.8h-0.8zM117.8 340.3h0.8v0.8h-0.8zM116.4 346.9h0.8v0.8h-0.8zM118.3 346.8h0.8v0.8h-0.8zM117.6 346.6h0.8v0.8h-0.8zM119.6 348.5h0.8v0.8h-0.8zM120.6 348.8h0.8v0.8h-0.8zM117.7 346.1h0.8v0.8h-0.8zM116.4 344.9h0.8v0.8h-0.8zM120.2 349.7h0.8v0.8h-0.8zM116.0 343.0h0.8v0.8h-0.8zM118.6 342.6h0.8v0.8h-0.8zM119.4 346.9h0.8v0.8h-0.8zM118.0 353.9h0.8v0.8h-0.8zM118.9 348.6h0.8v0.8h-0.8zM114.7 349.8h0.8v0.8h-0.8zM121.3 349.0h0.8v0.8h-0.8zM113.5 345.9h0.8v0.8h-0.8zM118.1 349.0h0.8v0.8h-0.8zM120.2 345.7h0.8v0.8h-0.8zM118.8 352.5h0.8v0.8h-0.8zM123.7 341.8h0.8v0.8h-0.8zM118.8 350.1h0.8v0.8h-0.8zM118.9 348.8h0.8v0.8h-0.8zM119.2 354.2h0.8v0.8h-0.8zM122.5 347.7h0.8v0.8h-0.8zM124.7 351.7h0.8v0.8h-0.8zM125.6 347.4h0.8v0.8h-0.8zM115.5 349.9h0.8v0.8h-0.8zM120.3 340.8h0.8v0.8h-0.8zM108.1 345.1h0.8v0.8h-0.8zM120.5 344.7h0.8v0.8h-0.8zM118.7 347.9h0.8v0.8h-0.8zM115.8 351.8h0.8v0.8h-0.8zM116.1 346.9h0.8v0.8h-0.8zM120.2 345.8h0.8v0.8h-0.8zM117.8 350.7h0.8v0.8h-0.8zM115.1 346.5h0.8v0.8h-0.8zM125.3 346.0h0.8v0.8h-0.8zM115.3 344.5h0.8v0.8h-0.8zM110.9 342.2h0.8v0.8h-0.8zM116.5 343.4h0.8v0.8h-0.8zM117.4 349.4h0.8v0.8h-0.8zM120.3 343.6h0.8v0.8h-0.8zM124.2 344.8h0.8v0.8h-0.8zM124.8 347.0h0.8v0.8h-0.8zM117.2 345.1h0.8v0.8h-0.8zM124.7 349.4h0.8v0.8h-0.8zM120.0 340.9h0.8v0.8h-0.8zM120.0 346.4h0.8v0.8h-0.8zM119.0 344.2h0.8v0.8h-0.8zM115.1 351.5h0.8v0.8h-0.8zM117.0 349.3h0.8v0.8h-0.8zM121.9 348.8h0.8v0.8h-0.8zM120.6 350.4h0.8v0.8h-0.8zM119.0 347.1h0.8v0.8h-0.8zM121.2 348.7h0.8v0.8h-0.8zM119.1 336.4h0.8v0.8h-0.8zM120.0 342.6h0.8v0.8h-0.8zM123.8 353.8h0.8v0.8h-0.8zM120.9 348.9h0.8v0.8h-0.8zM113.6 345.2h0.8v0.8h-0.8zM117.6 354.5h0.8v0.8h-0.8zM115.9 355.7h0.8v0.8h-0.8zM119.5 339.2h0.8v0.8h-0.8zM125.9 348.3h0.8v0.8h-0.8zM121.3 352.5h0.8v0.8h-0.8zM115.1 344.4h0.8v0.8h-0.8zM120.5 353.0h0.8v0.8h-0.8zM119.6 350.0h0.8v0.8h-0.8zM114.5 348.4h0.8v0.8h-0.8zM117.2 345.5h0.8v0.8h-0.8zM120.5 351.5h0.8v0.8h-0.8zM117.9 348.9h0.8v0.8h-0.8zM119.1 350.0h0.8v0.8h-0.8zM118.7 353.1h0.8v0.8h-0.8zM116.8 342.6h0.8v0.8h-0.8zM124.2 345.8h0.8v0.8h-0.8zM122.2 351.1h0.8v0.8h-0.8zM114.8 345.1h0.8v0.8h-0.8zM118.6 346.8h0.8v0.8h-0.8zM115.4 347.2h0.8v0.8h-0.8zM120.8 343.3h0.8v0.8h-0.8zM120.2 348.6h0.8v0.8h-0.8zM114.7 346.0h0.8v0.8h-0.8zM123.0 351.5h0.8v0.8h-0.8zM116.6 343.6h0.8v0.8h-0.8zM120.2 349.3h0.8v0.8h-0.8zM122.7 348.7h0.8v0.8h-0.8zM122.7 345.6h0.8v0.8h-0.8zM125.9 348.4h0.8v0.8h-0.8zM117.0 344.5h0.8v0.8h-0.8zM114.3 343.0h0.8v0.8h-0.8zM119.1 349.3h0.8v0.8h-0.8zM123.6 345.0h0.8v0.8h-0.8zM117.7 349.8h0.8v0.8h-0.8zM123.3 351.5h0.8v0.8h-0.8zM120.8 343.0h0.8v0.8h-0.8zM118.3 340.7h0.8v0.8h-0.8zM117.8 352.0h0.8v0.8h-0.8zM125.0 347.7h0.8v0.8h-0.8zM121.9 353.5h0.8v0.8h-0.8zM116.6 341.0h0.8v0.8h-0.8zM117.9 338.3h0.8v0.8h-0.8zM122.2 347.6h0.8v0.8h-0.8zM119.0 347.4h0.8v0.8h-0.8zM121.5 347.7h0.8v0.8h-0.8zM116.0 349.0h0.8v0.8h-0.8zM118.2 348.1h0.8v0.8h-0.8zM117.7 346.9h0.8v0.8h-0.8zM114.9 346.6h0.8v0.8h-0.8zM118.9 351.5h0.8v0.8h-0.8zM117.3 343.1h0.8v0.8h-0.8zM122.1 339.8h0.8v0.8h-0.8zM121.9 347.5h0.8v0.8h-0.8zM118.4 347.3h0.8v0.8h-0.8zM119.0 343.3h0.8v0.8h-0.8zM122.2 344.2h0.8v0.8h-0.8zM120.2 346.6h0.8v0.8h-0.8zM117.5 344.1h0.8v0.8h-0.8zM120.7 346.0h0.8v0.8h-0.8zM124.1 351.9h0.8v0.8h-0.8zM118.4 351.0h0.8v0.8h-0.8zM112.3 352.3h0.8v0.8h-0.8zM115.7 340.9h0.8v0.8h-0.8zM123.4 341.5h0.8v0.8h-0.8zM117.5 348.0h0.8v0.8h-0.8zM113.2 344.9h0.8v0.8h-0.8zM122.7 345.1h0.8v0.8h-0.8zM124.5 344.8h0.8v0.8h-0.8zM124.4 350.1h0.8v0.8h-0.8zM120.3 346.4h0.8v0.8h-0.8zM116.7 350.8h0.8v0.8h-0.8zM116.1 346.2h0.8v0.8h-0.8zM122.1 349.8h0.8v0.8h-0.8zM122.0 345.2h0.8v0.8h-0.8zM115.8 347.1h0.8v0.8h-0.8zM119.3 351.5h0.8v0.8h-0.8zM113.6 345.5h0.8v0.8h-0.8zM121.1 345.6h0.8v0.8h-0.8zM114.7 346.0h0.8v0.8h-0.8zM123.1 345.3h0.8v0.8h-0.8zM116.9 342.3h0.8v0.8h-0.8zM116.6 339.1h0.8v0.8h-0.8zM129.8 348.9h0.8v0.8h-0.8zM123.6 353.1h0.8v0.8h-0.8zM118.0 349.1h0.8v0.8h-0.8zM125.7 354.3h0.8v0.8h-0.8zM123.1 345.2h0.8v0.8h-0.8zM117.8 347.0h0.8v0.8h-0.8zM124.8 345.7h0.8v0.8h-0.8zM122.1 352.7h0.8v0.8h-0.8z" fill="#000" opacity="0.55"/>
<path d="M118.6 337.5h0.75v0.75h-0.75zM120.6 338.4h0.75v0.75h-0.75zM120.1 340.6h0.75v0.75h-0.75zM117.5 339.4h0.75v0.75h-0.75zM116.4 339.7h0.75v0.75h-0.75zM114.9 336.6h0.75v0.75h-0.75zM117.9 340.4h0.75v0.75h-0.75zM114.7 339.7h0.75v0.75h-0.75zM119.6 342.9h0.75v0.75h-0.75zM120.6 333.2h0.75v0.75h-0.75zM118.9 340.4h0.75v0.75h-0.75zM122.1 342.7h0.75v0.75h-0.75zM119.7 333.9h0.75v0.75h-0.75zM114.3 334.6h0.75v0.75h-0.75zM123.6 336.3h0.75v0.75h-0.75zM117.9 342.1h0.75v0.75h-0.75zM113.3 333.2h0.75v0.75h-0.75zM115.2 334.5h0.75v0.75h-0.75zM116.0 339.5h0.75v0.75h-0.75zM118.1 332.5h0.75v0.75h-0.75zM118.9 339.0h0.75v0.75h-0.75zM122.1 333.3h0.75v0.75h-0.75zM118.7 341.1h0.75v0.75h-0.75zM118.4 332.2h0.75v0.75h-0.75zM124.0 339.3h0.75v0.75h-0.75zM118.9 332.3h0.75v0.75h-0.75zM119.1 331.4h0.75v0.75h-0.75zM121.8 340.7h0.75v0.75h-0.75zM118.8 336.8h0.75v0.75h-0.75zM122.3 342.7h0.75v0.75h-0.75zM119.4 339.1h0.75v0.75h-0.75zM121.8 333.6h0.75v0.75h-0.75zM125.3 335.4h0.75v0.75h-0.75zM118.1 339.6h0.75v0.75h-0.75zM111.6 330.3h0.75v0.75h-0.75zM119.4 335.5h0.75v0.75h-0.75zM116.3 339.3h0.75v0.75h-0.75zM123.6 342.1h0.75v0.75h-0.75zM121.8 341.7h0.75v0.75h-0.75zM118.9 336.9h0.75v0.75h-0.75zM118.0 341.7h0.75v0.75h-0.75zM121.5 340.4h0.75v0.75h-0.75zM119.7 342.8h0.75v0.75h-0.75zM119.4 338.6h0.75v0.75h-0.75zM114.7 339.8h0.75v0.75h-0.75zM115.2 339.3h0.75v0.75h-0.75zM118.7 337.6h0.75v0.75h-0.75zM116.5 341.0h0.75v0.75h-0.75zM117.7 335.7h0.75v0.75h-0.75zM114.8 341.0h0.75v0.75h-0.75zM116.8 331.4h0.75v0.75h-0.75zM122.1 338.3h0.75v0.75h-0.75zM112.9 338.2h0.75v0.75h-0.75zM123.7 342.8h0.75v0.75h-0.75zM117.9 342.3h0.75v0.75h-0.75zM120.8 336.4h0.75v0.75h-0.75zM117.4 337.9h0.75v0.75h-0.75zM118.1 340.1h0.75v0.75h-0.75zM116.9 335.2h0.75v0.75h-0.75zM115.1 337.5h0.75v0.75h-0.75zM119.9 335.2h0.75v0.75h-0.75zM120.9 337.0h0.75v0.75h-0.75zM115.1 338.3h0.75v0.75h-0.75zM118.4 334.4h0.75v0.75h-0.75zM121.7 339.2h0.75v0.75h-0.75zM118.4 334.9h0.75v0.75h-0.75zM117.2 342.5h0.75v0.75h-0.75zM119.0 337.8h0.75v0.75h-0.75zM122.5 339.8h0.75v0.75h-0.75zM122.4 336.2h0.75v0.75h-0.75zM120.0 340.6h0.75v0.75h-0.75zM118.9 342.7h0.75v0.75h-0.75zM122.7 340.1h0.75v0.75h-0.75zM118.3 332.2h0.75v0.75h-0.75zM114.1 325.3h0.75v0.75h-0.75zM123.3 338.0h0.75v0.75h-0.75zM117.9 334.8h0.75v0.75h-0.75zM119.7 337.3h0.75v0.75h-0.75zM119.5 343.0h0.75v0.75h-0.75zM116.3 337.3h0.75v0.75h-0.75zM116.9 342.6h0.75v0.75h-0.75zM118.5 339.8h0.75v0.75h-0.75zM119.8 337.8h0.75v0.75h-0.75zM118.2 338.4h0.75v0.75h-0.75zM120.5 337.2h0.75v0.75h-0.75zM119.0 341.5h0.75v0.75h-0.75zM120.8 342.2h0.75v0.75h-0.75zM114.7 340.4h0.75v0.75h-0.75zM118.1 330.8h0.75v0.75h-0.75zM116.7 337.3h0.75v0.75h-0.75zM115.4 332.8h0.75v0.75h-0.75zM118.0 338.5h0.75v0.75h-0.75zM118.4 342.3h0.75v0.75h-0.75zM122.3 332.9h0.75v0.75h-0.75zM116.3 337.0h0.75v0.75h-0.75zM119.4 335.7h0.75v0.75h-0.75zM118.8 334.2h0.75v0.75h-0.75zM118.5 339.7h0.75v0.75h-0.75zM118.9 333.4h0.75v0.75h-0.75zM116.5 339.7h0.75v0.75h-0.75zM120.1 334.3h0.75v0.75h-0.75zM117.5 340.2h0.75v0.75h-0.75zM116.0 339.6h0.75v0.75h-0.75zM117.5 341.8h0.75v0.75h-0.75zM121.4 336.3h0.75v0.75h-0.75zM114.1 336.3h0.75v0.75h-0.75zM116.5 332.5h0.75v0.75h-0.75zM118.5 335.2h0.75v0.75h-0.75zM114.7 336.9h0.75v0.75h-0.75zM120.2 342.0h0.75v0.75h-0.75zM118.1 339.0h0.75v0.75h-0.75zM118.6 338.0h0.75v0.75h-0.75zM118.9 341.7h0.75v0.75h-0.75zM115.6 329.6h0.75v0.75h-0.75zM118.0 340.5h0.75v0.75h-0.75zM116.2 330.5h0.75v0.75h-0.75zM113.8 332.7h0.75v0.75h-0.75zM116.7 340.3h0.75v0.75h-0.75zM121.1 335.3h0.75v0.75h-0.75zM118.2 330.2h0.75v0.75h-0.75zM119.3 332.5h0.75v0.75h-0.75zM121.8 335.7h0.75v0.75h-0.75zM114.7 334.5h0.75v0.75h-0.75zM115.4 341.3h0.75v0.75h-0.75zM121.1 340.0h0.75v0.75h-0.75zM121.5 341.9h0.75v0.75h-0.75zM117.4 337.3h0.75v0.75h-0.75zM113.7 335.0h0.75v0.75h-0.75zM119.4 342.4h0.75v0.75h-0.75zM116.3 335.9h0.75v0.75h-0.75zM119.7 332.6h0.75v0.75h-0.75zM117.6 339.2h0.75v0.75h-0.75zM117.9 340.3h0.75v0.75h-0.75zM119.5 336.9h0.75v0.75h-0.75zM113.3 336.5h0.75v0.75h-0.75zM116.3 337.2h0.75v0.75h-0.75zM115.5 340.5h0.75v0.75h-0.75zM118.6 339.3h0.75v0.75h-0.75zM125.6 340.9h0.75v0.75h-0.75zM118.3 340.1h0.75v0.75h-0.75zM120.2 340.7h0.75v0.75h-0.75zM120.6 338.2h0.75v0.75h-0.75zM119.9 342.6h0.75v0.75h-0.75zM117.3 326.9h0.75v0.75h-0.75zM119.1 336.1h0.75v0.75h-0.75zM120.3 338.9h0.75v0.75h-0.75zM120.7 340.9h0.75v0.75h-0.75zM119.9 329.0h0.75v0.75h-0.75zM122.1 333.4h0.75v0.75h-0.75zM118.0 333.0h0.75v0.75h-0.75zM118.8 336.1h0.75v0.75h-0.75zM116.1 336.0h0.75v0.75h-0.75zM121.2 340.8h0.75v0.75h-0.75zM120.5 335.9h0.75v0.75h-0.75zM120.3 339.1h0.75v0.75h-0.75zM126.2 335.6h0.75v0.75h-0.75zM114.2 342.1h0.75v0.75h-0.75zM118.2 339.9h0.75v0.75h-0.75zM116.9 332.1h0.75v0.75h-0.75zM118.5 334.4h0.75v0.75h-0.75zM115.8 336.3h0.75v0.75h-0.75zM120.1 341.9h0.75v0.75h-0.75zM120.1 342.7h0.75v0.75h-0.75zM120.1 342.3h0.75v0.75h-0.75zM120.6 334.9h0.75v0.75h-0.75zM122.8 339.3h0.75v0.75h-0.75zM120.2 331.4h0.75v0.75h-0.75zM115.6 329.7h0.75v0.75h-0.75zM119.8 336.5h0.75v0.75h-0.75zM116.3 333.4h0.75v0.75h-0.75zM119.9 330.2h0.75v0.75h-0.75zM115.6 341.7h0.75v0.75h-0.75zM118.3 328.5h0.75v0.75h-0.75zM119.6 342.0h0.75v0.75h-0.75zM120.6 340.6h0.75v0.75h-0.75zM122.4 342.6h0.75v0.75h-0.75zM117.8 332.4h0.75v0.75h-0.75zM115.4 335.8h0.75v0.75h-0.75zM116.7 338.0h0.75v0.75h-0.75zM121.8 336.4h0.75v0.75h-0.75z" fill="#000" opacity="0.35"/>
<path d="M120.0 346.9h0.75v0.75h-0.75zM111.1 342.5h0.75v0.75h-0.75zM117.7 346.8h0.75v0.75h-0.75zM109.9 347.9h0.75v0.75h-0.75zM108.7 355.5h0.75v0.75h-0.75zM121.2 347.0h0.75v0.75h-0.75zM123.1 345.4h0.75v0.75h-0.75zM125.0 347.8h0.75v0.75h-0.75zM127.9 335.7h0.75v0.75h-0.75zM115.5 353.1h0.75v0.75h-0.75zM114.0 340.9h0.75v0.75h-0.75zM114.7 348.4h0.75v0.75h-0.75zM117.1 350.6h0.75v0.75h-0.75zM109.0 354.8h0.75v0.75h-0.75zM117.9 352.4h0.75v0.75h-0.75zM121.8 350.5h0.75v0.75h-0.75zM108.5 342.0h0.75v0.75h-0.75zM111.1 340.1h0.75v0.75h-0.75zM112.1 335.1h0.75v0.75h-0.75zM116.1 346.8h0.75v0.75h-0.75zM122.7 343.6h0.75v0.75h-0.75zM127.0 346.5h0.75v0.75h-0.75zM114.1 347.5h0.75v0.75h-0.75zM125.2 353.9h0.75v0.75h-0.75zM118.1 347.1h0.75v0.75h-0.75zM113.2 337.9h0.75v0.75h-0.75zM114.9 344.7h0.75v0.75h-0.75zM126.4 344.0h0.75v0.75h-0.75zM124.4 347.7h0.75v0.75h-0.75zM113.8 351.5h0.75v0.75h-0.75zM127.5 349.5h0.75v0.75h-0.75zM118.5 345.8h0.75v0.75h-0.75zM116.9 346.3h0.75v0.75h-0.75zM115.4 348.4h0.75v0.75h-0.75zM117.8 350.9h0.75v0.75h-0.75zM109.6 344.2h0.75v0.75h-0.75zM126.7 344.6h0.75v0.75h-0.75zM118.2 348.2h0.75v0.75h-0.75zM120.0 334.3h0.75v0.75h-0.75zM123.0 338.5h0.75v0.75h-0.75zM121.3 335.4h0.75v0.75h-0.75zM121.8 341.1h0.75v0.75h-0.75zM123.8 352.1h0.75v0.75h-0.75zM111.2 330.7h0.75v0.75h-0.75zM115.7 332.1h0.75v0.75h-0.75zM120.9 343.7h0.75v0.75h-0.75zM123.5 342.9h0.75v0.75h-0.75zM109.6 350.1h0.75v0.75h-0.75zM109.3 347.2h0.75v0.75h-0.75zM115.1 341.7h0.75v0.75h-0.75zM126.3 344.9h0.75v0.75h-0.75zM110.1 344.7h0.75v0.75h-0.75zM108.1 333.6h0.75v0.75h-0.75zM122.4 347.8h0.75v0.75h-0.75zM115.8 346.5h0.75v0.75h-0.75zM121.3 342.7h0.75v0.75h-0.75zM117.9 349.4h0.75v0.75h-0.75zM120.4 349.3h0.75v0.75h-0.75zM124.8 352.4h0.75v0.75h-0.75zM120.5 352.7h0.75v0.75h-0.75zM112.1 340.7h0.75v0.75h-0.75zM114.2 354.4h0.75v0.75h-0.75zM111.2 343.7h0.75v0.75h-0.75zM110.6 334.5h0.75v0.75h-0.75zM124.8 345.0h0.75v0.75h-0.75zM115.9 347.2h0.75v0.75h-0.75zM126.2 346.3h0.75v0.75h-0.75zM117.5 351.4h0.75v0.75h-0.75zM119.9 353.2h0.75v0.75h-0.75zM120.2 345.6h0.75v0.75h-0.75zM119.3 338.9h0.75v0.75h-0.75zM115.2 354.7h0.75v0.75h-0.75zM124.7 350.3h0.75v0.75h-0.75zM120.7 343.5h0.75v0.75h-0.75zM121.3 345.9h0.75v0.75h-0.75zM109.9 355.6h0.75v0.75h-0.75zM116.4 348.9h0.75v0.75h-0.75zM108.5 347.0h0.75v0.75h-0.75zM118.1 350.7h0.75v0.75h-0.75zM119.2 350.0h0.75v0.75h-0.75zM121.5 355.2h0.75v0.75h-0.75zM122.8 341.0h0.75v0.75h-0.75zM117.1 355.8h0.75v0.75h-0.75zM121.9 345.2h0.75v0.75h-0.75zM115.9 346.3h0.75v0.75h-0.75zM117.3 333.2h0.75v0.75h-0.75zM109.6 347.4h0.75v0.75h-0.75zM114.9 355.9h0.75v0.75h-0.75zM116.2 345.2h0.75v0.75h-0.75zM115.2 345.4h0.75v0.75h-0.75zM109.6 338.3h0.75v0.75h-0.75zM124.2 341.9h0.75v0.75h-0.75zM110.3 338.4h0.75v0.75h-0.75zM111.4 337.4h0.75v0.75h-0.75zM110.7 334.7h0.75v0.75h-0.75zM116.7 349.0h0.75v0.75h-0.75zM123.8 349.8h0.75v0.75h-0.75zM118.1 344.2h0.75v0.75h-0.75zM121.7 341.6h0.75v0.75h-0.75zM114.0 343.4h0.75v0.75h-0.75zM123.2 346.6h0.75v0.75h-0.75zM125.0 349.9h0.75v0.75h-0.75zM117.8 343.9h0.75v0.75h-0.75zM115.9 352.6h0.75v0.75h-0.75zM119.1 356.2h0.75v0.75h-0.75zM118.8 339.9h0.75v0.75h-0.75zM111.2 332.6h0.75v0.75h-0.75zM118.6 340.8h0.75v0.75h-0.75zM119.3 344.2h0.75v0.75h-0.75zM117.2 344.4h0.75v0.75h-0.75zM114.7 350.0h0.75v0.75h-0.75zM113.1 345.7h0.75v0.75h-0.75zM112.9 344.4h0.75v0.75h-0.75zM112.4 339.8h0.75v0.75h-0.75zM114.6 350.6h0.75v0.75h-0.75zM116.2 342.4h0.75v0.75h-0.75zM123.6 339.4h0.75v0.75h-0.75zM122.3 335.7h0.75v0.75h-0.75zM116.1 339.7h0.75v0.75h-0.75zM116.3 340.0h0.75v0.75h-0.75zM114.6 346.4h0.75v0.75h-0.75zM121.4 355.7h0.75v0.75h-0.75zM118.6 348.6h0.75v0.75h-0.75zM125.8 336.4h0.75v0.75h-0.75zM127.3 344.9h0.75v0.75h-0.75zM113.2 356.1h0.75v0.75h-0.75zM113.3 346.7h0.75v0.75h-0.75zM120.8 355.1h0.75v0.75h-0.75zM108.4 351.2h0.75v0.75h-0.75zM118.2 345.7h0.75v0.75h-0.75zM120.6 351.5h0.75v0.75h-0.75zM111.2 345.2h0.75v0.75h-0.75zM113.1 349.8h0.75v0.75h-0.75zM117.7 342.3h0.75v0.75h-0.75zM114.7 339.4h0.75v0.75h-0.75zM113.3 346.9h0.75v0.75h-0.75zM116.8 346.2h0.75v0.75h-0.75zM116.8 346.0h0.75v0.75h-0.75zM110.8 352.1h0.75v0.75h-0.75zM112.1 343.5h0.75v0.75h-0.75zM122.0 346.9h0.75v0.75h-0.75zM111.1 339.0h0.75v0.75h-0.75zM128.9 342.8h0.75v0.75h-0.75zM117.7 345.5h0.75v0.75h-0.75zM111.2 350.7h0.75v0.75h-0.75zM125.5 347.8h0.75v0.75h-0.75zM111.7 330.1h0.75v0.75h-0.75zM112.9 342.6h0.75v0.75h-0.75zM109.8 337.8h0.75v0.75h-0.75zM123.8 355.8h0.75v0.75h-0.75zM109.0 341.5h0.75v0.75h-0.75zM110.7 339.2h0.75v0.75h-0.75zM118.2 350.2h0.75v0.75h-0.75zM121.7 347.1h0.75v0.75h-0.75zM117.7 356.2h0.75v0.75h-0.75zM118.8 349.1h0.75v0.75h-0.75zM113.8 347.2h0.75v0.75h-0.75zM123.5 343.1h0.75v0.75h-0.75zM125.3 341.0h0.75v0.75h-0.75zM125.9 339.7h0.75v0.75h-0.75zM115.8 333.0h0.75v0.75h-0.75zM119.4 344.9h0.75v0.75h-0.75zM112.0 338.3h0.75v0.75h-0.75zM113.7 348.5h0.75v0.75h-0.75zM115.3 347.4h0.75v0.75h-0.75zM119.6 353.7h0.75v0.75h-0.75zM123.1 348.8h0.75v0.75h-0.75zM126.0 342.7h0.75v0.75h-0.75zM124.5 330.9h0.75v0.75h-0.75zM120.1 353.9h0.75v0.75h-0.75zM120.3 342.9h0.75v0.75h-0.75zM111.8 346.5h0.75v0.75h-0.75zM128.8 353.7h0.75v0.75h-0.75zM115.1 334.9h0.75v0.75h-0.75zM122.5 341.5h0.75v0.75h-0.75zM122.1 336.8h0.75v0.75h-0.75zM109.0 349.1h0.75v0.75h-0.75zM118.0 354.2h0.75v0.75h-0.75zM116.9 345.5h0.75v0.75h-0.75zM120.1 345.5h0.75v0.75h-0.75zM110.5 346.8h0.75v0.75h-0.75zM124.8 349.2h0.75v0.75h-0.75zM118.8 353.5h0.75v0.75h-0.75zM119.6 340.4h0.75v0.75h-0.75zM114.0 350.1h0.75v0.75h-0.75zM127.8 348.4h0.75v0.75h-0.75zM110.5 347.6h0.75v0.75h-0.75zM116.4 338.4h0.75v0.75h-0.75zM111.1 350.4h0.75v0.75h-0.75zM122.7 346.1h0.75v0.75h-0.75zM113.0 342.7h0.75v0.75h-0.75zM118.3 347.8h0.75v0.75h-0.75zM122.6 356.1h0.75v0.75h-0.75zM110.4 353.1h0.75v0.75h-0.75zM115.6 349.0h0.75v0.75h-0.75zM125.6 346.1h0.75v0.75h-0.75zM112.5 337.9h0.75v0.75h-0.75zM127.5 351.0h0.75v0.75h-0.75zM119.2 343.3h0.75v0.75h-0.75zM126.5 333.0h0.75v0.75h-0.75zM126.4 350.2h0.75v0.75h-0.75zM119.6 346.4h0.75v0.75h-0.75zM114.8 347.5h0.75v0.75h-0.75zM113.9 346.5h0.75v0.75h-0.75zM111.8 347.2h0.75v0.75h-0.75zM119.5 356.7h0.75v0.75h-0.75zM116.3 351.0h0.75v0.75h-0.75zM114.5 353.6h0.75v0.75h-0.75zM112.1 338.8h0.75v0.75h-0.75zM118.7 348.2h0.75v0.75h-0.75zM124.9 355.4h0.75v0.75h-0.75zM113.9 348.1h0.75v0.75h-0.75zM115.4 334.1h0.75v0.75h-0.75zM113.5 355.0h0.75v0.75h-0.75zM121.1 352.1h0.75v0.75h-0.75zM117.7 348.2h0.75v0.75h-0.75zM124.9 351.7h0.75v0.75h-0.75zM113.1 343.4h0.75v0.75h-0.75zM117.7 346.4h0.75v0.75h-0.75zM113.1 348.4h0.75v0.75h-0.75zM131.5 343.2h0.75v0.75h-0.75zM118.3 352.5h0.75v0.75h-0.75zM112.9 347.6h0.75v0.75h-0.75zM119.7 347.9h0.75v0.75h-0.75zM112.7 342.1h0.75v0.75h-0.75zM108.3 336.9h0.75v0.75h-0.75zM114.8 344.9h0.75v0.75h-0.75zM119.0 343.3h0.75v0.75h-0.75zM113.5 344.7h0.75v0.75h-0.75zM118.9 334.3h0.75v0.75h-0.75zM119.5 336.8h0.75v0.75h-0.75zM122.8 342.5h0.75v0.75h-0.75zM119.2 342.5h0.75v0.75h-0.75zM119.1 350.8h0.75v0.75h-0.75zM116.8 341.1h0.75v0.75h-0.75zM117.9 332.2h0.75v0.75h-0.75zM108.2 353.7h0.75v0.75h-0.75zM114.3 353.7h0.75v0.75h-0.75zM117.5 352.9h0.75v0.75h-0.75zM121.7 350.3h0.75v0.75h-0.75zM117.2 342.7h0.75v0.75h-0.75zM113.2 351.3h0.75v0.75h-0.75zM116.9 348.6h0.75v0.75h-0.75zM123.5 339.1h0.75v0.75h-0.75zM129.1 343.8h0.75v0.75h-0.75zM117.4 343.3h0.75v0.75h-0.75zM131.4 338.1h0.75v0.75h-0.75zM116.8 351.1h0.75v0.75h-0.75zM119.3 349.8h0.75v0.75h-0.75zM116.8 352.0h0.75v0.75h-0.75zM111.0 335.5h0.75v0.75h-0.75zM127.5 347.3h0.75v0.75h-0.75zM113.6 341.5h0.75v0.75h-0.75zM113.8 347.5h0.75v0.75h-0.75zM115.6 347.2h0.75v0.75h-0.75zM115.9 338.6h0.75v0.75h-0.75zM118.1 351.3h0.75v0.75h-0.75zM111.4 344.0h0.75v0.75h-0.75zM116.6 337.7h0.75v0.75h-0.75zM116.4 343.5h0.75v0.75h-0.75zM114.8 339.8h0.75v0.75h-0.75zM118.2 347.0h0.75v0.75h-0.75zM113.3 344.7h0.75v0.75h-0.75zM114.4 351.4h0.75v0.75h-0.75zM114.3 348.5h0.75v0.75h-0.75zM120.2 356.5h0.75v0.75h-0.75zM119.7 354.1h0.75v0.75h-0.75zM127.2 345.0h0.75v0.75h-0.75zM124.6 353.7h0.75v0.75h-0.75zM108.9 342.7h0.75v0.75h-0.75zM120.9 330.2h0.75v0.75h-0.75zM118.4 355.5h0.75v0.75h-0.75zM124.5 338.9h0.75v0.75h-0.75zM118.3 339.8h0.75v0.75h-0.75zM113.9 350.0h0.75v0.75h-0.75zM118.6 344.6h0.75v0.75h-0.75zM120.8 349.9h0.75v0.75h-0.75zM119.1 350.9h0.75v0.75h-0.75zM114.1 341.2h0.75v0.75h-0.75zM119.9 341.6h0.75v0.75h-0.75zM124.2 337.3h0.75v0.75h-0.75zM115.3 356.0h0.75v0.75h-0.75zM114.2 343.1h0.75v0.75h-0.75zM128.8 350.2h0.75v0.75h-0.75zM120.2 347.4h0.75v0.75h-0.75zM111.5 340.2h0.75v0.75h-0.75zM114.7 352.3h0.75v0.75h-0.75zM113.5 340.3h0.75v0.75h-0.75zM122.1 349.3h0.75v0.75h-0.75zM117.3 339.6h0.75v0.75h-0.75zM115.8 344.9h0.75v0.75h-0.75zM120.8 334.1h0.75v0.75h-0.75zM111.0 347.7h0.75v0.75h-0.75zM123.5 350.4h0.75v0.75h-0.75zM115.2 339.8h0.75v0.75h-0.75zM113.4 343.6h0.75v0.75h-0.75zM121.1 337.0h0.75v0.75h-0.75zM112.9 347.1h0.75v0.75h-0.75zM122.6 347.1h0.75v0.75h-0.75zM116.0 349.0h0.75v0.75h-0.75zM111.0 349.5h0.75v0.75h-0.75zM120.3 354.8h0.75v0.75h-0.75zM113.2 339.1h0.75v0.75h-0.75zM118.5 343.9h0.75v0.75h-0.75zM122.5 338.5h0.75v0.75h-0.75zM126.9 349.6h0.75v0.75h-0.75zM118.1 341.6h0.75v0.75h-0.75zM118.4 354.6h0.75v0.75h-0.75zM119.6 347.9h0.75v0.75h-0.75zM114.2 340.5h0.75v0.75h-0.75zM117.6 341.4h0.75v0.75h-0.75zM117.8 347.6h0.75v0.75h-0.75zM111.8 339.4h0.75v0.75h-0.75zM124.1 346.4h0.75v0.75h-0.75z" fill="#000" opacity="0.33"/>
<path d="M127.5 349.0h0.75v0.75h-0.75zM128.8 351.8h0.75v0.75h-0.75zM131.8 354.3h0.75v0.75h-0.75zM134.7 349.1h0.75v0.75h-0.75zM136.9 349.5h0.75v0.75h-0.75zM131.8 350.1h0.75v0.75h-0.75zM125.9 350.3h0.75v0.75h-0.75zM138.4 352.4h0.75v0.75h-0.75zM138.0 353.9h0.75v0.75h-0.75zM142.5 354.7h0.75v0.75h-0.75zM129.6 352.8h0.75v0.75h-0.75zM137.4 350.7h0.75v0.75h-0.75zM147.8 349.9h0.75v0.75h-0.75zM136.6 356.3h0.75v0.75h-0.75zM137.2 351.9h0.75v0.75h-0.75zM130.7 355.4h0.75v0.75h-0.75zM134.8 353.4h0.75v0.75h-0.75zM135.7 354.1h0.75v0.75h-0.75zM135.5 349.0h0.75v0.75h-0.75zM132.2 354.7h0.75v0.75h-0.75zM153.5 347.7h0.75v0.75h-0.75zM130.9 353.2h0.75v0.75h-0.75zM130.6 349.9h0.75v0.75h-0.75zM128.5 351.1h0.75v0.75h-0.75zM138.5 353.5h0.75v0.75h-0.75zM132.3 351.3h0.75v0.75h-0.75zM135.1 352.2h0.75v0.75h-0.75zM134.4 353.2h0.75v0.75h-0.75zM121.9 352.4h0.75v0.75h-0.75zM139.3 353.6h0.75v0.75h-0.75zM134.1 353.8h0.75v0.75h-0.75zM139.4 352.6h0.75v0.75h-0.75zM131.0 347.4h0.75v0.75h-0.75zM148.9 352.3h0.75v0.75h-0.75zM140.3 347.9h0.75v0.75h-0.75zM137.1 350.8h0.75v0.75h-0.75zM124.9 351.5h0.75v0.75h-0.75zM140.3 351.0h0.75v0.75h-0.75zM134.3 342.6h0.75v0.75h-0.75zM141.9 352.6h0.75v0.75h-0.75zM146.0 349.8h0.75v0.75h-0.75zM134.3 353.2h0.75v0.75h-0.75zM138.7 351.5h0.75v0.75h-0.75zM138.9 352.0h0.75v0.75h-0.75zM133.0 354.7h0.75v0.75h-0.75zM125.9 349.5h0.75v0.75h-0.75zM122.9 355.1h0.75v0.75h-0.75zM134.1 354.2h0.75v0.75h-0.75zM143.2 351.9h0.75v0.75h-0.75zM134.4 352.0h0.75v0.75h-0.75zM139.6 349.0h0.75v0.75h-0.75zM143.7 349.0h0.75v0.75h-0.75zM135.1 352.4h0.75v0.75h-0.75zM132.3 354.4h0.75v0.75h-0.75zM131.4 353.9h0.75v0.75h-0.75zM137.4 353.8h0.75v0.75h-0.75zM147.9 349.8h0.75v0.75h-0.75zM128.1 355.5h0.75v0.75h-0.75zM145.8 353.8h0.75v0.75h-0.75zM136.0 354.1h0.75v0.75h-0.75zM127.8 352.0h0.75v0.75h-0.75zM135.5 353.9h0.75v0.75h-0.75zM126.9 355.1h0.75v0.75h-0.75zM149.9 349.4h0.75v0.75h-0.75zM134.8 345.3h0.75v0.75h-0.75zM150.9 353.4h0.75v0.75h-0.75zM135.8 352.5h0.75v0.75h-0.75zM135.5 351.1h0.75v0.75h-0.75zM154.9 351.8h0.75v0.75h-0.75zM149.6 348.3h0.75v0.75h-0.75zM142.8 350.0h0.75v0.75h-0.75zM136.7 355.3h0.75v0.75h-0.75zM145.6 352.8h0.75v0.75h-0.75zM136.1 353.8h0.75v0.75h-0.75zM127.6 353.6h0.75v0.75h-0.75zM133.6 352.1h0.75v0.75h-0.75zM141.9 351.8h0.75v0.75h-0.75zM125.3 349.6h0.75v0.75h-0.75zM133.8 349.5h0.75v0.75h-0.75zM139.4 351.2h0.75v0.75h-0.75zM133.5 351.7h0.75v0.75h-0.75zM131.1 352.0h0.75v0.75h-0.75zM140.8 349.5h0.75v0.75h-0.75zM138.7 353.5h0.75v0.75h-0.75zM142.7 354.2h0.75v0.75h-0.75zM147.1 347.6h0.75v0.75h-0.75zM137.1 350.9h0.75v0.75h-0.75zM133.5 350.5h0.75v0.75h-0.75zM139.4 352.9h0.75v0.75h-0.75zM137.4 351.0h0.75v0.75h-0.75zM141.2 350.3h0.75v0.75h-0.75zM126.4 356.0h0.75v0.75h-0.75zM140.2 354.5h0.75v0.75h-0.75zM143.0 349.1h0.75v0.75h-0.75zM137.2 353.2h0.75v0.75h-0.75zM141.0 348.7h0.75v0.75h-0.75zM141.2 351.5h0.75v0.75h-0.75zM134.7 355.9h0.75v0.75h-0.75zM135.8 353.2h0.75v0.75h-0.75zM134.0 352.1h0.75v0.75h-0.75zM124.8 356.1h0.75v0.75h-0.75zM132.9 349.7h0.75v0.75h-0.75zM130.3 347.8h0.75v0.75h-0.75zM153.5 354.3h0.75v0.75h-0.75zM142.9 350.4h0.75v0.75h-0.75zM140.1 355.9h0.75v0.75h-0.75zM133.7 351.6h0.75v0.75h-0.75zM130.3 350.1h0.75v0.75h-0.75zM135.7 351.7h0.75v0.75h-0.75zM129.7 351.2h0.75v0.75h-0.75zM144.2 348.9h0.75v0.75h-0.75zM135.1 348.7h0.75v0.75h-0.75zM129.9 351.5h0.75v0.75h-0.75zM130.7 353.8h0.75v0.75h-0.75zM132.9 352.0h0.75v0.75h-0.75zM135.3 352.4h0.75v0.75h-0.75zM133.8 351.5h0.75v0.75h-0.75zM137.2 352.6h0.75v0.75h-0.75zM135.2 352.0h0.75v0.75h-0.75zM126.8 352.5h0.75v0.75h-0.75zM141.5 353.7h0.75v0.75h-0.75zM134.7 354.7h0.75v0.75h-0.75zM134.4 354.3h0.75v0.75h-0.75zM137.9 351.6h0.75v0.75h-0.75zM150.4 349.3h0.75v0.75h-0.75zM129.3 348.7h0.75v0.75h-0.75zM136.2 349.3h0.75v0.75h-0.75zM138.7 353.1h0.75v0.75h-0.75zM128.6 349.6h0.75v0.75h-0.75zM132.3 344.7h0.75v0.75h-0.75zM134.4 355.4h0.75v0.75h-0.75zM145.8 353.4h0.75v0.75h-0.75zM140.5 350.6h0.75v0.75h-0.75zM144.2 351.6h0.75v0.75h-0.75zM143.0 351.9h0.75v0.75h-0.75zM142.5 350.6h0.75v0.75h-0.75zM143.8 346.9h0.75v0.75h-0.75zM126.7 350.0h0.75v0.75h-0.75zM137.3 346.3h0.75v0.75h-0.75zM140.8 348.6h0.75v0.75h-0.75zM135.3 348.6h0.75v0.75h-0.75z" fill="#000" opacity="0.28"/>
</g>
<rect x="107.6" y="308.0" width="49.30000000000001" height="49.89999999999998" fill="none" stroke="#2a2a2a" stroke-width="1.1"/>
<line x1="126.5" y1="308.0" x2="126.5" y2="357.9" stroke="#222" stroke-width="1.1"/>
<line x1="107.6" y1="344.4" x2="156.9" y2="344.4" stroke="#222" stroke-width="1.1"/>
<text x="117.2" y="304.0" font-size="11.2" textLength="24.2" lengthAdjust="spacingAndGlyphs" fill="#111">GFP</text>
<line x1="141.6" y1="298.8" x2="144.6" y2="298.8" stroke="#222" stroke-width="0.9"/>
<line x1="143.1" y1="297.3" x2="143.1" y2="300.3" stroke="#222" stroke-width="0.9"/>
<text x="108.3" y="322.8" font-size="9.2" font-weight="bold" fill="#111" style="stroke-width:0.15px">31%</text>
<text x="140.0" y="354.6" font-size="9.2" font-weight="bold" fill="#111" style="stroke-width:0.15px">15%</text>
<g filter="url(#soft)">
<ellipse cx="198.5" cy="351" rx="4.5" ry="3.6" fill="#000" opacity="0.8" filter="url(#bl)"/>
<ellipse cx="200" cy="336" rx="4" ry="3" fill="#000" opacity="0.25" filter="url(#bl)" transform="rotate(-40 200 336)"/>
<path d="M207.6 347.1h0.8v0.8h-0.8zM199.9 350.1h0.8v0.8h-0.8zM194.8 349.0h0.8v0.8h-0.8zM196.3 350.7h0.8v0.8h-0.8zM200.1 354.5h0.8v0.8h-0.8zM199.3 354.8h0.8v0.8h-0.8zM200.3 351.2h0.8v0.8h-0.8zM197.4 347.5h0.8v0.8h-0.8zM191.7 350.5h0.8v0.8h-0.8zM197.6 351.9h0.8v0.8h-0.8zM199.7 346.4h0.8v0.8h-0.8zM195.3 346.9h0.8v0.8h-0.8zM202.4 350.4h0.8v0.8h-0.8zM198.7 347.6h0.8v0.8h-0.8zM192.9 348.7h0.8v0.8h-0.8zM197.8 352.4h0.8v0.8h-0.8zM191.9 351.9h0.8v0.8h-0.8zM194.6 348.9h0.8v0.8h-0.8zM196.8 349.3h0.8v0.8h-0.8zM200.1 353.8h0.8v0.8h-0.8zM199.6 348.9h0.8v0.8h-0.8zM199.9 352.0h0.8v0.8h-0.8zM201.8 351.7h0.8v0.8h-0.8zM191.5 348.1h0.8v0.8h-0.8zM196.5 353.9h0.8v0.8h-0.8zM197.6 353.9h0.8v0.8h-0.8zM199.4 346.6h0.8v0.8h-0.8zM198.4 352.7h0.8v0.8h-0.8zM199.9 345.6h0.8v0.8h-0.8zM200.0 348.7h0.8v0.8h-0.8zM202.6 352.2h0.8v0.8h-0.8zM206.1 351.9h0.8v0.8h-0.8zM194.1 342.3h0.8v0.8h-0.8zM202.0 343.0h0.8v0.8h-0.8zM198.5 347.8h0.8v0.8h-0.8zM202.5 350.5h0.8v0.8h-0.8zM199.1 352.3h0.8v0.8h-0.8zM195.8 351.5h0.8v0.8h-0.8zM207.9 347.5h0.8v0.8h-0.8zM198.9 352.6h0.8v0.8h-0.8zM196.0 350.6h0.8v0.8h-0.8zM198.4 354.7h0.8v0.8h-0.8zM202.2 348.8h0.8v0.8h-0.8zM202.0 344.2h0.8v0.8h-0.8zM196.8 347.7h0.8v0.8h-0.8zM195.7 344.8h0.8v0.8h-0.8zM196.5 349.0h0.8v0.8h-0.8zM197.3 354.4h0.8v0.8h-0.8zM199.2 346.6h0.8v0.8h-0.8zM203.1 354.1h0.8v0.8h-0.8zM195.8 354.9h0.8v0.8h-0.8zM200.1 348.7h0.8v0.8h-0.8zM200.1 350.6h0.8v0.8h-0.8zM193.6 349.3h0.8v0.8h-0.8zM199.0 355.5h0.8v0.8h-0.8zM194.0 351.7h0.8v0.8h-0.8zM198.4 350.7h0.8v0.8h-0.8zM193.2 355.3h0.8v0.8h-0.8zM203.8 356.5h0.8v0.8h-0.8zM200.3 356.1h0.8v0.8h-0.8zM200.6 354.4h0.8v0.8h-0.8zM197.0 351.7h0.8v0.8h-0.8zM197.0 347.2h0.8v0.8h-0.8zM196.5 347.0h0.8v0.8h-0.8zM193.7 349.5h0.8v0.8h-0.8zM205.9 354.7h0.8v0.8h-0.8zM201.7 347.9h0.8v0.8h-0.8zM199.6 345.8h0.8v0.8h-0.8zM195.7 349.2h0.8v0.8h-0.8zM196.8 353.9h0.8v0.8h-0.8zM196.2 353.9h0.8v0.8h-0.8zM191.7 354.1h0.8v0.8h-0.8zM193.2 351.6h0.8v0.8h-0.8zM198.4 353.8h0.8v0.8h-0.8zM201.0 352.3h0.8v0.8h-0.8zM196.5 351.0h0.8v0.8h-0.8zM196.4 351.4h0.8v0.8h-0.8zM194.3 349.5h0.8v0.8h-0.8zM200.5 348.9h0.8v0.8h-0.8zM200.4 348.9h0.8v0.8h-0.8zM204.4 350.5h0.8v0.8h-0.8zM205.8 352.7h0.8v0.8h-0.8zM197.9 354.3h0.8v0.8h-0.8zM203.3 356.3h0.8v0.8h-0.8zM204.3 354.1h0.8v0.8h-0.8zM193.5 354.2h0.8v0.8h-0.8zM198.0 352.4h0.8v0.8h-0.8zM203.8 348.4h0.8v0.8h-0.8zM200.8 349.8h0.8v0.8h-0.8zM204.2 351.6h0.8v0.8h-0.8zM202.9 355.4h0.8v0.8h-0.8zM192.0 352.1h0.8v0.8h-0.8zM192.0 348.4h0.8v0.8h-0.8zM201.0 346.7h0.8v0.8h-0.8zM195.4 349.3h0.8v0.8h-0.8zM199.7 352.2h0.8v0.8h-0.8zM200.3 349.1h0.8v0.8h-0.8zM195.2 352.4h0.8v0.8h-0.8zM194.7 348.0h0.8v0.8h-0.8zM201.3 348.1h0.8v0.8h-0.8zM194.6 354.9h0.8v0.8h-0.8zM198.2 343.0h0.8v0.8h-0.8zM210.4 349.8h0.8v0.8h-0.8zM201.3 353.5h0.8v0.8h-0.8zM199.7 344.5h0.8v0.8h-0.8zM202.6 351.9h0.8v0.8h-0.8zM197.4 345.2h0.8v0.8h-0.8zM195.7 350.5h0.8v0.8h-0.8zM197.3 351.7h0.8v0.8h-0.8zM196.7 354.4h0.8v0.8h-0.8zM201.0 346.8h0.8v0.8h-0.8zM195.8 352.3h0.8v0.8h-0.8zM196.0 355.8h0.8v0.8h-0.8zM196.1 351.7h0.8v0.8h-0.8zM200.9 346.9h0.8v0.8h-0.8zM203.6 350.1h0.8v0.8h-0.8zM195.3 348.4h0.8v0.8h-0.8zM204.6 350.4h0.8v0.8h-0.8zM197.1 351.5h0.8v0.8h-0.8zM200.7 348.1h0.8v0.8h-0.8zM197.4 351.8h0.8v0.8h-0.8zM202.6 351.7h0.8v0.8h-0.8zM205.3 350.1h0.8v0.8h-0.8zM196.9 346.0h0.8v0.8h-0.8zM198.1 353.1h0.8v0.8h-0.8zM197.3 350.2h0.8v0.8h-0.8zM194.2 348.8h0.8v0.8h-0.8zM196.4 350.5h0.8v0.8h-0.8zM202.8 352.6h0.8v0.8h-0.8zM202.2 355.0h0.8v0.8h-0.8zM196.4 355.5h0.8v0.8h-0.8zM198.5 346.2h0.8v0.8h-0.8zM195.8 350.5h0.8v0.8h-0.8zM198.1 353.8h0.8v0.8h-0.8zM193.2 351.2h0.8v0.8h-0.8zM199.4 348.2h0.8v0.8h-0.8zM199.4 350.8h0.8v0.8h-0.8zM199.9 346.6h0.8v0.8h-0.8zM200.5 349.8h0.8v0.8h-0.8zM194.7 343.1h0.8v0.8h-0.8zM197.5 349.5h0.8v0.8h-0.8zM208.3 346.6h0.8v0.8h-0.8zM204.5 355.2h0.8v0.8h-0.8zM200.0 351.7h0.8v0.8h-0.8zM200.4 345.6h0.8v0.8h-0.8zM204.2 349.7h0.8v0.8h-0.8zM195.2 350.8h0.8v0.8h-0.8zM193.3 345.3h0.8v0.8h-0.8zM200.7 356.4h0.8v0.8h-0.8zM198.3 349.7h0.8v0.8h-0.8zM199.6 349.0h0.8v0.8h-0.8zM198.8 352.2h0.8v0.8h-0.8zM197.3 349.3h0.8v0.8h-0.8zM198.5 351.0h0.8v0.8h-0.8zM201.1 345.5h0.8v0.8h-0.8zM193.5 349.1h0.8v0.8h-0.8zM200.3 346.2h0.8v0.8h-0.8zM203.3 355.8h0.8v0.8h-0.8zM195.1 354.7h0.8v0.8h-0.8zM201.7 352.5h0.8v0.8h-0.8zM195.7 346.8h0.8v0.8h-0.8zM199.9 348.9h0.8v0.8h-0.8zM201.0 345.1h0.8v0.8h-0.8zM199.9 352.5h0.8v0.8h-0.8zM195.1 348.6h0.8v0.8h-0.8zM193.3 350.4h0.8v0.8h-0.8zM201.0 344.6h0.8v0.8h-0.8zM197.9 355.7h0.8v0.8h-0.8zM201.5 346.0h0.8v0.8h-0.8zM207.4 348.7h0.8v0.8h-0.8zM202.0 354.0h0.8v0.8h-0.8zM196.7 352.8h0.8v0.8h-0.8zM198.7 349.4h0.8v0.8h-0.8zM198.6 354.4h0.8v0.8h-0.8zM202.0 348.4h0.8v0.8h-0.8zM201.4 354.7h0.8v0.8h-0.8zM198.5 352.0h0.8v0.8h-0.8zM199.6 345.4h0.8v0.8h-0.8zM201.6 354.7h0.8v0.8h-0.8zM193.9 346.5h0.8v0.8h-0.8zM197.2 351.4h0.8v0.8h-0.8zM201.5 349.8h0.8v0.8h-0.8zM198.2 347.1h0.8v0.8h-0.8zM199.2 347.9h0.8v0.8h-0.8zM202.2 353.0h0.8v0.8h-0.8zM193.4 353.9h0.8v0.8h-0.8zM193.6 355.0h0.8v0.8h-0.8zM199.4 350.7h0.8v0.8h-0.8zM203.1 346.3h0.8v0.8h-0.8zM197.8 349.4h0.8v0.8h-0.8zM197.7 345.0h0.8v0.8h-0.8zM204.1 349.4h0.8v0.8h-0.8zM200.6 350.1h0.8v0.8h-0.8zM197.0 355.1h0.8v0.8h-0.8zM194.7 347.3h0.8v0.8h-0.8zM192.9 354.4h0.8v0.8h-0.8zM195.1 348.9h0.8v0.8h-0.8zM197.2 352.7h0.8v0.8h-0.8zM202.3 351.2h0.8v0.8h-0.8zM198.0 352.4h0.8v0.8h-0.8zM194.6 351.3h0.8v0.8h-0.8zM205.0 348.3h0.8v0.8h-0.8zM194.4 345.2h0.8v0.8h-0.8zM198.2 352.7h0.8v0.8h-0.8zM196.2 349.4h0.8v0.8h-0.8zM202.9 350.7h0.8v0.8h-0.8zM200.9 349.3h0.8v0.8h-0.8zM203.4 353.7h0.8v0.8h-0.8zM197.4 348.5h0.8v0.8h-0.8zM208.6 346.8h0.8v0.8h-0.8zM193.9 341.9h0.8v0.8h-0.8zM200.9 350.8h0.8v0.8h-0.8zM197.6 345.2h0.8v0.8h-0.8zM198.1 347.8h0.8v0.8h-0.8zM193.1 349.7h0.8v0.8h-0.8zM199.3 350.1h0.8v0.8h-0.8zM195.9 353.1h0.8v0.8h-0.8zM199.0 349.3h0.8v0.8h-0.8zM200.4 351.7h0.8v0.8h-0.8zM201.8 353.5h0.8v0.8h-0.8zM201.1 348.6h0.8v0.8h-0.8zM203.5 354.1h0.8v0.8h-0.8zM195.8 355.0h0.8v0.8h-0.8zM198.4 347.1h0.8v0.8h-0.8zM197.9 346.2h0.8v0.8h-0.8zM202.7 346.2h0.8v0.8h-0.8zM204.2 347.6h0.8v0.8h-0.8zM197.5 355.1h0.8v0.8h-0.8zM199.5 344.9h0.8v0.8h-0.8zM197.5 344.3h0.8v0.8h-0.8zM200.9 347.1h0.8v0.8h-0.8zM197.7 350.2h0.8v0.8h-0.8zM191.8 351.8h0.8v0.8h-0.8zM205.5 347.5h0.8v0.8h-0.8zM195.7 351.9h0.8v0.8h-0.8zM203.1 347.6h0.8v0.8h-0.8zM198.9 351.9h0.8v0.8h-0.8zM202.5 347.8h0.8v0.8h-0.8zM192.5 347.9h0.8v0.8h-0.8zM199.6 348.5h0.8v0.8h-0.8zM195.9 350.7h0.8v0.8h-0.8zM195.1 348.6h0.8v0.8h-0.8zM199.0 349.3h0.8v0.8h-0.8zM199.6 354.3h0.8v0.8h-0.8zM202.8 351.0h0.8v0.8h-0.8zM206.7 349.4h0.8v0.8h-0.8zM199.0 353.6h0.8v0.8h-0.8zM196.2 348.8h0.8v0.8h-0.8zM199.0 352.4h0.8v0.8h-0.8zM199.7 353.1h0.8v0.8h-0.8zM199.5 350.5h0.8v0.8h-0.8zM195.7 350.4h0.8v0.8h-0.8zM198.4 350.7h0.8v0.8h-0.8zM193.8 355.1h0.8v0.8h-0.8zM202.8 351.6h0.8v0.8h-0.8zM196.3 354.6h0.8v0.8h-0.8zM197.3 350.0h0.8v0.8h-0.8zM200.7 348.9h0.8v0.8h-0.8zM198.8 349.1h0.8v0.8h-0.8zM200.8 352.3h0.8v0.8h-0.8zM201.2 352.3h0.8v0.8h-0.8zM199.6 352.1h0.8v0.8h-0.8zM201.6 347.6h0.8v0.8h-0.8zM193.5 351.1h0.8v0.8h-0.8zM199.0 350.0h0.8v0.8h-0.8zM204.5 352.5h0.8v0.8h-0.8zM203.5 351.2h0.8v0.8h-0.8zM192.7 346.2h0.8v0.8h-0.8zM202.8 351.0h0.8v0.8h-0.8zM196.4 355.3h0.8v0.8h-0.8zM205.4 352.2h0.8v0.8h-0.8zM203.6 349.8h0.8v0.8h-0.8zM194.5 345.3h0.8v0.8h-0.8zM202.8 345.6h0.8v0.8h-0.8zM196.7 351.1h0.8v0.8h-0.8zM200.7 344.5h0.8v0.8h-0.8zM197.4 348.1h0.8v0.8h-0.8zM204.3 350.2h0.8v0.8h-0.8zM195.7 356.7h0.8v0.8h-0.8zM199.0 353.6h0.8v0.8h-0.8zM199.7 350.3h0.8v0.8h-0.8zM201.4 348.4h0.8v0.8h-0.8zM192.7 348.7h0.8v0.8h-0.8zM200.9 349.6h0.8v0.8h-0.8zM202.7 353.3h0.8v0.8h-0.8zM199.2 354.6h0.8v0.8h-0.8zM199.9 352.0h0.8v0.8h-0.8zM197.3 350.5h0.8v0.8h-0.8zM198.1 354.5h0.8v0.8h-0.8zM204.8 354.6h0.8v0.8h-0.8zM199.4 350.5h0.8v0.8h-0.8zM199.4 349.0h0.8v0.8h-0.8zM198.3 349.8h0.8v0.8h-0.8zM198.2 342.9h0.8v0.8h-0.8zM198.4 353.1h0.8v0.8h-0.8zM199.0 349.0h0.8v0.8h-0.8zM204.1 347.7h0.8v0.8h-0.8zM209.4 348.5h0.8v0.8h-0.8zM202.2 355.7h0.8v0.8h-0.8zM201.2 351.3h0.8v0.8h-0.8zM195.5 350.4h0.8v0.8h-0.8zM199.3 354.2h0.8v0.8h-0.8zM193.8 348.8h0.8v0.8h-0.8zM198.0 348.8h0.8v0.8h-0.8zM200.8 345.4h0.8v0.8h-0.8zM200.3 347.5h0.8v0.8h-0.8zM196.9 350.6h0.8v0.8h-0.8zM192.7 352.3h0.8v0.8h-0.8zM207.0 348.7h0.8v0.8h-0.8zM194.7 356.0h0.8v0.8h-0.8zM205.1 344.0h0.8v0.8h-0.8zM196.9 348.2h0.8v0.8h-0.8zM199.0 350.5h0.8v0.8h-0.8zM194.3 349.4h0.8v0.8h-0.8zM202.8 347.7h0.8v0.8h-0.8zM199.3 353.0h0.8v0.8h-0.8zM205.3 352.3h0.8v0.8h-0.8zM199.3 347.7h0.8v0.8h-0.8zM199.4 355.4h0.8v0.8h-0.8zM200.2 355.0h0.8v0.8h-0.8zM196.5 353.6h0.8v0.8h-0.8zM197.4 348.5h0.8v0.8h-0.8zM195.9 354.9h0.8v0.8h-0.8zM200.7 350.3h0.8v0.8h-0.8zM197.3 353.6h0.8v0.8h-0.8zM196.6 354.7h0.8v0.8h-0.8zM199.6 349.0h0.8v0.8h-0.8zM197.6 347.3h0.8v0.8h-0.8zM194.0 349.2h0.8v0.8h-0.8zM196.4 349.7h0.8v0.8h-0.8zM195.3 348.6h0.8v0.8h-0.8zM199.7 346.4h0.8v0.8h-0.8zM198.8 351.5h0.8v0.8h-0.8zM203.1 354.7h0.8v0.8h-0.8zM204.2 354.1h0.8v0.8h-0.8zM201.5 352.5h0.8v0.8h-0.8zM197.9 350.5h0.8v0.8h-0.8zM197.9 347.6h0.8v0.8h-0.8zM203.1 348.5h0.8v0.8h-0.8zM199.9 348.0h0.8v0.8h-0.8zM193.7 354.7h0.8v0.8h-0.8zM198.9 345.6h0.8v0.8h-0.8zM201.1 354.0h0.8v0.8h-0.8zM197.2 353.3h0.8v0.8h-0.8zM203.7 354.9h0.8v0.8h-0.8zM201.0 353.5h0.8v0.8h-0.8zM205.0 351.6h0.8v0.8h-0.8zM197.3 350.0h0.8v0.8h-0.8zM211.5 347.5h0.8v0.8h-0.8zM198.5 344.7h0.8v0.8h-0.8zM198.2 350.3h0.8v0.8h-0.8zM198.1 353.5h0.8v0.8h-0.8zM204.4 351.7h0.8v0.8h-0.8zM195.2 349.2h0.8v0.8h-0.8zM198.5 348.4h0.8v0.8h-0.8zM198.1 352.7h0.8v0.8h-0.8zM191.7 351.4h0.8v0.8h-0.8zM202.7 347.2h0.8v0.8h-0.8zM202.3 352.7h0.8v0.8h-0.8zM203.3 347.5h0.8v0.8h-0.8zM193.7 356.2h0.8v0.8h-0.8zM198.8 345.4h0.8v0.8h-0.8zM197.8 356.3h0.8v0.8h-0.8zM194.0 345.4h0.8v0.8h-0.8zM198.0 348.6h0.8v0.8h-0.8zM196.1 349.9h0.8v0.8h-0.8zM195.7 348.9h0.8v0.8h-0.8zM202.3 351.0h0.8v0.8h-0.8zM200.5 344.6h0.8v0.8h-0.8zM194.6 354.3h0.8v0.8h-0.8zM198.9 354.4h0.8v0.8h-0.8zM192.4 353.1h0.8v0.8h-0.8zM196.0 350.9h0.8v0.8h-0.8zM195.5 347.6h0.8v0.8h-0.8zM194.0 350.4h0.8v0.8h-0.8zM202.6 347.2h0.8v0.8h-0.8zM195.9 347.5h0.8v0.8h-0.8zM194.9 353.1h0.8v0.8h-0.8zM196.6 347.6h0.8v0.8h-0.8zM201.2 352.0h0.8v0.8h-0.8zM199.8 351.4h0.8v0.8h-0.8zM195.9 353.6h0.8v0.8h-0.8zM195.8 351.6h0.8v0.8h-0.8zM199.0 354.8h0.8v0.8h-0.8zM197.7 353.6h0.8v0.8h-0.8zM199.1 351.2h0.8v0.8h-0.8zM195.8 348.5h0.8v0.8h-0.8zM204.7 350.1h0.8v0.8h-0.8zM202.2 345.0h0.8v0.8h-0.8zM201.2 351.6h0.8v0.8h-0.8zM199.6 347.6h0.8v0.8h-0.8zM199.8 350.2h0.8v0.8h-0.8zM203.9 349.1h0.8v0.8h-0.8zM191.8 354.5h0.8v0.8h-0.8zM194.0 350.1h0.8v0.8h-0.8zM201.4 356.6h0.8v0.8h-0.8zM200.7 353.4h0.8v0.8h-0.8zM199.1 351.3h0.8v0.8h-0.8zM198.1 352.0h0.8v0.8h-0.8zM194.7 351.6h0.8v0.8h-0.8zM203.2 351.4h0.8v0.8h-0.8zM197.8 353.5h0.8v0.8h-0.8zM194.8 350.2h0.8v0.8h-0.8zM207.6 353.7h0.8v0.8h-0.8zM201.5 350.5h0.8v0.8h-0.8zM195.5 347.1h0.8v0.8h-0.8zM198.5 355.4h0.8v0.8h-0.8zM198.2 353.8h0.8v0.8h-0.8zM197.3 351.3h0.8v0.8h-0.8zM199.0 347.9h0.8v0.8h-0.8zM202.3 350.9h0.8v0.8h-0.8z" fill="#000" opacity="0.55"/>
<path d="M202.6 331.7h0.75v0.75h-0.75zM204.3 330.6h0.75v0.75h-0.75zM201.9 333.5h0.75v0.75h-0.75zM196.4 341.5h0.75v0.75h-0.75zM202.0 326.9h0.75v0.75h-0.75zM203.4 337.3h0.75v0.75h-0.75zM200.9 337.2h0.75v0.75h-0.75zM201.3 336.7h0.75v0.75h-0.75zM198.3 341.9h0.75v0.75h-0.75zM206.0 328.8h0.75v0.75h-0.75zM200.3 332.5h0.75v0.75h-0.75zM197.8 342.0h0.75v0.75h-0.75zM200.1 337.3h0.75v0.75h-0.75zM198.2 347.3h0.75v0.75h-0.75zM205.6 334.0h0.75v0.75h-0.75zM201.0 342.9h0.75v0.75h-0.75zM205.8 333.5h0.75v0.75h-0.75zM199.1 332.5h0.75v0.75h-0.75zM206.5 338.7h0.75v0.75h-0.75zM211.3 329.5h0.75v0.75h-0.75zM204.3 325.5h0.75v0.75h-0.75zM203.2 331.2h0.75v0.75h-0.75zM196.0 336.0h0.75v0.75h-0.75zM195.8 337.4h0.75v0.75h-0.75zM202.6 331.8h0.75v0.75h-0.75zM198.3 337.2h0.75v0.75h-0.75zM209.7 332.7h0.75v0.75h-0.75zM197.0 341.8h0.75v0.75h-0.75zM208.0 330.2h0.75v0.75h-0.75zM203.5 338.3h0.75v0.75h-0.75zM193.2 341.9h0.75v0.75h-0.75zM199.4 340.2h0.75v0.75h-0.75zM206.3 330.1h0.75v0.75h-0.75zM192.7 339.7h0.75v0.75h-0.75zM200.0 333.8h0.75v0.75h-0.75zM201.2 331.0h0.75v0.75h-0.75zM202.6 337.6h0.75v0.75h-0.75zM209.6 329.1h0.75v0.75h-0.75zM204.8 330.2h0.75v0.75h-0.75zM196.7 335.7h0.75v0.75h-0.75zM199.4 331.8h0.75v0.75h-0.75zM198.6 337.5h0.75v0.75h-0.75zM200.9 334.1h0.75v0.75h-0.75zM199.0 341.7h0.75v0.75h-0.75zM201.3 340.0h0.75v0.75h-0.75zM194.3 342.5h0.75v0.75h-0.75zM195.6 334.4h0.75v0.75h-0.75zM203.5 335.0h0.75v0.75h-0.75zM203.3 336.6h0.75v0.75h-0.75zM209.1 330.7h0.75v0.75h-0.75zM204.6 338.9h0.75v0.75h-0.75zM208.5 320.5h0.75v0.75h-0.75zM198.5 336.9h0.75v0.75h-0.75zM198.8 341.7h0.75v0.75h-0.75zM194.0 331.0h0.75v0.75h-0.75zM201.3 334.5h0.75v0.75h-0.75zM205.0 337.3h0.75v0.75h-0.75zM201.8 340.6h0.75v0.75h-0.75zM193.7 340.7h0.75v0.75h-0.75zM193.6 348.5h0.75v0.75h-0.75zM198.7 341.2h0.75v0.75h-0.75zM202.2 337.9h0.75v0.75h-0.75zM204.8 337.5h0.75v0.75h-0.75zM203.7 334.3h0.75v0.75h-0.75zM203.5 326.4h0.75v0.75h-0.75zM195.6 345.4h0.75v0.75h-0.75zM202.7 329.0h0.75v0.75h-0.75zM193.9 336.0h0.75v0.75h-0.75zM198.1 341.3h0.75v0.75h-0.75zM199.9 339.6h0.75v0.75h-0.75zM193.8 340.5h0.75v0.75h-0.75zM200.8 337.6h0.75v0.75h-0.75zM203.4 334.5h0.75v0.75h-0.75zM203.9 338.6h0.75v0.75h-0.75zM202.3 330.0h0.75v0.75h-0.75zM196.8 335.4h0.75v0.75h-0.75zM207.4 334.3h0.75v0.75h-0.75zM200.3 333.9h0.75v0.75h-0.75zM197.2 344.4h0.75v0.75h-0.75zM199.2 334.7h0.75v0.75h-0.75zM196.3 341.9h0.75v0.75h-0.75zM202.9 337.6h0.75v0.75h-0.75zM202.8 333.3h0.75v0.75h-0.75zM203.9 340.3h0.75v0.75h-0.75zM196.0 336.1h0.75v0.75h-0.75zM198.3 338.1h0.75v0.75h-0.75zM197.5 335.7h0.75v0.75h-0.75zM195.0 340.2h0.75v0.75h-0.75zM197.5 341.0h0.75v0.75h-0.75zM194.1 336.2h0.75v0.75h-0.75zM200.4 336.5h0.75v0.75h-0.75zM197.6 339.7h0.75v0.75h-0.75zM197.6 336.8h0.75v0.75h-0.75zM194.3 340.4h0.75v0.75h-0.75zM204.3 332.8h0.75v0.75h-0.75zM199.7 340.5h0.75v0.75h-0.75zM198.0 335.3h0.75v0.75h-0.75zM200.4 342.8h0.75v0.75h-0.75zM198.1 337.6h0.75v0.75h-0.75zM201.5 333.7h0.75v0.75h-0.75zM198.2 342.8h0.75v0.75h-0.75zM191.8 344.3h0.75v0.75h-0.75zM204.4 338.3h0.75v0.75h-0.75zM201.1 337.6h0.75v0.75h-0.75zM197.3 331.6h0.75v0.75h-0.75zM201.0 336.5h0.75v0.75h-0.75zM202.0 340.3h0.75v0.75h-0.75zM212.0 329.9h0.75v0.75h-0.75zM208.2 331.4h0.75v0.75h-0.75zM201.7 331.4h0.75v0.75h-0.75zM201.2 333.2h0.75v0.75h-0.75zM201.0 330.4h0.75v0.75h-0.75zM205.3 326.7h0.75v0.75h-0.75zM202.3 326.7h0.75v0.75h-0.75zM200.0 337.6h0.75v0.75h-0.75zM203.9 339.8h0.75v0.75h-0.75zM194.2 340.1h0.75v0.75h-0.75zM198.9 337.5h0.75v0.75h-0.75zM205.8 329.9h0.75v0.75h-0.75zM195.0 337.6h0.75v0.75h-0.75zM204.2 330.3h0.75v0.75h-0.75zM205.6 338.8h0.75v0.75h-0.75zM196.8 336.1h0.75v0.75h-0.75zM203.6 338.0h0.75v0.75h-0.75zM199.9 336.8h0.75v0.75h-0.75zM203.8 327.6h0.75v0.75h-0.75zM206.8 327.4h0.75v0.75h-0.75zM200.2 339.6h0.75v0.75h-0.75zM192.6 343.0h0.75v0.75h-0.75zM201.4 336.3h0.75v0.75h-0.75zM200.8 335.7h0.75v0.75h-0.75zM199.7 332.0h0.75v0.75h-0.75zM209.6 327.6h0.75v0.75h-0.75zM193.9 342.1h0.75v0.75h-0.75zM198.7 334.3h0.75v0.75h-0.75zM215.2 327.2h0.75v0.75h-0.75zM198.1 337.5h0.75v0.75h-0.75zM202.9 336.3h0.75v0.75h-0.75zM209.0 328.4h0.75v0.75h-0.75zM198.6 341.9h0.75v0.75h-0.75zM205.8 331.4h0.75v0.75h-0.75zM197.5 343.0h0.75v0.75h-0.75zM203.2 339.0h0.75v0.75h-0.75zM205.5 334.8h0.75v0.75h-0.75zM201.1 336.5h0.75v0.75h-0.75zM200.2 331.4h0.75v0.75h-0.75zM202.7 338.1h0.75v0.75h-0.75zM203.6 331.4h0.75v0.75h-0.75zM199.2 341.8h0.75v0.75h-0.75zM205.5 329.1h0.75v0.75h-0.75zM193.1 342.4h0.75v0.75h-0.75zM193.0 349.3h0.75v0.75h-0.75zM199.5 339.8h0.75v0.75h-0.75zM201.0 329.7h0.75v0.75h-0.75zM209.0 330.2h0.75v0.75h-0.75zM202.2 333.8h0.75v0.75h-0.75zM201.2 338.4h0.75v0.75h-0.75zM201.9 336.8h0.75v0.75h-0.75zM192.3 341.9h0.75v0.75h-0.75zM193.9 342.0h0.75v0.75h-0.75zM196.4 331.9h0.75v0.75h-0.75zM207.7 329.9h0.75v0.75h-0.75zM198.3 337.7h0.75v0.75h-0.75zM199.1 339.8h0.75v0.75h-0.75zM207.8 329.2h0.75v0.75h-0.75zM203.1 337.0h0.75v0.75h-0.75zM193.8 343.7h0.75v0.75h-0.75zM204.4 332.7h0.75v0.75h-0.75zM198.4 333.6h0.75v0.75h-0.75zM204.9 330.2h0.75v0.75h-0.75zM200.7 330.5h0.75v0.75h-0.75zM198.4 330.8h0.75v0.75h-0.75zM195.8 342.4h0.75v0.75h-0.75zM194.2 336.1h0.75v0.75h-0.75zM196.1 337.1h0.75v0.75h-0.75zM194.0 341.1h0.75v0.75h-0.75zM196.8 341.3h0.75v0.75h-0.75zM201.7 335.9h0.75v0.75h-0.75zM201.2 337.1h0.75v0.75h-0.75zM195.6 330.7h0.75v0.75h-0.75zM192.7 333.1h0.75v0.75h-0.75zM200.7 334.4h0.75v0.75h-0.75zM212.7 327.6h0.75v0.75h-0.75zM196.1 344.4h0.75v0.75h-0.75zM214.1 322.9h0.75v0.75h-0.75zM195.6 339.1h0.75v0.75h-0.75zM193.5 337.7h0.75v0.75h-0.75zM207.5 335.3h0.75v0.75h-0.75zM205.0 333.1h0.75v0.75h-0.75zM205.8 325.1h0.75v0.75h-0.75zM206.5 325.5h0.75v0.75h-0.75zM195.0 341.3h0.75v0.75h-0.75zM194.0 341.5h0.75v0.75h-0.75zM201.0 339.7h0.75v0.75h-0.75zM199.0 337.3h0.75v0.75h-0.75zM198.4 337.0h0.75v0.75h-0.75zM198.4 337.1h0.75v0.75h-0.75zM202.2 339.2h0.75v0.75h-0.75zM200.9 323.4h0.75v0.75h-0.75zM200.9 328.2h0.75v0.75h-0.75zM194.5 342.5h0.75v0.75h-0.75zM200.5 335.6h0.75v0.75h-0.75zM197.1 332.4h0.75v0.75h-0.75zM208.9 324.0h0.75v0.75h-0.75zM195.9 342.1h0.75v0.75h-0.75zM200.3 339.0h0.75v0.75h-0.75zM205.9 327.5h0.75v0.75h-0.75zM202.1 331.7h0.75v0.75h-0.75zM200.1 335.7h0.75v0.75h-0.75zM195.7 339.6h0.75v0.75h-0.75zM195.3 351.8h0.75v0.75h-0.75zM212.4 327.8h0.75v0.75h-0.75zM192.2 330.5h0.75v0.75h-0.75zM193.8 339.2h0.75v0.75h-0.75zM197.3 336.1h0.75v0.75h-0.75zM197.5 336.7h0.75v0.75h-0.75zM207.8 332.3h0.75v0.75h-0.75zM211.1 330.1h0.75v0.75h-0.75zM201.6 344.4h0.75v0.75h-0.75zM197.2 344.7h0.75v0.75h-0.75zM195.9 344.9h0.75v0.75h-0.75zM201.5 338.1h0.75v0.75h-0.75zM198.5 349.4h0.75v0.75h-0.75zM204.0 331.2h0.75v0.75h-0.75zM211.3 325.9h0.75v0.75h-0.75zM204.3 337.9h0.75v0.75h-0.75zM201.1 339.5h0.75v0.75h-0.75zM198.8 340.2h0.75v0.75h-0.75zM197.0 337.1h0.75v0.75h-0.75zM198.6 339.5h0.75v0.75h-0.75zM199.1 344.3h0.75v0.75h-0.75zM197.0 349.4h0.75v0.75h-0.75zM200.9 336.5h0.75v0.75h-0.75zM200.0 341.5h0.75v0.75h-0.75zM198.1 341.8h0.75v0.75h-0.75zM199.9 330.4h0.75v0.75h-0.75zM200.6 344.7h0.75v0.75h-0.75zM195.8 343.7h0.75v0.75h-0.75zM194.6 345.7h0.75v0.75h-0.75zM194.8 337.9h0.75v0.75h-0.75zM200.9 337.3h0.75v0.75h-0.75zM199.3 345.1h0.75v0.75h-0.75zM204.6 331.3h0.75v0.75h-0.75zM203.0 335.6h0.75v0.75h-0.75zM202.4 333.9h0.75v0.75h-0.75zM198.3 338.5h0.75v0.75h-0.75zM195.4 339.9h0.75v0.75h-0.75zM214.2 325.1h0.75v0.75h-0.75zM197.4 334.2h0.75v0.75h-0.75zM200.2 335.3h0.75v0.75h-0.75zM204.6 340.0h0.75v0.75h-0.75zM192.5 341.2h0.75v0.75h-0.75zM192.4 337.0h0.75v0.75h-0.75zM200.0 339.1h0.75v0.75h-0.75zM197.5 346.4h0.75v0.75h-0.75zM191.5 342.4h0.75v0.75h-0.75zM200.6 332.3h0.75v0.75h-0.75zM199.3 329.7h0.75v0.75h-0.75zM193.9 340.5h0.75v0.75h-0.75zM194.6 341.2h0.75v0.75h-0.75zM201.6 340.6h0.75v0.75h-0.75zM202.4 332.3h0.75v0.75h-0.75zM195.8 341.5h0.75v0.75h-0.75zM196.7 348.0h0.75v0.75h-0.75zM199.7 334.9h0.75v0.75h-0.75zM195.4 339.4h0.75v0.75h-0.75zM198.4 339.2h0.75v0.75h-0.75zM196.2 336.8h0.75v0.75h-0.75zM198.9 335.4h0.75v0.75h-0.75zM194.6 339.8h0.75v0.75h-0.75zM198.8 336.2h0.75v0.75h-0.75zM201.4 330.5h0.75v0.75h-0.75zM200.0 339.0h0.75v0.75h-0.75zM200.3 335.7h0.75v0.75h-0.75zM196.3 337.3h0.75v0.75h-0.75zM192.8 350.7h0.75v0.75h-0.75zM202.1 337.1h0.75v0.75h-0.75zM204.8 333.4h0.75v0.75h-0.75zM201.3 336.1h0.75v0.75h-0.75zM195.1 330.8h0.75v0.75h-0.75zM203.3 339.1h0.75v0.75h-0.75zM203.0 333.7h0.75v0.75h-0.75zM203.3 338.2h0.75v0.75h-0.75zM206.2 333.8h0.75v0.75h-0.75zM205.2 325.4h0.75v0.75h-0.75zM204.8 336.6h0.75v0.75h-0.75zM194.5 340.3h0.75v0.75h-0.75z" fill="#000" opacity="0.33"/>
<path d="M202.6 355.2h0.75v0.75h-0.75zM204.7 355.2h0.75v0.75h-0.75zM199.2 349.1h0.75v0.75h-0.75zM202.6 345.4h0.75v0.75h-0.75zM192.4 352.3h0.75v0.75h-0.75zM197.8 349.1h0.75v0.75h-0.75zM206.5 336.4h0.75v0.75h-0.75zM197.2 352.9h0.75v0.75h-0.75zM197.3 356.2h0.75v0.75h-0.75zM195.1 346.5h0.75v0.75h-0.75zM192.5 343.9h0.75v0.75h-0.75zM202.4 348.7h0.75v0.75h-0.75zM202.3 353.1h0.75v0.75h-0.75zM199.2 355.3h0.75v0.75h-0.75zM197.5 345.2h0.75v0.75h-0.75zM194.7 349.8h0.75v0.75h-0.75zM203.7 345.9h0.75v0.75h-0.75zM196.8 351.7h0.75v0.75h-0.75zM210.0 341.3h0.75v0.75h-0.75zM205.8 350.6h0.75v0.75h-0.75zM195.1 351.2h0.75v0.75h-0.75zM192.8 340.9h0.75v0.75h-0.75zM195.2 346.6h0.75v0.75h-0.75zM197.6 346.6h0.75v0.75h-0.75zM191.7 352.4h0.75v0.75h-0.75zM200.2 351.2h0.75v0.75h-0.75zM201.1 354.4h0.75v0.75h-0.75zM195.8 347.0h0.75v0.75h-0.75zM201.1 342.8h0.75v0.75h-0.75zM198.5 348.6h0.75v0.75h-0.75zM199.5 353.7h0.75v0.75h-0.75zM205.7 350.9h0.75v0.75h-0.75zM191.7 344.2h0.75v0.75h-0.75zM193.0 345.2h0.75v0.75h-0.75zM201.5 345.8h0.75v0.75h-0.75zM197.6 352.5h0.75v0.75h-0.75zM192.6 349.4h0.75v0.75h-0.75zM197.7 348.1h0.75v0.75h-0.75zM193.0 349.6h0.75v0.75h-0.75zM192.4 349.5h0.75v0.75h-0.75zM194.1 342.8h0.75v0.75h-0.75zM206.9 349.0h0.75v0.75h-0.75zM193.6 351.4h0.75v0.75h-0.75zM201.2 352.5h0.75v0.75h-0.75zM195.3 349.4h0.75v0.75h-0.75zM200.3 353.2h0.75v0.75h-0.75zM199.2 348.6h0.75v0.75h-0.75zM206.4 352.4h0.75v0.75h-0.75zM202.8 344.3h0.75v0.75h-0.75zM196.2 342.9h0.75v0.75h-0.75zM211.7 340.1h0.75v0.75h-0.75zM195.6 340.0h0.75v0.75h-0.75zM201.4 344.9h0.75v0.75h-0.75zM198.5 345.5h0.75v0.75h-0.75zM196.4 349.3h0.75v0.75h-0.75zM202.9 355.2h0.75v0.75h-0.75zM199.9 336.6h0.75v0.75h-0.75zM197.0 349.8h0.75v0.75h-0.75zM199.9 339.2h0.75v0.75h-0.75zM205.4 351.1h0.75v0.75h-0.75zM198.3 345.0h0.75v0.75h-0.75zM205.9 335.8h0.75v0.75h-0.75zM194.8 355.0h0.75v0.75h-0.75zM208.3 351.2h0.75v0.75h-0.75zM209.8 346.5h0.75v0.75h-0.75zM207.4 349.1h0.75v0.75h-0.75zM205.2 350.9h0.75v0.75h-0.75zM198.6 351.6h0.75v0.75h-0.75zM207.5 342.6h0.75v0.75h-0.75zM195.2 348.4h0.75v0.75h-0.75zM194.4 348.8h0.75v0.75h-0.75zM203.6 347.7h0.75v0.75h-0.75zM198.6 352.2h0.75v0.75h-0.75zM210.0 345.9h0.75v0.75h-0.75zM194.9 353.3h0.75v0.75h-0.75zM202.7 343.0h0.75v0.75h-0.75zM193.3 346.3h0.75v0.75h-0.75zM198.8 348.9h0.75v0.75h-0.75zM206.4 346.0h0.75v0.75h-0.75zM195.2 344.5h0.75v0.75h-0.75zM193.5 354.1h0.75v0.75h-0.75zM201.8 338.3h0.75v0.75h-0.75zM198.8 354.5h0.75v0.75h-0.75zM211.1 339.3h0.75v0.75h-0.75zM194.7 343.0h0.75v0.75h-0.75zM200.7 350.1h0.75v0.75h-0.75zM208.0 349.9h0.75v0.75h-0.75zM197.4 348.4h0.75v0.75h-0.75zM206.4 343.9h0.75v0.75h-0.75zM197.2 345.5h0.75v0.75h-0.75zM196.3 355.0h0.75v0.75h-0.75zM194.9 354.4h0.75v0.75h-0.75zM194.0 343.4h0.75v0.75h-0.75zM198.7 355.4h0.75v0.75h-0.75zM197.7 349.9h0.75v0.75h-0.75zM193.3 354.8h0.75v0.75h-0.75zM203.5 345.3h0.75v0.75h-0.75zM204.0 355.0h0.75v0.75h-0.75zM206.5 350.8h0.75v0.75h-0.75zM206.5 354.2h0.75v0.75h-0.75zM199.7 340.3h0.75v0.75h-0.75zM192.7 356.4h0.75v0.75h-0.75zM194.3 348.7h0.75v0.75h-0.75zM197.8 345.6h0.75v0.75h-0.75zM210.4 346.2h0.75v0.75h-0.75zM208.9 349.5h0.75v0.75h-0.75zM197.0 349.5h0.75v0.75h-0.75zM202.8 349.5h0.75v0.75h-0.75zM199.5 345.1h0.75v0.75h-0.75zM203.3 345.2h0.75v0.75h-0.75zM195.6 344.9h0.75v0.75h-0.75zM208.6 349.8h0.75v0.75h-0.75zM196.9 355.2h0.75v0.75h-0.75zM196.5 343.0h0.75v0.75h-0.75zM200.4 351.8h0.75v0.75h-0.75zM205.6 339.6h0.75v0.75h-0.75zM194.3 354.9h0.75v0.75h-0.75zM202.6 348.3h0.75v0.75h-0.75zM194.2 343.6h0.75v0.75h-0.75zM200.6 344.3h0.75v0.75h-0.75zM199.9 353.3h0.75v0.75h-0.75zM196.2 353.9h0.75v0.75h-0.75zM208.1 355.6h0.75v0.75h-0.75zM192.8 342.8h0.75v0.75h-0.75zM192.9 341.8h0.75v0.75h-0.75zM194.2 350.3h0.75v0.75h-0.75zM199.6 351.4h0.75v0.75h-0.75zM208.6 347.4h0.75v0.75h-0.75zM193.1 343.9h0.75v0.75h-0.75zM191.8 351.5h0.75v0.75h-0.75zM208.6 350.9h0.75v0.75h-0.75zM196.5 349.9h0.75v0.75h-0.75zM206.3 346.9h0.75v0.75h-0.75zM203.8 349.4h0.75v0.75h-0.75zM195.7 354.3h0.75v0.75h-0.75zM205.6 349.0h0.75v0.75h-0.75zM193.9 342.8h0.75v0.75h-0.75zM193.4 355.8h0.75v0.75h-0.75zM200.2 350.2h0.75v0.75h-0.75zM203.0 349.4h0.75v0.75h-0.75zM201.5 345.1h0.75v0.75h-0.75zM207.8 344.5h0.75v0.75h-0.75zM204.4 336.5h0.75v0.75h-0.75zM193.3 342.9h0.75v0.75h-0.75zM202.6 342.2h0.75v0.75h-0.75zM208.9 353.4h0.75v0.75h-0.75zM213.4 353.7h0.75v0.75h-0.75zM191.8 338.5h0.75v0.75h-0.75zM194.8 345.1h0.75v0.75h-0.75zM191.9 348.9h0.75v0.75h-0.75zM209.3 354.3h0.75v0.75h-0.75zM201.2 352.1h0.75v0.75h-0.75zM194.3 355.8h0.75v0.75h-0.75zM194.3 351.3h0.75v0.75h-0.75zM194.1 346.8h0.75v0.75h-0.75zM217.3 351.5h0.75v0.75h-0.75zM202.4 354.7h0.75v0.75h-0.75zM201.7 352.9h0.75v0.75h-0.75zM200.4 343.1h0.75v0.75h-0.75zM202.2 348.7h0.75v0.75h-0.75zM209.0 341.3h0.75v0.75h-0.75zM197.4 356.7h0.75v0.75h-0.75zM195.2 354.3h0.75v0.75h-0.75zM197.8 350.8h0.75v0.75h-0.75zM195.2 353.7h0.75v0.75h-0.75zM195.2 344.8h0.75v0.75h-0.75zM203.9 345.6h0.75v0.75h-0.75zM205.0 350.6h0.75v0.75h-0.75z" fill="#000" opacity="0.3"/>
<path d="M215.2 348.6h0.75v0.75h-0.75zM213.5 353.0h0.75v0.75h-0.75zM228.9 349.0h0.75v0.75h-0.75zM218.6 354.8h0.75v0.75h-0.75zM221.6 352.1h0.75v0.75h-0.75zM215.9 354.0h0.75v0.75h-0.75zM218.1 350.6h0.75v0.75h-0.75zM208.9 353.5h0.75v0.75h-0.75zM221.8 353.2h0.75v0.75h-0.75zM214.6 354.7h0.75v0.75h-0.75zM222.5 351.4h0.75v0.75h-0.75zM211.8 353.0h0.75v0.75h-0.75zM224.4 346.8h0.75v0.75h-0.75zM221.7 351.1h0.75v0.75h-0.75zM218.1 352.7h0.75v0.75h-0.75zM224.4 352.5h0.75v0.75h-0.75zM212.0 353.4h0.75v0.75h-0.75zM221.6 351.5h0.75v0.75h-0.75zM227.4 351.1h0.75v0.75h-0.75zM224.6 355.0h0.75v0.75h-0.75zM220.5 352.7h0.75v0.75h-0.75zM217.4 350.8h0.75v0.75h-0.75zM216.0 349.7h0.75v0.75h-0.75zM216.6 350.0h0.75v0.75h-0.75zM217.1 351.2h0.75v0.75h-0.75zM225.3 348.5h0.75v0.75h-0.75zM213.8 354.8h0.75v0.75h-0.75zM225.4 354.0h0.75v0.75h-0.75zM220.0 352.4h0.75v0.75h-0.75zM225.5 349.5h0.75v0.75h-0.75zM217.3 351.2h0.75v0.75h-0.75zM210.7 353.5h0.75v0.75h-0.75zM227.8 354.0h0.75v0.75h-0.75zM216.6 351.3h0.75v0.75h-0.75zM213.3 351.6h0.75v0.75h-0.75zM221.1 348.8h0.75v0.75h-0.75zM223.8 348.2h0.75v0.75h-0.75zM215.3 352.0h0.75v0.75h-0.75zM223.8 351.9h0.75v0.75h-0.75zM211.8 348.4h0.75v0.75h-0.75zM219.7 352.8h0.75v0.75h-0.75zM221.1 347.9h0.75v0.75h-0.75zM221.5 353.9h0.75v0.75h-0.75zM213.8 349.7h0.75v0.75h-0.75zM222.7 349.6h0.75v0.75h-0.75zM222.5 356.1h0.75v0.75h-0.75zM215.3 353.0h0.75v0.75h-0.75zM221.6 353.5h0.75v0.75h-0.75zM221.3 353.1h0.75v0.75h-0.75zM216.3 351.9h0.75v0.75h-0.75zM222.7 355.6h0.75v0.75h-0.75zM222.9 355.9h0.75v0.75h-0.75zM223.7 352.3h0.75v0.75h-0.75zM223.1 354.6h0.75v0.75h-0.75zM209.9 352.4h0.75v0.75h-0.75zM209.1 354.0h0.75v0.75h-0.75zM225.9 353.3h0.75v0.75h-0.75zM223.7 352.9h0.75v0.75h-0.75zM222.4 351.0h0.75v0.75h-0.75zM233.5 354.7h0.75v0.75h-0.75zM226.4 352.3h0.75v0.75h-0.75zM223.5 354.9h0.75v0.75h-0.75zM220.3 350.8h0.75v0.75h-0.75zM226.2 350.1h0.75v0.75h-0.75zM221.6 353.2h0.75v0.75h-0.75zM211.5 354.9h0.75v0.75h-0.75zM221.3 350.8h0.75v0.75h-0.75zM224.2 349.4h0.75v0.75h-0.75zM225.6 352.7h0.75v0.75h-0.75zM217.6 355.3h0.75v0.75h-0.75zM219.4 350.7h0.75v0.75h-0.75zM220.7 352.4h0.75v0.75h-0.75zM210.3 351.0h0.75v0.75h-0.75zM217.9 356.1h0.75v0.75h-0.75zM223.4 349.8h0.75v0.75h-0.75zM219.7 352.2h0.75v0.75h-0.75zM226.2 354.7h0.75v0.75h-0.75zM219.3 351.7h0.75v0.75h-0.75zM211.0 347.6h0.75v0.75h-0.75zM219.8 350.3h0.75v0.75h-0.75zM223.1 356.6h0.75v0.75h-0.75zM218.6 352.6h0.75v0.75h-0.75zM227.3 352.4h0.75v0.75h-0.75zM217.6 350.5h0.75v0.75h-0.75zM223.3 350.7h0.75v0.75h-0.75zM219.0 353.9h0.75v0.75h-0.75zM213.6 348.4h0.75v0.75h-0.75zM220.3 351.2h0.75v0.75h-0.75zM215.7 350.3h0.75v0.75h-0.75zM225.9 353.9h0.75v0.75h-0.75zM220.1 353.0h0.75v0.75h-0.75zM220.8 351.8h0.75v0.75h-0.75zM213.5 352.2h0.75v0.75h-0.75zM220.8 352.4h0.75v0.75h-0.75zM215.8 355.1h0.75v0.75h-0.75zM211.0 350.5h0.75v0.75h-0.75zM213.5 350.7h0.75v0.75h-0.75zM221.6 351.9h0.75v0.75h-0.75zM214.2 352.5h0.75v0.75h-0.75zM225.4 351.6h0.75v0.75h-0.75zM209.3 352.0h0.75v0.75h-0.75zM227.2 351.7h0.75v0.75h-0.75zM222.1 352.4h0.75v0.75h-0.75zM220.2 352.6h0.75v0.75h-0.75zM232.2 353.4h0.75v0.75h-0.75zM211.3 354.3h0.75v0.75h-0.75zM218.7 353.8h0.75v0.75h-0.75zM221.3 351.9h0.75v0.75h-0.75zM220.3 351.3h0.75v0.75h-0.75zM213.1 352.4h0.75v0.75h-0.75zM212.1 350.6h0.75v0.75h-0.75zM226.8 355.7h0.75v0.75h-0.75zM220.2 353.9h0.75v0.75h-0.75zM222.7 352.6h0.75v0.75h-0.75zM213.6 350.5h0.75v0.75h-0.75zM228.8 350.6h0.75v0.75h-0.75zM216.1 353.8h0.75v0.75h-0.75zM214.6 352.0h0.75v0.75h-0.75zM214.0 354.9h0.75v0.75h-0.75zM225.1 349.4h0.75v0.75h-0.75zM215.5 343.4h0.75v0.75h-0.75zM213.3 352.4h0.75v0.75h-0.75zM213.4 348.4h0.75v0.75h-0.75zM215.4 352.7h0.75v0.75h-0.75zM227.7 351.9h0.75v0.75h-0.75zM217.9 351.0h0.75v0.75h-0.75z" fill="#000" opacity="0.28"/>
</g>
<line x1="190.6" y1="309.0" x2="190.6" y2="357.9" stroke="#222" stroke-width="1.3" stroke-dasharray="1.2,0.8"/>
<line x1="190.6" y1="357.9" x2="238.3" y2="357.9" stroke="#222" stroke-width="1.3" stroke-dasharray="1.2,0.8"/>
<line x1="238.3" y1="310.0" x2="238.3" y2="345.3" stroke="#bbb" stroke-width="1.3"/>
<line x1="210.2" y1="309.0" x2="210.2" y2="357.9" stroke="#222" stroke-width="1.1"/>
<line x1="190.6" y1="345.3" x2="238.3" y2="345.3" stroke="#222" stroke-width="1.1"/>
<text x="203.6" y="304.0" font-size="11.2" textLength="24.2" lengthAdjust="spacingAndGlyphs" fill="#111">GFP</text>
<line x1="228.2" y1="299.2" x2="229.79999999999998" y2="299.2" stroke="#222" stroke-width="0.9"/>
<text x="191.8" y="322.8" font-size="9.2" font-weight="bold" fill="#111" style="stroke-width:0.15px">38%</text>
<text x="221.3" y="355.2" font-size="9.2" font-weight="bold" fill="#111" style="stroke-width:0.15px">12%</text>
<g filter="url(#soft)">
<ellipse cx="267" cy="348.5" rx="3.6" ry="4.4" fill="#000" opacity="0.95" filter="url(#bl)"/>
<ellipse cx="266" cy="335" rx="2.6" ry="5" fill="#000" opacity="0.18" filter="url(#bl)"/>
<path d="M265.6 341.1h0.8v0.8h-0.8zM268.6 354.1h0.8v0.8h-0.8zM271.5 352.2h0.8v0.8h-0.8zM269.9 353.6h0.8v0.8h-0.8zM266.1 341.8h0.8v0.8h-0.8zM261.0 351.4h0.8v0.8h-0.8zM268.6 348.3h0.8v0.8h-0.8zM259.0 347.4h0.8v0.8h-0.8zM266.8 344.2h0.8v0.8h-0.8zM271.7 351.9h0.8v0.8h-0.8zM268.0 346.5h0.8v0.8h-0.8zM265.7 351.5h0.8v0.8h-0.8zM264.0 347.5h0.8v0.8h-0.8zM272.7 342.9h0.8v0.8h-0.8zM268.3 349.3h0.8v0.8h-0.8zM264.1 342.3h0.8v0.8h-0.8zM271.2 337.2h0.8v0.8h-0.8zM268.6 346.1h0.8v0.8h-0.8zM266.7 339.4h0.8v0.8h-0.8zM270.1 351.1h0.8v0.8h-0.8zM268.0 350.3h0.8v0.8h-0.8zM262.3 349.3h0.8v0.8h-0.8zM268.7 348.2h0.8v0.8h-0.8zM267.4 343.6h0.8v0.8h-0.8zM267.2 354.1h0.8v0.8h-0.8zM266.7 354.2h0.8v0.8h-0.8zM265.1 345.3h0.8v0.8h-0.8zM267.9 344.6h0.8v0.8h-0.8zM261.1 350.0h0.8v0.8h-0.8zM267.0 351.1h0.8v0.8h-0.8zM263.9 346.6h0.8v0.8h-0.8zM268.7 346.3h0.8v0.8h-0.8zM266.2 349.5h0.8v0.8h-0.8zM264.4 349.6h0.8v0.8h-0.8zM261.8 350.7h0.8v0.8h-0.8zM276.4 351.3h0.8v0.8h-0.8zM265.6 341.4h0.8v0.8h-0.8zM262.9 347.2h0.8v0.8h-0.8zM264.3 350.7h0.8v0.8h-0.8zM267.5 351.8h0.8v0.8h-0.8zM266.2 352.0h0.8v0.8h-0.8zM271.8 344.6h0.8v0.8h-0.8zM266.6 347.9h0.8v0.8h-0.8zM266.7 353.5h0.8v0.8h-0.8zM265.8 344.6h0.8v0.8h-0.8zM262.3 342.1h0.8v0.8h-0.8zM266.7 352.4h0.8v0.8h-0.8zM267.2 345.0h0.8v0.8h-0.8zM266.4 344.5h0.8v0.8h-0.8zM270.5 349.0h0.8v0.8h-0.8zM272.1 351.4h0.8v0.8h-0.8zM269.2 344.4h0.8v0.8h-0.8zM268.8 346.9h0.8v0.8h-0.8zM265.1 349.3h0.8v0.8h-0.8zM272.7 350.7h0.8v0.8h-0.8zM274.1 351.5h0.8v0.8h-0.8zM262.3 346.3h0.8v0.8h-0.8zM273.6 351.2h0.8v0.8h-0.8zM267.4 346.7h0.8v0.8h-0.8zM267.7 350.5h0.8v0.8h-0.8zM265.7 348.5h0.8v0.8h-0.8zM268.1 344.0h0.8v0.8h-0.8zM266.3 345.6h0.8v0.8h-0.8zM265.0 344.9h0.8v0.8h-0.8zM265.0 345.2h0.8v0.8h-0.8zM273.2 348.0h0.8v0.8h-0.8zM268.5 345.3h0.8v0.8h-0.8zM267.7 350.7h0.8v0.8h-0.8zM267.5 354.0h0.8v0.8h-0.8zM267.0 351.9h0.8v0.8h-0.8zM266.9 343.0h0.8v0.8h-0.8zM269.2 347.5h0.8v0.8h-0.8zM266.9 349.9h0.8v0.8h-0.8zM263.7 346.7h0.8v0.8h-0.8zM264.1 354.2h0.8v0.8h-0.8zM266.3 346.3h0.8v0.8h-0.8zM268.9 349.2h0.8v0.8h-0.8zM269.1 342.6h0.8v0.8h-0.8zM267.3 351.4h0.8v0.8h-0.8zM265.3 354.1h0.8v0.8h-0.8zM267.0 345.5h0.8v0.8h-0.8zM265.9 351.1h0.8v0.8h-0.8zM270.8 346.8h0.8v0.8h-0.8zM269.2 347.4h0.8v0.8h-0.8zM264.2 344.7h0.8v0.8h-0.8zM269.8 346.9h0.8v0.8h-0.8zM270.6 347.1h0.8v0.8h-0.8zM266.3 350.0h0.8v0.8h-0.8zM260.2 351.6h0.8v0.8h-0.8zM264.8 351.9h0.8v0.8h-0.8zM264.8 347.3h0.8v0.8h-0.8zM270.0 351.5h0.8v0.8h-0.8zM273.4 346.8h0.8v0.8h-0.8zM265.2 355.1h0.8v0.8h-0.8zM269.1 343.9h0.8v0.8h-0.8zM265.7 350.5h0.8v0.8h-0.8zM265.6 342.7h0.8v0.8h-0.8zM267.4 350.7h0.8v0.8h-0.8zM271.5 353.4h0.8v0.8h-0.8zM269.9 345.3h0.8v0.8h-0.8zM263.2 344.5h0.8v0.8h-0.8zM269.1 352.5h0.8v0.8h-0.8zM260.9 351.1h0.8v0.8h-0.8zM270.2 355.1h0.8v0.8h-0.8zM269.8 352.8h0.8v0.8h-0.8zM268.0 347.5h0.8v0.8h-0.8zM266.7 348.5h0.8v0.8h-0.8zM263.3 348.2h0.8v0.8h-0.8zM270.6 347.3h0.8v0.8h-0.8zM271.4 345.0h0.8v0.8h-0.8zM268.6 345.4h0.8v0.8h-0.8zM270.8 351.7h0.8v0.8h-0.8zM270.4 352.1h0.8v0.8h-0.8zM268.9 353.4h0.8v0.8h-0.8zM267.8 338.3h0.8v0.8h-0.8zM267.6 350.9h0.8v0.8h-0.8zM259.4 353.6h0.8v0.8h-0.8zM266.9 353.0h0.8v0.8h-0.8zM266.2 349.5h0.8v0.8h-0.8zM264.3 347.7h0.8v0.8h-0.8zM261.8 349.7h0.8v0.8h-0.8zM265.8 345.9h0.8v0.8h-0.8zM264.6 344.5h0.8v0.8h-0.8zM267.0 348.2h0.8v0.8h-0.8zM266.1 354.4h0.8v0.8h-0.8zM263.5 346.8h0.8v0.8h-0.8zM262.6 347.5h0.8v0.8h-0.8zM266.5 340.9h0.8v0.8h-0.8zM268.2 339.9h0.8v0.8h-0.8zM265.3 347.4h0.8v0.8h-0.8zM262.7 354.3h0.8v0.8h-0.8zM267.6 343.0h0.8v0.8h-0.8zM268.3 350.2h0.8v0.8h-0.8zM265.1 345.0h0.8v0.8h-0.8zM261.2 341.6h0.8v0.8h-0.8zM267.3 345.9h0.8v0.8h-0.8zM263.5 350.4h0.8v0.8h-0.8zM266.9 343.1h0.8v0.8h-0.8zM266.3 343.7h0.8v0.8h-0.8zM266.2 354.8h0.8v0.8h-0.8zM270.6 353.1h0.8v0.8h-0.8zM267.5 346.4h0.8v0.8h-0.8zM274.1 348.6h0.8v0.8h-0.8zM268.5 353.0h0.8v0.8h-0.8zM266.6 350.6h0.8v0.8h-0.8zM266.9 350.1h0.8v0.8h-0.8zM270.1 342.9h0.8v0.8h-0.8zM267.4 346.3h0.8v0.8h-0.8zM266.4 350.1h0.8v0.8h-0.8zM272.1 339.7h0.8v0.8h-0.8zM272.8 346.1h0.8v0.8h-0.8zM264.2 345.4h0.8v0.8h-0.8zM267.6 349.2h0.8v0.8h-0.8zM261.0 341.5h0.8v0.8h-0.8zM270.3 348.0h0.8v0.8h-0.8zM260.5 347.4h0.8v0.8h-0.8zM265.9 354.9h0.8v0.8h-0.8zM264.2 346.0h0.8v0.8h-0.8zM265.6 350.0h0.8v0.8h-0.8zM268.6 351.2h0.8v0.8h-0.8zM272.9 348.0h0.8v0.8h-0.8zM272.4 348.9h0.8v0.8h-0.8zM269.6 352.6h0.8v0.8h-0.8zM273.1 344.3h0.8v0.8h-0.8zM274.6 340.3h0.8v0.8h-0.8zM266.5 347.8h0.8v0.8h-0.8zM266.9 354.4h0.8v0.8h-0.8zM261.2 343.5h0.8v0.8h-0.8zM263.2 346.0h0.8v0.8h-0.8zM269.2 351.1h0.8v0.8h-0.8zM261.7 347.9h0.8v0.8h-0.8zM265.1 343.3h0.8v0.8h-0.8zM266.3 344.9h0.8v0.8h-0.8zM265.0 344.0h0.8v0.8h-0.8zM273.3 346.8h0.8v0.8h-0.8zM265.4 337.6h0.8v0.8h-0.8zM261.6 354.6h0.8v0.8h-0.8zM264.0 346.5h0.8v0.8h-0.8zM266.2 349.2h0.8v0.8h-0.8zM273.5 341.5h0.8v0.8h-0.8zM261.4 355.2h0.8v0.8h-0.8zM269.4 351.8h0.8v0.8h-0.8zM271.5 348.2h0.8v0.8h-0.8zM269.5 353.2h0.8v0.8h-0.8zM272.0 349.5h0.8v0.8h-0.8zM263.1 345.5h0.8v0.8h-0.8zM266.3 346.9h0.8v0.8h-0.8zM271.0 343.9h0.8v0.8h-0.8zM268.8 346.7h0.8v0.8h-0.8zM267.7 354.8h0.8v0.8h-0.8zM270.7 346.1h0.8v0.8h-0.8zM267.1 352.8h0.8v0.8h-0.8zM267.2 353.1h0.8v0.8h-0.8zM271.7 347.0h0.8v0.8h-0.8zM269.3 345.7h0.8v0.8h-0.8zM271.7 348.5h0.8v0.8h-0.8zM266.2 350.4h0.8v0.8h-0.8zM269.7 346.3h0.8v0.8h-0.8zM268.3 351.3h0.8v0.8h-0.8zM270.0 348.4h0.8v0.8h-0.8zM264.6 349.0h0.8v0.8h-0.8zM268.5 349.5h0.8v0.8h-0.8zM270.3 350.1h0.8v0.8h-0.8zM262.5 351.1h0.8v0.8h-0.8zM270.3 341.4h0.8v0.8h-0.8zM269.6 352.4h0.8v0.8h-0.8zM268.7 351.1h0.8v0.8h-0.8zM264.6 351.1h0.8v0.8h-0.8zM268.9 345.0h0.8v0.8h-0.8zM269.3 353.1h0.8v0.8h-0.8zM268.4 350.0h0.8v0.8h-0.8zM269.5 349.8h0.8v0.8h-0.8zM267.3 346.9h0.8v0.8h-0.8zM261.7 343.1h0.8v0.8h-0.8zM267.6 355.1h0.8v0.8h-0.8zM265.6 338.4h0.8v0.8h-0.8zM269.7 344.0h0.8v0.8h-0.8zM264.3 350.2h0.8v0.8h-0.8zM267.8 349.4h0.8v0.8h-0.8zM265.4 345.9h0.8v0.8h-0.8zM269.0 352.3h0.8v0.8h-0.8zM269.8 353.0h0.8v0.8h-0.8zM269.9 347.3h0.8v0.8h-0.8zM268.9 349.0h0.8v0.8h-0.8zM271.1 346.7h0.8v0.8h-0.8zM265.9 349.6h0.8v0.8h-0.8zM267.4 347.7h0.8v0.8h-0.8zM266.7 355.0h0.8v0.8h-0.8zM266.3 346.1h0.8v0.8h-0.8zM271.7 348.1h0.8v0.8h-0.8zM266.1 345.8h0.8v0.8h-0.8zM267.2 347.6h0.8v0.8h-0.8zM266.5 348.0h0.8v0.8h-0.8zM268.0 343.3h0.8v0.8h-0.8zM264.2 346.9h0.8v0.8h-0.8zM267.2 347.5h0.8v0.8h-0.8zM267.3 349.0h0.8v0.8h-0.8zM266.2 347.5h0.8v0.8h-0.8zM273.3 348.8h0.8v0.8h-0.8zM265.8 352.0h0.8v0.8h-0.8zM268.5 345.1h0.8v0.8h-0.8zM272.2 338.3h0.8v0.8h-0.8zM268.8 350.3h0.8v0.8h-0.8zM269.5 348.7h0.8v0.8h-0.8zM259.5 342.3h0.8v0.8h-0.8zM268.4 342.4h0.8v0.8h-0.8zM261.9 351.3h0.8v0.8h-0.8zM265.0 350.7h0.8v0.8h-0.8zM270.1 344.0h0.8v0.8h-0.8zM264.2 351.1h0.8v0.8h-0.8zM266.8 344.6h0.8v0.8h-0.8zM263.3 347.7h0.8v0.8h-0.8zM264.6 350.7h0.8v0.8h-0.8zM265.9 346.4h0.8v0.8h-0.8zM268.6 352.0h0.8v0.8h-0.8zM263.9 345.8h0.8v0.8h-0.8zM264.0 343.5h0.8v0.8h-0.8zM266.7 349.9h0.8v0.8h-0.8zM264.8 344.3h0.8v0.8h-0.8zM268.0 350.1h0.8v0.8h-0.8zM264.8 345.7h0.8v0.8h-0.8zM266.2 347.1h0.8v0.8h-0.8zM262.6 349.0h0.8v0.8h-0.8zM265.4 349.4h0.8v0.8h-0.8zM269.4 350.2h0.8v0.8h-0.8zM271.8 351.2h0.8v0.8h-0.8zM270.7 347.1h0.8v0.8h-0.8zM269.2 353.3h0.8v0.8h-0.8zM269.9 346.7h0.8v0.8h-0.8zM266.7 345.8h0.8v0.8h-0.8zM266.8 352.2h0.8v0.8h-0.8zM261.1 342.5h0.8v0.8h-0.8zM267.5 349.5h0.8v0.8h-0.8zM266.9 354.3h0.8v0.8h-0.8zM265.4 344.0h0.8v0.8h-0.8zM266.4 344.0h0.8v0.8h-0.8zM266.8 348.9h0.8v0.8h-0.8zM268.2 351.2h0.8v0.8h-0.8zM266.4 345.2h0.8v0.8h-0.8zM269.3 353.9h0.8v0.8h-0.8zM264.4 343.6h0.8v0.8h-0.8zM264.8 345.0h0.8v0.8h-0.8zM269.0 347.0h0.8v0.8h-0.8zM265.7 353.5h0.8v0.8h-0.8zM263.4 346.1h0.8v0.8h-0.8zM271.4 352.3h0.8v0.8h-0.8zM270.0 348.0h0.8v0.8h-0.8zM267.8 346.7h0.8v0.8h-0.8zM270.3 351.9h0.8v0.8h-0.8zM270.8 346.4h0.8v0.8h-0.8zM267.2 350.8h0.8v0.8h-0.8zM271.3 345.3h0.8v0.8h-0.8zM269.5 348.3h0.8v0.8h-0.8zM267.1 346.1h0.8v0.8h-0.8zM269.3 351.4h0.8v0.8h-0.8zM263.8 354.0h0.8v0.8h-0.8zM264.5 350.1h0.8v0.8h-0.8zM271.8 343.2h0.8v0.8h-0.8zM261.8 350.7h0.8v0.8h-0.8zM269.4 350.2h0.8v0.8h-0.8zM269.7 345.2h0.8v0.8h-0.8zM268.7 350.3h0.8v0.8h-0.8zM269.4 346.0h0.8v0.8h-0.8zM275.8 348.1h0.8v0.8h-0.8zM261.5 344.5h0.8v0.8h-0.8zM263.5 354.1h0.8v0.8h-0.8zM270.5 350.1h0.8v0.8h-0.8zM269.5 348.8h0.8v0.8h-0.8zM271.1 346.3h0.8v0.8h-0.8zM272.8 350.7h0.8v0.8h-0.8zM272.6 341.5h0.8v0.8h-0.8zM265.3 349.3h0.8v0.8h-0.8zM267.6 343.2h0.8v0.8h-0.8zM270.6 349.9h0.8v0.8h-0.8zM262.9 343.9h0.8v0.8h-0.8zM265.0 346.1h0.8v0.8h-0.8zM267.9 349.2h0.8v0.8h-0.8zM269.4 351.2h0.8v0.8h-0.8zM261.5 354.2h0.8v0.8h-0.8zM261.0 348.4h0.8v0.8h-0.8zM264.8 342.9h0.8v0.8h-0.8zM270.5 341.9h0.8v0.8h-0.8zM265.7 344.1h0.8v0.8h-0.8zM268.4 346.0h0.8v0.8h-0.8zM266.9 350.6h0.8v0.8h-0.8zM267.6 350.3h0.8v0.8h-0.8zM268.1 351.7h0.8v0.8h-0.8zM264.3 337.3h0.8v0.8h-0.8zM263.8 343.6h0.8v0.8h-0.8zM265.2 348.0h0.8v0.8h-0.8zM266.4 343.2h0.8v0.8h-0.8zM261.1 350.5h0.8v0.8h-0.8zM268.8 347.7h0.8v0.8h-0.8zM270.1 348.9h0.8v0.8h-0.8zM263.6 346.3h0.8v0.8h-0.8zM266.3 351.5h0.8v0.8h-0.8zM265.7 349.1h0.8v0.8h-0.8zM260.2 349.0h0.8v0.8h-0.8zM271.0 343.7h0.8v0.8h-0.8zM268.3 352.1h0.8v0.8h-0.8zM268.6 350.3h0.8v0.8h-0.8zM268.1 348.8h0.8v0.8h-0.8zM266.6 345.4h0.8v0.8h-0.8zM265.3 344.4h0.8v0.8h-0.8zM266.8 354.4h0.8v0.8h-0.8zM264.9 348.7h0.8v0.8h-0.8zM266.5 353.2h0.8v0.8h-0.8zM267.3 353.1h0.8v0.8h-0.8zM270.2 354.3h0.8v0.8h-0.8zM267.5 349.5h0.8v0.8h-0.8zM269.7 342.7h0.8v0.8h-0.8zM261.4 353.5h0.8v0.8h-0.8zM266.2 352.3h0.8v0.8h-0.8zM270.5 342.7h0.8v0.8h-0.8zM269.8 347.4h0.8v0.8h-0.8zM266.3 339.6h0.8v0.8h-0.8zM266.3 344.9h0.8v0.8h-0.8zM272.3 345.4h0.8v0.8h-0.8zM270.5 349.8h0.8v0.8h-0.8zM272.6 347.1h0.8v0.8h-0.8zM266.6 347.0h0.8v0.8h-0.8zM268.4 345.9h0.8v0.8h-0.8zM268.1 354.9h0.8v0.8h-0.8zM267.7 347.1h0.8v0.8h-0.8zM268.9 349.2h0.8v0.8h-0.8zM269.3 349.9h0.8v0.8h-0.8zM266.6 349.1h0.8v0.8h-0.8zM266.0 341.3h0.8v0.8h-0.8zM264.3 351.7h0.8v0.8h-0.8zM258.9 342.3h0.8v0.8h-0.8zM267.2 345.9h0.8v0.8h-0.8zM264.4 347.4h0.8v0.8h-0.8zM272.3 343.9h0.8v0.8h-0.8zM259.4 350.7h0.8v0.8h-0.8zM268.3 341.2h0.8v0.8h-0.8zM263.3 354.4h0.8v0.8h-0.8zM270.2 355.0h0.8v0.8h-0.8zM261.9 354.5h0.8v0.8h-0.8zM264.5 349.2h0.8v0.8h-0.8zM266.7 352.2h0.8v0.8h-0.8zM269.6 345.4h0.8v0.8h-0.8zM267.2 347.2h0.8v0.8h-0.8zM259.4 348.2h0.8v0.8h-0.8zM266.8 348.7h0.8v0.8h-0.8zM262.2 345.8h0.8v0.8h-0.8zM267.2 342.7h0.8v0.8h-0.8zM264.1 350.7h0.8v0.8h-0.8zM272.6 354.6h0.8v0.8h-0.8zM268.6 348.4h0.8v0.8h-0.8zM267.5 349.2h0.8v0.8h-0.8zM263.4 353.5h0.8v0.8h-0.8zM265.3 350.7h0.8v0.8h-0.8zM262.7 350.0h0.8v0.8h-0.8zM263.6 346.5h0.8v0.8h-0.8zM264.0 350.7h0.8v0.8h-0.8zM265.3 345.8h0.8v0.8h-0.8zM271.7 348.0h0.8v0.8h-0.8zM269.6 343.7h0.8v0.8h-0.8zM267.5 348.5h0.8v0.8h-0.8zM265.9 353.4h0.8v0.8h-0.8zM270.2 346.8h0.8v0.8h-0.8zM268.3 353.7h0.8v0.8h-0.8zM267.5 348.5h0.8v0.8h-0.8zM270.9 351.2h0.8v0.8h-0.8zM272.0 349.6h0.8v0.8h-0.8zM265.6 353.6h0.8v0.8h-0.8zM265.1 344.4h0.8v0.8h-0.8zM264.9 349.4h0.8v0.8h-0.8zM271.5 348.8h0.8v0.8h-0.8zM267.8 353.4h0.8v0.8h-0.8zM267.1 350.4h0.8v0.8h-0.8zM262.4 349.2h0.8v0.8h-0.8zM260.0 354.0h0.8v0.8h-0.8zM270.5 344.5h0.8v0.8h-0.8zM264.7 340.6h0.8v0.8h-0.8zM260.2 352.5h0.8v0.8h-0.8zM268.0 347.2h0.8v0.8h-0.8zM271.4 348.7h0.8v0.8h-0.8zM264.4 351.4h0.8v0.8h-0.8zM270.2 349.9h0.8v0.8h-0.8zM262.9 344.1h0.8v0.8h-0.8zM262.7 345.5h0.8v0.8h-0.8zM260.0 352.3h0.8v0.8h-0.8zM267.4 353.1h0.8v0.8h-0.8zM262.9 354.5h0.8v0.8h-0.8zM265.8 349.9h0.8v0.8h-0.8zM266.4 342.6h0.8v0.8h-0.8zM269.5 348.6h0.8v0.8h-0.8zM271.6 343.3h0.8v0.8h-0.8zM264.4 347.6h0.8v0.8h-0.8zM271.9 350.6h0.8v0.8h-0.8zM268.0 351.1h0.8v0.8h-0.8zM270.0 349.6h0.8v0.8h-0.8zM261.5 350.0h0.8v0.8h-0.8zM267.7 350.0h0.8v0.8h-0.8zM266.2 352.2h0.8v0.8h-0.8zM272.8 346.4h0.8v0.8h-0.8zM262.2 351.2h0.8v0.8h-0.8zM263.6 351.9h0.8v0.8h-0.8zM266.4 345.4h0.8v0.8h-0.8zM271.8 350.6h0.8v0.8h-0.8zM265.3 340.6h0.8v0.8h-0.8zM270.3 350.9h0.8v0.8h-0.8zM264.6 348.2h0.8v0.8h-0.8zM263.1 350.8h0.8v0.8h-0.8zM268.3 347.6h0.8v0.8h-0.8zM263.6 348.3h0.8v0.8h-0.8z" fill="#000" opacity="0.6"/>
<path d="M260.0 330.1h0.75v0.75h-0.75zM272.2 325.5h0.75v0.75h-0.75zM264.9 333.5h0.75v0.75h-0.75zM263.1 339.0h0.75v0.75h-0.75zM265.3 341.4h0.75v0.75h-0.75zM264.5 340.6h0.75v0.75h-0.75zM270.1 339.2h0.75v0.75h-0.75zM264.0 333.0h0.75v0.75h-0.75zM268.6 340.1h0.75v0.75h-0.75zM264.1 335.8h0.75v0.75h-0.75zM267.5 336.1h0.75v0.75h-0.75zM266.0 330.0h0.75v0.75h-0.75zM265.6 329.8h0.75v0.75h-0.75zM262.2 327.9h0.75v0.75h-0.75zM267.0 341.3h0.75v0.75h-0.75zM264.3 335.2h0.75v0.75h-0.75zM259.5 324.4h0.75v0.75h-0.75zM266.4 332.2h0.75v0.75h-0.75zM263.8 342.4h0.75v0.75h-0.75zM264.3 341.5h0.75v0.75h-0.75zM263.0 334.4h0.75v0.75h-0.75zM268.3 331.7h0.75v0.75h-0.75zM268.1 340.5h0.75v0.75h-0.75zM265.7 337.9h0.75v0.75h-0.75zM265.2 334.1h0.75v0.75h-0.75zM265.0 332.7h0.75v0.75h-0.75zM268.6 330.5h0.75v0.75h-0.75zM269.7 337.7h0.75v0.75h-0.75zM265.0 335.7h0.75v0.75h-0.75zM268.4 328.8h0.75v0.75h-0.75zM262.5 324.9h0.75v0.75h-0.75zM265.2 339.0h0.75v0.75h-0.75zM265.8 333.9h0.75v0.75h-0.75zM266.2 334.4h0.75v0.75h-0.75zM263.7 330.0h0.75v0.75h-0.75zM268.5 341.5h0.75v0.75h-0.75zM264.2 333.6h0.75v0.75h-0.75zM265.8 338.6h0.75v0.75h-0.75zM263.6 323.6h0.75v0.75h-0.75zM268.0 337.2h0.75v0.75h-0.75zM266.7 339.3h0.75v0.75h-0.75zM266.5 336.5h0.75v0.75h-0.75zM262.3 323.5h0.75v0.75h-0.75zM266.2 337.4h0.75v0.75h-0.75zM265.2 340.0h0.75v0.75h-0.75zM264.2 335.8h0.75v0.75h-0.75zM266.8 338.0h0.75v0.75h-0.75zM268.9 332.3h0.75v0.75h-0.75zM263.6 338.1h0.75v0.75h-0.75zM270.1 333.7h0.75v0.75h-0.75zM268.1 324.6h0.75v0.75h-0.75zM265.8 340.9h0.75v0.75h-0.75zM268.2 337.1h0.75v0.75h-0.75zM266.3 328.1h0.75v0.75h-0.75zM262.4 329.7h0.75v0.75h-0.75zM265.0 330.5h0.75v0.75h-0.75zM264.8 335.4h0.75v0.75h-0.75zM265.8 339.1h0.75v0.75h-0.75zM267.4 327.4h0.75v0.75h-0.75zM264.9 340.6h0.75v0.75h-0.75zM270.6 331.7h0.75v0.75h-0.75zM263.5 322.4h0.75v0.75h-0.75zM265.5 329.6h0.75v0.75h-0.75zM262.8 321.1h0.75v0.75h-0.75zM271.6 335.3h0.75v0.75h-0.75zM264.6 331.0h0.75v0.75h-0.75zM269.5 342.8h0.75v0.75h-0.75zM261.5 342.8h0.75v0.75h-0.75zM266.7 339.7h0.75v0.75h-0.75zM267.8 337.9h0.75v0.75h-0.75zM268.9 339.6h0.75v0.75h-0.75zM267.5 333.7h0.75v0.75h-0.75zM269.3 338.4h0.75v0.75h-0.75zM266.4 334.0h0.75v0.75h-0.75zM261.2 340.6h0.75v0.75h-0.75zM267.4 331.6h0.75v0.75h-0.75zM265.4 340.6h0.75v0.75h-0.75zM268.0 331.4h0.75v0.75h-0.75zM268.6 342.1h0.75v0.75h-0.75zM266.7 331.6h0.75v0.75h-0.75zM265.8 336.0h0.75v0.75h-0.75zM265.0 333.6h0.75v0.75h-0.75zM268.1 331.3h0.75v0.75h-0.75zM263.4 332.5h0.75v0.75h-0.75zM264.3 330.2h0.75v0.75h-0.75zM270.9 328.2h0.75v0.75h-0.75zM268.5 343.0h0.75v0.75h-0.75zM269.8 339.0h0.75v0.75h-0.75zM267.4 336.3h0.75v0.75h-0.75zM267.3 338.9h0.75v0.75h-0.75zM267.8 339.3h0.75v0.75h-0.75zM266.9 332.7h0.75v0.75h-0.75zM264.6 330.9h0.75v0.75h-0.75zM265.3 338.0h0.75v0.75h-0.75zM263.6 338.4h0.75v0.75h-0.75zM267.5 340.1h0.75v0.75h-0.75zM266.8 339.8h0.75v0.75h-0.75zM271.7 337.3h0.75v0.75h-0.75zM265.2 339.1h0.75v0.75h-0.75zM262.5 333.7h0.75v0.75h-0.75zM265.2 335.2h0.75v0.75h-0.75zM263.9 333.0h0.75v0.75h-0.75zM270.8 324.7h0.75v0.75h-0.75zM261.9 339.6h0.75v0.75h-0.75zM265.4 313.7h0.75v0.75h-0.75zM267.8 337.1h0.75v0.75h-0.75zM268.1 326.8h0.75v0.75h-0.75zM263.9 338.1h0.75v0.75h-0.75zM265.0 333.2h0.75v0.75h-0.75zM266.4 322.0h0.75v0.75h-0.75zM269.2 321.2h0.75v0.75h-0.75zM265.0 330.9h0.75v0.75h-0.75zM266.6 331.0h0.75v0.75h-0.75zM265.9 326.5h0.75v0.75h-0.75zM264.4 340.0h0.75v0.75h-0.75zM272.4 341.6h0.75v0.75h-0.75zM266.8 339.0h0.75v0.75h-0.75zM268.2 320.3h0.75v0.75h-0.75zM266.8 321.2h0.75v0.75h-0.75zM269.6 342.4h0.75v0.75h-0.75zM264.6 332.5h0.75v0.75h-0.75zM265.6 330.5h0.75v0.75h-0.75zM267.9 341.1h0.75v0.75h-0.75zM266.2 338.8h0.75v0.75h-0.75zM264.9 337.7h0.75v0.75h-0.75zM270.6 339.2h0.75v0.75h-0.75zM263.5 324.1h0.75v0.75h-0.75zM269.8 335.6h0.75v0.75h-0.75zM267.1 331.7h0.75v0.75h-0.75zM268.3 330.4h0.75v0.75h-0.75zM262.1 333.1h0.75v0.75h-0.75zM267.0 334.6h0.75v0.75h-0.75zM264.2 341.3h0.75v0.75h-0.75zM272.5 342.5h0.75v0.75h-0.75zM263.5 335.6h0.75v0.75h-0.75zM265.7 324.3h0.75v0.75h-0.75zM266.3 331.1h0.75v0.75h-0.75zM267.8 338.9h0.75v0.75h-0.75zM263.2 335.3h0.75v0.75h-0.75zM262.1 338.7h0.75v0.75h-0.75zM269.5 337.3h0.75v0.75h-0.75zM266.4 335.9h0.75v0.75h-0.75zM262.7 326.4h0.75v0.75h-0.75zM261.5 337.3h0.75v0.75h-0.75zM267.8 333.2h0.75v0.75h-0.75zM265.0 334.1h0.75v0.75h-0.75zM264.8 335.1h0.75v0.75h-0.75zM262.2 334.8h0.75v0.75h-0.75zM264.5 333.4h0.75v0.75h-0.75zM266.0 318.1h0.75v0.75h-0.75zM267.4 341.8h0.75v0.75h-0.75zM268.7 338.6h0.75v0.75h-0.75zM268.0 338.3h0.75v0.75h-0.75zM265.2 337.9h0.75v0.75h-0.75zM264.6 339.5h0.75v0.75h-0.75zM270.1 331.2h0.75v0.75h-0.75zM263.0 326.5h0.75v0.75h-0.75zM263.3 340.1h0.75v0.75h-0.75zM264.6 324.4h0.75v0.75h-0.75zM268.7 339.9h0.75v0.75h-0.75zM266.2 334.1h0.75v0.75h-0.75zM267.1 336.9h0.75v0.75h-0.75zM267.2 332.2h0.75v0.75h-0.75zM267.1 334.5h0.75v0.75h-0.75zM260.5 325.8h0.75v0.75h-0.75zM264.9 340.4h0.75v0.75h-0.75zM265.0 327.2h0.75v0.75h-0.75zM263.7 339.9h0.75v0.75h-0.75zM273.1 342.8h0.75v0.75h-0.75zM268.7 338.0h0.75v0.75h-0.75z" fill="#000" opacity="0.3"/>
<path d="M286.3 351.1h0.75v0.75h-0.75zM286.1 354.3h0.75v0.75h-0.75zM287.2 353.3h0.75v0.75h-0.75zM292.5 353.0h0.75v0.75h-0.75zM279.5 349.7h0.75v0.75h-0.75zM280.2 354.3h0.75v0.75h-0.75zM277.2 350.6h0.75v0.75h-0.75zM284.5 348.6h0.75v0.75h-0.75zM286.5 349.5h0.75v0.75h-0.75zM275.9 351.7h0.75v0.75h-0.75zM291.4 353.9h0.75v0.75h-0.75zM274.7 354.5h0.75v0.75h-0.75zM291.6 349.0h0.75v0.75h-0.75zM281.6 352.4h0.75v0.75h-0.75zM276.5 355.0h0.75v0.75h-0.75zM294.1 350.9h0.75v0.75h-0.75zM285.3 351.6h0.75v0.75h-0.75zM286.2 352.8h0.75v0.75h-0.75zM283.0 352.2h0.75v0.75h-0.75zM287.7 352.2h0.75v0.75h-0.75zM275.5 350.8h0.75v0.75h-0.75zM285.6 349.9h0.75v0.75h-0.75zM270.4 347.2h0.75v0.75h-0.75zM294.6 351.4h0.75v0.75h-0.75zM281.8 350.3h0.75v0.75h-0.75zM270.5 353.4h0.75v0.75h-0.75zM299.4 348.7h0.75v0.75h-0.75zM299.7 347.3h0.75v0.75h-0.75zM281.2 350.8h0.75v0.75h-0.75zM279.9 354.0h0.75v0.75h-0.75zM275.2 349.9h0.75v0.75h-0.75zM281.8 353.0h0.75v0.75h-0.75zM272.3 353.0h0.75v0.75h-0.75zM291.6 351.2h0.75v0.75h-0.75zM288.7 350.2h0.75v0.75h-0.75zM293.6 354.4h0.75v0.75h-0.75zM274.8 349.7h0.75v0.75h-0.75zM275.1 350.1h0.75v0.75h-0.75zM285.7 352.2h0.75v0.75h-0.75zM282.7 348.8h0.75v0.75h-0.75zM294.6 352.3h0.75v0.75h-0.75zM298.2 352.7h0.75v0.75h-0.75zM285.5 348.8h0.75v0.75h-0.75zM277.1 355.4h0.75v0.75h-0.75zM291.4 353.1h0.75v0.75h-0.75zM295.3 346.7h0.75v0.75h-0.75zM283.9 351.5h0.75v0.75h-0.75zM282.1 352.5h0.75v0.75h-0.75zM274.0 353.9h0.75v0.75h-0.75zM281.3 351.6h0.75v0.75h-0.75zM277.5 352.0h0.75v0.75h-0.75zM283.5 354.8h0.75v0.75h-0.75zM274.8 351.5h0.75v0.75h-0.75zM281.2 352.5h0.75v0.75h-0.75zM288.9 350.4h0.75v0.75h-0.75zM287.2 351.8h0.75v0.75h-0.75zM296.3 346.4h0.75v0.75h-0.75zM290.5 353.6h0.75v0.75h-0.75zM279.9 353.7h0.75v0.75h-0.75zM278.4 353.6h0.75v0.75h-0.75zM279.1 355.4h0.75v0.75h-0.75zM278.4 351.3h0.75v0.75h-0.75z" fill="#000" opacity="0.22"/>
</g>
<rect x="255.8" y="307.2" width="49.099999999999966" height="49.69999999999999" fill="none" stroke="#2a2a2a" stroke-width="1.1"/>
<line x1="274.5" y1="307.2" x2="274.5" y2="356.9" stroke="#222" stroke-width="1.1"/>
<line x1="255.8" y1="343.3" x2="304.9" y2="343.3" stroke="#222" stroke-width="1.1"/>
<text x="266.2" y="304.0" font-size="11.2" textLength="24.2" lengthAdjust="spacingAndGlyphs" fill="#111">GFP</text>
<line x1="290.6" y1="298.8" x2="293.6" y2="298.8" stroke="#222" stroke-width="0.9"/>
<line x1="292.1" y1="297.3" x2="292.1" y2="300.3" stroke="#222" stroke-width="0.9"/>
<text x="259.2" y="320.4" font-size="9.2" font-weight="bold" fill="#111" style="stroke-width:0.15px">8%</text>
<text x="291.2" y="355.5" font-size="9.2" font-weight="bold" fill="#111" style="stroke-width:0.15px">4%</text>
<text x="42.3" y="367.4" font-size="7.4" fill="#2a2a2a" style="stroke-width:0">10<tspan font-size="5" dy="-3.4">0</tspan></text>
<text x="54.0" y="367.4" font-size="7.4" fill="#2a2a2a" style="stroke-width:0">10<tspan font-size="5" dy="-3.4">1</tspan></text>
<text x="65.8" y="367.4" font-size="7.4" fill="#2a2a2a" style="stroke-width:0">10<tspan font-size="5" dy="-3.4">2</tspan></text>
<text x="77.5" y="367.4" font-size="7.4" fill="#2a2a2a" style="stroke-width:0">10<tspan font-size="5" dy="-3.4">3</tspan></text>
<text x="89.3" y="367.4" font-size="7.4" fill="#2a2a2a" style="stroke-width:0">10<tspan font-size="5" dy="-3.4">4</tspan></text>
<text transform="translate(41.6,357.0) rotate(-90)" font-size="7.4" fill="#2a2a2a" style="stroke-width:0" textLength="9.6" lengthAdjust="spacingAndGlyphs">10<tspan font-size="5" dy="-3.4">0</tspan></text>
<text transform="translate(41.6,346.7) rotate(-90)" font-size="7.4" fill="#2a2a2a" style="stroke-width:0" textLength="9.6" lengthAdjust="spacingAndGlyphs">10<tspan font-size="5" dy="-3.4">1</tspan></text>
<text transform="translate(41.6,336.4) rotate(-90)" font-size="7.4" fill="#2a2a2a" style="stroke-width:0" textLength="9.6" lengthAdjust="spacingAndGlyphs">10<tspan font-size="5" dy="-3.4">2</tspan></text>
<text transform="translate(41.6,326.1) rotate(-90)" font-size="7.4" fill="#2a2a2a" style="stroke-width:0" textLength="9.6" lengthAdjust="spacingAndGlyphs">10<tspan font-size="5" dy="-3.4">3</tspan></text>
<text transform="translate(41.6,315.8) rotate(-90)" font-size="7.4" fill="#2a2a2a" style="stroke-width:0" textLength="9.6" lengthAdjust="spacingAndGlyphs">10<tspan font-size="5" dy="-3.4">4</tspan></text>
<text x="105.6" y="367.4" font-size="7.4" fill="#2a2a2a" style="stroke-width:0">10<tspan font-size="5" dy="-3.4">0</tspan></text>
<text x="117.3" y="367.4" font-size="7.4" fill="#2a2a2a" style="stroke-width:0">10<tspan font-size="5" dy="-3.4">1</tspan></text>
<text x="129.1" y="367.4" font-size="7.4" fill="#2a2a2a" style="stroke-width:0">10<tspan font-size="5" dy="-3.4">2</tspan></text>
<text x="140.8" y="367.4" font-size="7.4" fill="#2a2a2a" style="stroke-width:0">10<tspan font-size="5" dy="-3.4">3</tspan></text>
<text x="152.6" y="367.4" font-size="7.4" fill="#2a2a2a" style="stroke-width:0">10<tspan font-size="5" dy="-3.4">4</tspan></text>
<text transform="translate(105.6,357.0) rotate(-90)" font-size="7.4" fill="#2a2a2a" style="stroke-width:0" textLength="9.6" lengthAdjust="spacingAndGlyphs">10<tspan font-size="5" dy="-3.4">0</tspan></text>
<text transform="translate(105.6,346.7) rotate(-90)" font-size="7.4" fill="#2a2a2a" style="stroke-width:0" textLength="9.6" lengthAdjust="spacingAndGlyphs">10<tspan font-size="5" dy="-3.4">1</tspan></text>
<text transform="translate(105.6,336.4) rotate(-90)" font-size="7.4" fill="#2a2a2a" style="stroke-width:0" textLength="9.6" lengthAdjust="spacingAndGlyphs">10<tspan font-size="5" dy="-3.4">2</tspan></text>
<text transform="translate(105.6,326.1) rotate(-90)" font-size="7.4" fill="#2a2a2a" style="stroke-width:0" textLength="9.6" lengthAdjust="spacingAndGlyphs">10<tspan font-size="5" dy="-3.4">3</tspan></text>
<text transform="translate(105.6,315.8) rotate(-90)" font-size="7.4" fill="#2a2a2a" style="stroke-width:0" textLength="9.6" lengthAdjust="spacingAndGlyphs">10<tspan font-size="5" dy="-3.4">4</tspan></text>
<text x="189.0" y="367.4" font-size="7.4" fill="#2a2a2a" style="stroke-width:0">10<tspan font-size="5" dy="-3.4">0</tspan></text>
<text x="200.8" y="367.4" font-size="7.4" fill="#2a2a2a" style="stroke-width:0">10<tspan font-size="5" dy="-3.4">1</tspan></text>
<text x="212.5" y="367.4" font-size="7.4" fill="#2a2a2a" style="stroke-width:0">10<tspan font-size="5" dy="-3.4">2</tspan></text>
<text x="224.2" y="367.4" font-size="7.4" fill="#2a2a2a" style="stroke-width:0">10<tspan font-size="5" dy="-3.4">3</tspan></text>
<text x="236.0" y="367.4" font-size="7.4" fill="#2a2a2a" style="stroke-width:0">10<tspan font-size="5" dy="-3.4">4</tspan></text>
<text transform="translate(189.6,357.0) rotate(-90)" font-size="7.4" fill="#2a2a2a" style="stroke-width:0" textLength="9.6" lengthAdjust="spacingAndGlyphs">10<tspan font-size="5" dy="-3.4">0</tspan></text>
<text transform="translate(189.6,346.7) rotate(-90)" font-size="7.4" fill="#2a2a2a" style="stroke-width:0" textLength="9.6" lengthAdjust="spacingAndGlyphs">10<tspan font-size="5" dy="-3.4">1</tspan></text>
<text transform="translate(189.6,336.4) rotate(-90)" font-size="7.4" fill="#2a2a2a" style="stroke-width:0" textLength="9.6" lengthAdjust="spacingAndGlyphs">10<tspan font-size="5" dy="-3.4">2</tspan></text>
<text transform="translate(189.6,326.1) rotate(-90)" font-size="7.4" fill="#2a2a2a" style="stroke-width:0" textLength="9.6" lengthAdjust="spacingAndGlyphs">10<tspan font-size="5" dy="-3.4">3</tspan></text>
<text transform="translate(189.6,315.8) rotate(-90)" font-size="7.4" fill="#2a2a2a" style="stroke-width:0" textLength="9.6" lengthAdjust="spacingAndGlyphs">10<tspan font-size="5" dy="-3.4">4</tspan></text>
<text x="254.8" y="367.4" font-size="7.4" fill="#2a2a2a" style="stroke-width:0">10<tspan font-size="5" dy="-3.4">0</tspan></text>
<text x="266.6" y="367.4" font-size="7.4" fill="#2a2a2a" style="stroke-width:0">10<tspan font-size="5" dy="-3.4">1</tspan></text>
<text x="278.3" y="367.4" font-size="7.4" fill="#2a2a2a" style="stroke-width:0">10<tspan font-size="5" dy="-3.4">2</tspan></text>
<text x="290.1" y="367.4" font-size="7.4" fill="#2a2a2a" style="stroke-width:0">10<tspan font-size="5" dy="-3.4">3</tspan></text>
<text x="301.8" y="367.4" font-size="7.4" fill="#2a2a2a" style="stroke-width:0">10<tspan font-size="5" dy="-3.4">4</tspan></text>
<text transform="translate(253.2,357.0) rotate(-90)" font-size="7.4" fill="#2a2a2a" style="stroke-width:0" textLength="9.6" lengthAdjust="spacingAndGlyphs">10<tspan font-size="5" dy="-3.4">0</tspan></text>
<text transform="translate(253.2,346.7) rotate(-90)" font-size="7.4" fill="#2a2a2a" style="stroke-width:0" textLength="9.6" lengthAdjust="spacingAndGlyphs">10<tspan font-size="5" dy="-3.4">1</tspan></text>
<text transform="translate(253.2,336.4) rotate(-90)" font-size="7.4" fill="#2a2a2a" style="stroke-width:0" textLength="9.6" lengthAdjust="spacingAndGlyphs">10<tspan font-size="5" dy="-3.4">2</tspan></text>
<text transform="translate(253.2,326.1) rotate(-90)" font-size="7.4" fill="#2a2a2a" style="stroke-width:0" textLength="9.6" lengthAdjust="spacingAndGlyphs">10<tspan font-size="5" dy="-3.4">3</tspan></text>
<text transform="translate(253.2,315.8) rotate(-90)" font-size="7.4" fill="#2a2a2a" style="stroke-width:0" textLength="9.6" lengthAdjust="spacingAndGlyphs">10<tspan font-size="5" dy="-3.4">4</tspan></text>
<text x="326.0" y="194.6" font-size="25" font-weight="bold" fill="#000">D</text>
<rect x="431.60" y="193.40" width="13.30" height="8.30" fill="#000"/>
<rect x="432.25" y="209.65" width="12.00" height="6.30" fill="#fff" stroke="#000" stroke-width="1.3"/>
<text x="449.3" y="201.5" font-size="11.8" textLength="53.6" lengthAdjust="spacingAndGlyphs" fill="#111">shRNActrl</text>
<text x="449.3" y="217.5" font-size="11.8" textLength="69" lengthAdjust="spacingAndGlyphs" fill="#111">shRNA <tspan font-style="italic">TAL1</tspan></text>
<line x1="373.5" y1="230.89999999999998" x2="373.5" y2="333.4" stroke="#c8c8c8" stroke-width="1"/>
<line x1="369.8" y1="332.9" x2="373.5" y2="332.9" stroke="#c8c8c8" stroke-width="1"/>
<text x="368.3" y="337.29999999999995" font-size="11.8" text-anchor="end" textLength="6.2" lengthAdjust="spacingAndGlyphs" fill="#111">0</text>
<line x1="369.8" y1="312.59999999999997" x2="373.5" y2="312.59999999999997" stroke="#c8c8c8" stroke-width="1"/>
<text x="368.3" y="316.99999999999994" font-size="11.8" text-anchor="end" textLength="15.9" lengthAdjust="spacingAndGlyphs" fill="#111">0.5</text>
<line x1="369.8" y1="292.29999999999995" x2="373.5" y2="292.29999999999995" stroke="#c8c8c8" stroke-width="1"/>
<text x="368.3" y="296.69999999999993" font-size="11.8" text-anchor="end" textLength="6.2" lengthAdjust="spacingAndGlyphs" fill="#111">1</text>
<line x1="369.8" y1="272.0" x2="373.5" y2="272.0" stroke="#c8c8c8" stroke-width="1"/>
<text x="368.3" y="276.4" font-size="11.8" text-anchor="end" textLength="15.9" lengthAdjust="spacingAndGlyphs" fill="#111">1.5</text>
<line x1="369.8" y1="251.7" x2="373.5" y2="251.7" stroke="#c8c8c8" stroke-width="1"/>
<text x="368.3" y="256.09999999999997" font-size="11.8" text-anchor="end" textLength="6.2" lengthAdjust="spacingAndGlyphs" fill="#111">2</text>
<line x1="369.8" y1="231.39999999999998" x2="373.5" y2="231.39999999999998" stroke="#c8c8c8" stroke-width="1"/>
<text x="368.3" y="235.79999999999998" font-size="11.8" text-anchor="end" textLength="15.9" lengthAdjust="spacingAndGlyphs" fill="#111">2.5</text>
<line x1="373.5" y1="333.4" x2="500" y2="333.4" stroke="#c8c8c8" stroke-width="1"/>
<text x="375.4" y="234.2" font-size="10.6" textLength="44" lengthAdjust="spacingAndGlyphs" fill="#111">x10<tspan font-size="6.6" dy="-3.6">6</tspan><tspan dy="3.6">/mL</tspan></text>
<line x1="387.9" y1="326.5" x2="387.9" y2="329.1" stroke="#111" stroke-width="1.3"/>
<line x1="384.4" y1="326.5" x2="391.3" y2="326.5" stroke="#111" stroke-width="1.6"/>
<line x1="405.5" y1="328.6" x2="405.5" y2="330.9" stroke="#111" stroke-width="1.3"/>
<line x1="401.7" y1="328.6" x2="409.8" y2="328.6" stroke="#111" stroke-width="1.6"/>
<line x1="428.7" y1="310.2" x2="428.7" y2="314.6" stroke="#111" stroke-width="1.3"/>
<line x1="424.5" y1="310.2" x2="432.8" y2="310.2" stroke="#111" stroke-width="1.6"/>
<line x1="446.1" y1="323.3" x2="446.1" y2="328.3" stroke="#111" stroke-width="1.3"/>
<line x1="442.1" y1="323.3" x2="450.4" y2="323.3" stroke="#111" stroke-width="1.6"/>
<line x1="469" y1="238.9" x2="469" y2="284.9" stroke="#111" stroke-width="1.3"/>
<line x1="465" y1="238.9" x2="473.7" y2="238.9" stroke="#111" stroke-width="1.6"/>
<line x1="486.3" y1="309.3" x2="486.3" y2="322.7" stroke="#111" stroke-width="1.3"/>
<line x1="482.9" y1="309.3" x2="491.1" y2="309.3" stroke="#111" stroke-width="1.6"/>
<rect x="378.30" y="329.10" width="18.20" height="4.30" fill="#000"/>
<rect x="397.15" y="331.55" width="15.80" height="1.20" fill="#fff" stroke="#000" stroke-width="1.3"/>
<rect x="419.20" y="314.60" width="17.40" height="18.80" fill="#000"/>
<rect x="437.25" y="328.95" width="16.10" height="3.80" fill="#fff" stroke="#000" stroke-width="1.3"/>
<rect x="459.40" y="284.90" width="18.00" height="48.50" fill="#000"/>
<rect x="478.05" y="323.35" width="16.20" height="9.40" fill="#fff" stroke="#000" stroke-width="1.3"/>
<text x="387.0" y="352.4" font-size="12.6" fill="#111">5</text>
<text x="424.0" y="352.4" font-size="12.6" fill="#111">10</text>
<text x="467.0" y="352.4" font-size="12.6" fill="#111">13</text>
<text x="387.3" y="369.7" font-size="13.6" textLength="99" lengthAdjust="spacingAndGlyphs" fill="#111">Days of culture</text>
<text transform="translate(345.3,369.4) rotate(-90)" x="0" y="0" font-size="9.8" textLength="162.5" lengthAdjust="spacingAndGlyphs" fill="#111" style="stroke-width:0.05px">Absolute CD15+/GFP+ cell number</text>
</svg></body></html>
